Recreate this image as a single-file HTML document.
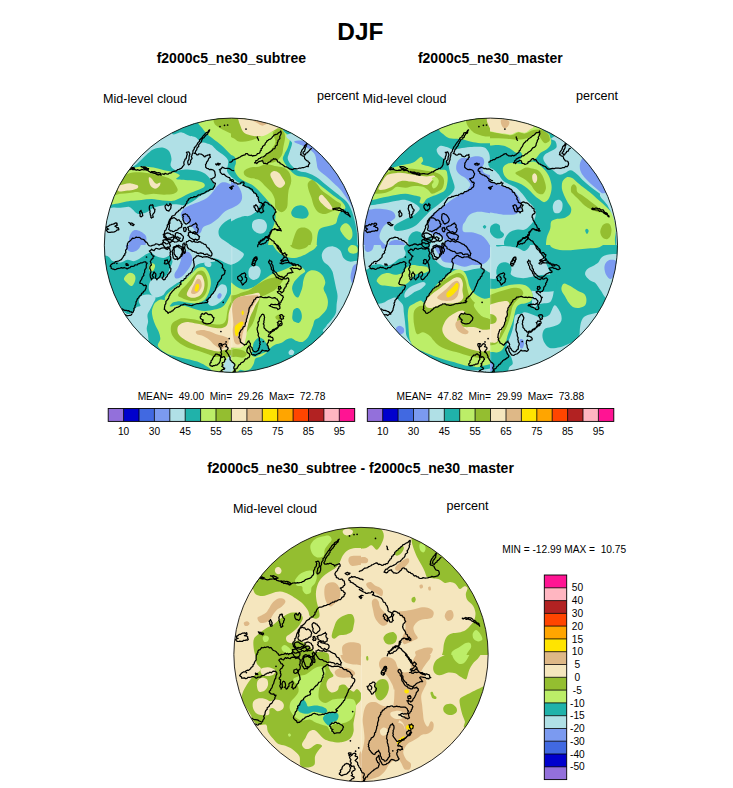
<!DOCTYPE html>
<html lang="en"><head><meta charset="utf-8"><title>DJF Mid-level cloud</title>
<style>html,body{margin:0;padding:0;background:#fff}body{width:733px;height:788px;overflow:hidden}svg{display:block}text{font-family:"Liberation Sans",sans-serif;fill:#000}.b{font-weight:bold}</style></head><body>
<svg width="733" height="788" viewBox="0 0 733 788">
<rect width="733" height="788" fill="#fff"/>
<defs><clipPath id="c1"><circle cx="231.5" cy="245.25" r="127.15"/></clipPath><clipPath id="c2"><circle cx="490.35" cy="245.25" r="127.15"/></clipPath><clipPath id="c3"><circle cx="361.0" cy="654.5" r="127.15"/></clipPath></defs>
<g clip-path="url(#c1)"><rect x="103.3" y="117.1" width="256.3" height="256.3" fill="#20B2AA"/><clipPath id="t1"><rect x="103" y="117" width="128" height="128"/></clipPath><g clip-path="url(#t1)"><rect x="103" y="117" width="128" height="128" fill="#B0E0E6"/><path d="M172 133.6C174 136.4 178.6 132 181.6 132.4C184.6 132.8 187.6 135.2 190 136C192.3 136.8 193.7 136.2 195.6 137.3C197.4 138.3 199.2 141.2 201 142.1C202.8 143.1 204.6 142.7 206.4 143.2C208.2 143.7 210.2 144.2 211.8 145.3C213.4 146.4 214.7 148.4 216.2 149.7C217.6 150.9 219.1 151.9 220.5 153C222 154.1 223.6 155 224.9 156.3C226.2 157.6 227.7 159 228.2 160.7C228.7 162.3 227.9 164.3 227.7 166.1C227.5 167.9 226.5 169.6 227.2 171.5C227.8 173.3 231.5 177.1 231.5 177.1L236.9 181.4L236.9 115.3L169.4 115.3C169.4 115.3 169.9 130.7 172 133.6Z" fill="#20B2AA"/><path d="M198.2 122.9C199 125 200.6 126.1 202 127.8C203.4 129.6 204.7 131.8 206.4 133.4C208 135.1 210 136.3 211.8 137.8C213.6 139.2 215.5 140.7 217.4 142.1C219.2 143.6 221.2 145.1 222.8 146.5C224.4 148 225.7 149.4 227.2 150.9C228.6 152.3 231.5 155.2 231.5 155.2L235.9 160.1L235.9 115.3L197.3 115.3C197.3 115.3 197.4 120.8 198.2 122.9Z" fill="#BCEE68"/><path d="M213.9 122.2C214.5 124 214.9 124.4 216.5 125.7C218.1 127 220.7 128.6 223.5 130.1C226.3 131.6 233.1 134.5 233.1 134.5L233.1 115.3L213 115.3C213 115.3 213.3 120.5 213.9 122.2Z" fill="#94BE30"/><path d="M129.2 168.5C136.8 166.3 142.6 157.7 146.7 154.5C150.7 151.3 151 150.5 153.6 149.3C156.3 148.1 159.8 147.3 162.4 147.6C164.9 147.9 167.5 149.2 169 151.1C170.5 152.9 171.2 156.4 171.5 158.9C171.7 161.4 169.9 164 170.8 165.9C171.6 167.8 174 169.7 176.3 170.3C178.7 170.8 181.9 169.4 185.1 169.4C188.3 169.4 192.2 169.5 195.6 170.3C198.9 171 202.4 171.9 205.2 173.8C207.9 175.6 210.5 179.4 212.1 181.6C213.7 183.8 215.2 185.2 214.8 186.8C214.3 188.5 211.8 189.8 209.5 191.2C207.2 192.7 203.4 194 200.8 195.6C198.2 197.2 196.4 199.2 193.8 200.8C191.2 202.4 188 204.6 185.1 205.2C182.2 205.8 179.8 204.3 176.3 204.3C172.8 204.3 167.9 204.6 164.1 205.2C160.3 205.8 156.6 206.6 153.6 207.8C150.7 209 149.3 211.2 146.7 212.2C144 213.2 140.3 214.4 137.9 213.9C135.6 213.5 134.1 210.7 132.7 209.6C131.2 208.4 131.2 207.2 129.2 206.9C127.2 206.6 123.4 207.7 120.5 207.8C117.6 208 114.9 207.1 111.7 207.8C108.5 208.5 101.3 212.2 101.3 212.2L101.3 167.6C101.3 167.6 121.6 170.7 129.2 168.5Z" fill="#20B2AA"/><path d="M130.9 167.6C137.9 167.4 139.4 166.4 143.2 166.4C146.9 166.4 150.1 167 153.6 167.6C157.1 168.3 160.6 169.4 164.1 170.3C167.6 171.1 172 171.7 174.6 172.5C177.2 173.4 179.5 174.4 179.8 175.5C180.1 176.6 175.5 178.3 176.3 179C177.2 179.7 181.9 179.6 185.1 179.9C188.3 180.2 192.5 180.2 195.6 180.7C198.6 181.3 202 182 203.4 183C204.9 184 205.3 185.6 204.3 186.8C203.3 188.1 199.9 189.2 197.3 190.3C194.7 191.5 191.5 192.5 188.6 193.8C185.7 195.1 182.5 197 179.8 198.2C177.2 199.4 175.8 200.4 172.8 200.8C169.9 201.2 165.9 200.8 162.4 200.5C158.9 200.2 155.4 199.2 151.9 199.1C148.4 199 144.9 199.7 141.4 199.9C137.9 200.2 134.1 200.4 130.9 200.8C127.7 201.3 125.1 202 122.2 202.6C119.3 203.1 117 203.9 113.5 204.3C110 204.7 101.3 205.2 101.3 205.2L101.3 167.6C101.3 167.6 124 167.8 130.9 167.6Z" fill="#BCEE68"/><path d="M124 174.6C127.4 174.3 129.5 172.9 132.7 172.5C135.9 172.2 139.7 172.2 143.2 172.5C146.7 172.8 150.1 173.6 153.6 174.3C157.1 174.9 161.1 175.4 164.1 176.4C167.2 177.3 170.1 178.4 172 179.9C173.9 181.3 174.5 183.4 175.5 185.1C176.4 186.8 178 188.9 177.7 190.3C177.4 191.8 176 193.1 173.7 193.8C171.5 194.6 167.5 194.7 164.1 194.7C160.8 194.7 156.8 193.8 153.6 193.8C150.4 193.8 147.5 195 144.9 194.7C142.3 194.4 140.5 192.4 137.9 192.1C135.3 191.8 132.1 192.7 129.2 193C126.3 193.3 123.4 193.7 120.5 193.8C117.6 194 113.2 197 111.7 193.8C110.3 190.6 109.7 177.8 111.7 174.6C113.8 171.4 120.5 175 124 174.6Z" fill="#94BE30"/><path d="M117 186.8C117.8 185.7 121.6 184.8 124 184.2C126.3 183.6 128.8 183.2 130.9 183.4C133.1 183.5 135.9 184.4 137.1 185.1C138.2 185.8 138.7 186.9 137.9 187.7C137.2 188.5 134.7 189.5 132.7 190C130.6 190.5 128 190.5 125.7 190.7C123.4 190.9 120.2 191.9 118.7 191.2C117.3 190.6 116.1 188 117 186.8Z" fill="#F5E6BE"/><path d="M148.8 177.8C149 176.8 150.6 177.7 151.5 178.5C152.5 179.3 153.6 181.6 154.5 182.5C155.4 183.4 156.2 183.7 157.1 183.7C158.1 183.7 159.8 182.2 160.3 182.5C160.7 182.8 160.4 184.4 159.8 185.5C159.1 186.5 157.4 188.2 156.3 188.6C155.1 189 153.8 188.5 152.8 187.7C151.7 187 150.5 185.9 149.8 184.2C149.1 182.6 148.5 178.7 148.8 177.8Z" fill="#F5E6BE"/><path d="M221.7 182.5C223.8 181.9 226.8 182.6 228.7 183.4C230.6 184.1 233.1 186.8 233.1 186.8L233.1 207.8C233.1 207.8 227.7 209.6 225.2 211.3C222.8 213 220.6 216.2 218.3 218.3C215.9 220.3 213.7 222.1 211.3 223.5C208.8 225 205.2 225.6 203.4 227C201.7 228.5 201.8 231.1 200.8 232.3C199.8 233.4 198.5 234.6 197.3 234C196.1 233.4 195.3 230.5 193.8 228.8C192.3 227 190.3 225 188.6 223.5C186.8 222.1 184.6 221.5 183.3 220C182 218.6 180.7 216.5 180.7 214.8C180.7 213 182 211 183.3 209.6C184.6 208.1 186.2 207.2 188.6 206.1C190.9 204.9 194.5 203.7 197.3 202.6C200.1 201.4 202.8 200.5 205.2 199.1C207.5 197.6 209.4 195.9 211.3 193.8C213.2 191.8 214.8 188.7 216.5 186.8C218.3 185 219.7 183.1 221.7 182.5Z" fill="#7B9AF0"/><path d="M129.2 237.5C129.9 234.7 131.7 231.5 133.6 230.5C135.5 229.5 138.5 230.5 140.5 231.4C142.6 232.3 144.8 234.1 145.8 235.7C146.7 237.3 146.5 239.1 146.3 241C146.2 242.9 144.9 247.1 144.9 247.1L129.2 247.1C129.2 247.1 128.5 240.3 129.2 237.5Z" fill="#7B9AF0"/><path d="M219.1 228.8C220.1 226.4 222.9 223.7 225.2 221.8C227.6 219.9 233.1 217.4 233.1 217.4L233.1 247.1C233.1 247.1 230.3 244.8 228.7 243.6C227.1 242.4 225.1 241.4 223.5 240.1C221.9 238.8 219.9 237.6 219.1 235.7C218.4 233.9 218.1 231.1 219.1 228.8Z" fill="#20B2AA"/></g><clipPath id="t2"><rect x="231" y="117" width="128" height="128"/></clipPath><g clip-path="url(#t2)"><rect x="231" y="117" width="128" height="128" fill="#BCEE68"/><path d="M229.3 154.5C229.3 154.5 233.4 155.4 234.5 156.8C235.6 158.2 235.9 160.7 235.9 162.8C235.9 164.8 234.1 167.1 234.5 169.4C234.8 171.7 236.2 174.3 238 176.4C239.7 178.4 242.4 180 245 181.6C247.6 183.2 250.9 183.9 253.7 186C256.5 188 259.1 191.2 261.6 193.8C264 196.5 266.5 199.4 268.5 201.7C270.6 204 272.6 205.3 273.8 207.8C274.9 210.3 275.5 213.6 275.5 216.5C275.5 219.4 274.7 222.4 273.8 225.3C272.9 228.2 271.3 230.4 270.3 234C269.3 237.6 267.7 247.1 267.7 247.1L229.3 247.1L229.3 154.5Z" fill="#20B2AA"/><path d="M229.3 175.5C229.3 175.5 230.2 176.1 231.5 177.1C232.8 178.1 235.1 180.2 236.9 181.4C238.7 182.7 240.3 183.3 242.4 184.6C244.4 185.8 247 187.5 249 188.9C251 190.4 252.9 192 254.4 193.3C255.9 194.6 256.8 195.4 257.7 197C258.6 198.5 259.6 200.8 259.8 202.6C260 204.4 259.7 206.2 258.9 207.8C258.2 209.4 257 211 255.4 212.3C253.8 213.7 251.3 215.2 249.3 215.8C247.4 216.5 245.8 215.8 243.7 216.2C241.7 216.6 239.2 217.4 236.8 218.5C234.3 219.5 229.3 222.6 229.3 222.6L229.3 175.5Z" fill="#B0E0E6"/><path d="M229.3 181.3C229.3 181.3 234.8 182.7 236.8 184.4C238.7 186.1 240.3 189.1 241.1 191.4C242 193.7 242.3 196.3 242 198.4C241.7 200.4 240.7 202.2 239.4 203.6C238.1 205.1 235.8 206.2 234.1 207.1C232.5 208 229.3 209.2 229.3 209.2L229.3 181.3Z" fill="#7B9AF0"/><path d="M252.8 221.8C253.6 220.3 255.4 219.5 257.2 219.2C258.9 218.8 261.7 218.8 263.3 219.7C264.9 220.6 266.4 222.6 266.8 224.4C267.2 226.2 266.8 229 265.9 230.5C265.1 232 263.2 233.3 261.6 233.6C260 234 257.9 233.6 256.3 232.6C254.8 231.6 252.9 229.7 252.3 227.9C251.7 226.1 252 223.2 252.8 221.8Z" fill="#B0E0E6"/><path d="M229.3 115.3L229.3 136.2C229.3 136.2 232.9 138 234.5 138.8C236.1 139.7 236.5 141.1 238.9 141.4C241.2 141.8 245.4 141.7 248.5 141.1C251.5 140.5 254.6 139.1 257.2 138C259.8 136.8 261.9 135.5 264.2 134.5C266.5 133.4 268.8 132.4 271.2 131.8C273.5 131.3 276.1 131.4 278.1 131C280.2 130.5 281.6 129.8 283.4 129.2C285.1 128.6 287.8 129.8 288.6 127.5C289.5 125.1 288.6 115.3 288.6 115.3L229.3 115.3Z" fill="#94BE30"/><path d="M272.9 132.7C273.9 130.8 279.6 129.5 281.6 130.1C283.7 130.7 284.8 133.4 285.1 136.2C285.4 139 284 143.5 283.4 146.7C282.8 149.9 283 152.9 281.6 155.4C280.3 157.9 277.9 160.3 275.5 161.5C273.2 162.8 270 163 267.7 162.8C265.3 162.5 261.9 161.2 261.6 159.8C261.3 158.4 264.2 156.4 265.9 154.5C267.7 152.7 270.4 150.6 272 148.4C273.6 146.2 275.4 144.1 275.5 141.4C275.7 138.8 271.9 134.6 272.9 132.7Z" fill="#94BE30"/><path d="M244.1 171.1C245 169.8 247.7 168.4 250.2 167.6C252.7 166.9 256.3 167.4 258.9 166.8C261.6 166.2 263.3 164.3 265.9 164.1C268.5 164 271.7 165.3 274.7 165.9C277.6 166.5 280.9 166.5 283.4 167.6C285.9 168.8 288.2 170.6 289.5 172.9C290.8 175.2 291.4 178.7 291.2 181.6C291.1 184.5 289.2 187.4 288.6 190.3C288 193.3 288 196.2 287.8 199.1C287.5 202 287.9 205.6 286.9 207.8C285.9 210 283.5 212.2 281.6 212.2C279.7 212.2 276.7 210 275.5 207.8C274.4 205.6 275.4 201.7 274.7 199.1C273.9 196.5 272.6 194.1 271.2 192.1C269.7 190.1 268 188.9 265.9 186.8C263.9 184.8 261.6 181.3 258.9 179.9C256.3 178.4 252.5 178.8 250.2 178.1C247.9 177.4 246 176.7 245 175.5C244 174.3 243.2 172.4 244.1 171.1Z" fill="#94BE30"/><path d="M270.3 174.6C270.4 173 272.3 171.4 273.8 171.1C275.2 170.8 277.6 171.7 279 172.9C280.5 174 281.5 176.4 282.5 178.1C283.5 179.9 285.4 181.8 285.1 183.4C284.8 185 282.2 187.3 280.8 187.7C279.3 188.2 277.7 187.1 276.4 186C275.1 184.8 273.9 182.6 272.9 180.7C271.9 178.8 270.1 176.2 270.3 174.6Z" fill="#F5E6BE"/><path d="M307.8 183.4C308.4 181.6 310.7 179.9 312.2 179.9C313.7 179.9 315 181.6 316.6 183.4C318.2 185.1 319.8 188.3 321.8 190.3C323.8 192.4 326.5 193.8 328.8 195.6C331.1 197.3 333.7 199.4 335.8 200.8C337.8 202.3 340.6 202.9 341 204.3C341.5 205.8 339.8 208.4 338.4 209.6C336.9 210.7 334.5 210.6 332.3 211.3C330.1 212 327.6 213.8 325.3 213.9C323 214.1 320.2 213.5 318.3 212.2C316.4 210.9 315.1 208.5 313.9 206.1C312.8 203.6 312.2 199.9 311.3 197.3C310.5 194.7 309.3 192.7 308.7 190.3C308.1 188 307.3 185.1 307.8 183.4Z" fill="#94BE30"/><path d="M319.2 196.5C319.6 195.6 320.6 194.3 321.8 194.7C323 195.1 324.6 197.2 326.2 199.1C327.8 201 330.4 204.3 331.4 206.1C332.4 207.8 332.9 209.1 332.3 209.6C331.7 210 329.5 209.6 327.9 208.7C326.3 207.8 324.1 205.8 322.7 204.3C321.2 202.9 319.8 201.3 319.2 199.9C318.6 198.6 318.7 197.3 319.2 196.5Z" fill="#F5E6BE"/><path d="M291.2 247.1C291.2 247.1 292.7 240.5 293.9 237.5C295 234.4 296.2 230.4 298.2 228.8C300.3 227.2 303.9 227.3 306.1 227.9C308.3 228.5 310.3 230.4 311.3 232.3C312.3 234.1 312.5 236.8 312.2 239.2C311.9 241.7 309.6 247.1 309.6 247.1L291.2 247.1Z" fill="#94BE30"/><path d="M237.1 115.3C237.1 115.3 238.6 121.1 239.7 124C240.9 126.9 241.8 130.7 244.1 132.7C246.4 134.7 250.5 135.3 253.7 135.9C256.9 136.4 260.5 136.4 263.3 135.9C266.1 135.3 268.1 133.5 270.3 132.4C272.5 131.2 274.5 129.8 276.4 128.9C278.3 127.9 280.8 128.9 281.6 126.6C282.5 124.3 281.6 115.3 281.6 115.3L237.1 115.3Z" fill="#F5E6BE"/><path d="M252.8 119.6C251.7 120.3 255.6 122.1 257.2 123.1C258.8 124.1 260.8 125.7 262.4 125.7C264 125.7 266.5 124.3 266.8 123.1C267.1 121.9 266.5 119.3 264.2 118.7C261.9 118.2 254 118.9 252.8 119.6Z" fill="#DEB887"/><path d="M287.8 127.5C275.9 129.2 290 134.6 290 138C290 141.3 288.7 144.8 287.8 147.6C286.8 150.3 285 152.5 284.3 154.5C283.5 156.6 282.3 157.5 283 159.8C283.8 162.1 286.4 165.9 288.6 168.5C290.9 171.1 293.6 174 296.5 175.5C299.4 177 303 176.3 306.1 177.2C309.1 178.2 311.8 179.4 314.8 181.3C317.9 183.2 321.4 186.2 324.4 188.6C327.5 191 330.2 193.4 333.2 195.6C336.1 197.8 339.8 199.7 341.9 201.7C343.9 203.7 345.7 206.1 345.4 207.8C345.1 209.6 341.5 210.4 340.1 212.2C338.8 213.9 338.2 216.4 337.5 218.3C336.8 220.2 337.2 222.2 335.8 223.5C334.3 224.8 331.4 225.3 328.8 226.1C326.2 227 322 227.2 320.1 228.8C318.2 230.4 318 232.7 317.4 235.7C316.9 238.8 316.6 247.1 316.6 247.1L361.1 247.1L361.1 127.5C361.1 127.5 299.6 125.7 287.8 127.5Z" fill="#20B2AA"/><path d="M291.2 133.6C279 135.3 292.4 140.1 292.1 143.2C291.8 146.2 290.2 149.3 289.5 151.9C288.8 154.5 287.3 156.6 287.8 158.9C288.2 161.2 290.2 163.9 292.1 165.9C294 167.9 296.5 170 299.1 171.1C301.7 172.3 304.9 171.9 307.8 172.9C310.7 173.9 313.7 175.4 316.6 177.2C319.5 179.1 322.4 181.9 325.3 184.2C328.2 186.6 331.1 188.9 334 191.2C336.9 193.5 340.4 196.2 342.8 198.2C345.1 200.2 346.5 201.2 348 203.4C349.5 205.7 350.9 208.6 352 211.5C353.1 214.3 353.8 217.3 354.6 220.6C355.4 223.8 356.3 227.7 356.7 231C357.2 234.3 357.1 237.6 357.3 240.3C357.4 243 357.6 247.1 357.6 247.1L365.5 247.1L365.5 132.7C365.5 132.7 303.5 131.8 291.2 133.6Z" fill="#B0E0E6"/><path d="M298.2 140.6C287.8 141.6 300.7 144.4 302.6 145.8C304.5 147.3 307.5 147.9 309.6 149.3C311.6 150.8 313.7 152.4 314.8 154.5C316 156.7 316 159.9 316.6 162.4C317.1 164.9 316.9 167.2 318.3 169.4C319.8 171.6 322.7 173.2 325.3 175.5C327.9 177.8 331.4 180.9 334 183.4C336.6 185.8 338.8 187.7 341 190.3C343.2 193 345.4 196.6 347.1 199.1C348.8 201.5 350 202.9 351.1 205.2C352.3 207.5 353.3 210.1 354.1 212.7C355 215.3 355.6 217.5 356.2 220.6C356.8 223.6 357.6 227.7 358 231C358.3 234.3 358.3 237.6 358.5 240.3C358.6 243 358.8 247.1 358.8 247.1L365.5 247.1L365.5 139.7C365.5 139.7 308.7 139.6 298.2 140.6Z" fill="#7B9AF0"/><path d="M291.2 212.2C291.5 210.6 293.1 208.1 294.7 206.9C296.3 205.8 299 205 300.8 205.2C302.7 205.3 304.8 206.3 306.1 207.8C307.4 209.3 308.9 212.2 308.7 213.9C308.6 215.7 307 217.6 305.2 218.3C303.5 219 300.3 218.6 298.2 218.3C296.2 218 294.2 217.6 293 216.5C291.8 215.5 291 213.8 291.2 212.2Z" fill="#20B2AA"/><path d="M340.1 228.8C340.3 227.3 341.6 225.3 342.8 224.4C343.9 223.5 345.7 222.8 347.1 223.5C348.6 224.2 350.6 226.7 351.5 228.8C352.4 230.8 352.7 233.9 352.4 235.7C352.1 237.6 350.9 239.8 349.7 240.1C348.6 240.4 346.7 238.7 345.4 237.5C344.1 236.3 342.8 234.6 341.9 233.1C341 231.7 340 230.2 340.1 228.8Z" fill="#BCEE68"/></g><clipPath id="t3"><rect x="103" y="245" width="128" height="128"/></clipPath><g clip-path="url(#t3)"><rect x="103" y="245" width="128" height="128" fill="#20B2AA"/><path d="M101.3 243.3L101.3 255.1C101.3 255.1 106.3 255.4 108.2 256.4C110.1 257.3 110.6 260 112.6 261.1C114.6 262.1 118 262.7 120.5 262.5C122.9 262.3 125.1 260.1 127.4 259.8C129.8 259.6 132.2 261.4 134.4 261.1C136.6 260.8 138.5 259.3 140.5 258.1C142.6 256.9 144.8 255 146.7 254.1C148.5 253.2 150.4 252.6 151.9 252.9C153.4 253.1 153.5 255 155.4 255.8C157.3 256.7 160.8 258.1 163.2 258.1C165.7 258.1 168.3 255.5 170.2 255.8C172.1 256.1 173.6 259.9 174.6 259.8C175.6 259.8 175.2 256.8 176.3 255.5C177.5 254.2 180.1 254 181.6 252C183 249.9 185.1 243.3 185.1 243.3L101.3 243.3Z" fill="#B0E0E6"/><path d="M170.2 255.5C170.8 256.9 173.9 252.9 176.3 252C178.8 251.1 182.2 250.2 185.1 250.2C188 250.2 191.2 251.1 193.8 252C196.4 252.9 198.5 254.5 200.8 255.5C203.1 256.4 205.6 257.1 207.8 257.6C210 258 212.1 257.9 214.1 258.3C216 258.6 217.3 258.9 219.3 259.7C221.3 260.5 224 262.2 226.3 263.2C228.6 264.2 233.1 265.6 233.1 265.6L233.1 243.3L172.8 243.3C172.8 243.3 169.6 254 170.2 255.5Z" fill="#B0E0E6"/><path d="M170.2 255.5C170.9 253.9 173.9 252.9 176.3 252C178.8 251.1 182.2 250.2 185.1 250.2C188 250.2 191.2 251.1 193.8 252C196.4 252.9 198.5 254.6 200.8 255.5C203.1 256.4 205.4 256.6 207.8 257.2C210.1 257.8 213.6 258.2 214.8 259C215.9 259.7 215.9 261 214.8 261.6C213.6 262.2 210.1 262.2 207.8 262.5C205.4 262.8 202.8 262.8 200.8 263.3C198.8 263.9 197 264.4 195.6 266C194.1 267.6 193.8 270.8 192.1 272.9C190.3 275.1 187.4 277.5 185.1 279.1C182.7 280.7 180.1 281.4 178.1 282.5C176.1 283.7 174.7 284.7 172.8 286C171 287.3 168.5 288.8 166.7 290.4C165 292 164.3 294.5 162.4 295.6C160.5 296.8 157.3 297.7 155.4 297.4C153.5 297.1 152.1 295.4 151 293.9C149.9 292.4 149 290.5 148.8 288.7C148.5 286.8 149 284.1 149.8 282.5C150.6 280.9 151.8 279.8 153.6 279.1C155.4 278.3 158.6 278.7 160.6 278.2C162.7 277.7 164.4 277.5 165.9 276.1C167.3 274.6 168.3 271.9 169.4 269.4C170.5 267 172.4 263.9 172.5 261.6C172.6 259.3 169.6 257.1 170.2 255.5Z" fill="#B0E0E6"/><path d="M150.1 294.8C151.9 295.2 154.8 296.1 155.4 297.4C156 298.7 154.5 300.7 153.6 302.6C152.8 304.5 151.5 306.7 150.5 308.7C149.5 310.8 147.9 312.7 147.5 314.8C147.1 317 148.2 319.5 148.1 321.8C147.9 324.2 146.7 326.5 146.7 328.8C146.7 331.1 148.1 333.2 148.1 335.8C148.1 338.4 149.8 343.1 146.7 344.5C143.5 346 134.7 348 129.2 344.5C123.7 341 114.9 329.3 113.5 323.6C112 317.9 118.1 312.1 120.5 310.5C122.8 308.9 125.4 313.7 127.4 314C129.5 314.3 131.2 313.3 132.7 312.2C134.1 311.2 134.9 308.6 136.2 307.5C137.5 306.4 140.1 306.7 140.5 305.8C141 304.8 138.8 303.3 138.8 301.8C138.8 300.2 139.5 297.7 140.5 296.5C141.6 295.4 143.3 295.1 144.9 294.8C146.5 294.5 148.4 294.3 150.1 294.8Z" fill="#B0E0E6"/><path d="M125.7 243.3C125.7 243.3 125.7 247 126.6 248.5C127.4 249.9 129.2 251.7 130.9 252C132.7 252.3 135.5 251.3 137.1 250.2C138.7 249.2 140 247 140.5 245.9C141.1 244.7 140.5 243.3 140.5 243.3L125.7 243.3Z" fill="#7B9AF0"/><path d="M182.5 252.9C183.8 251.4 187 251.3 188.6 252C190.2 252.7 191.6 255.2 192.1 257.2C192.5 259.3 192.1 261.9 191.2 264.2C190.3 266.5 188.6 269 186.8 271.2C185.1 273.4 182.6 276.1 180.7 277.3C178.8 278.5 176.5 278.8 175.5 278.2C174.5 277.6 174.2 275.6 174.6 273.8C175 272.1 177.1 269.9 178.1 267.7C179.1 265.5 180 263.2 180.7 260.7C181.4 258.2 181.1 254.3 182.5 252.9Z" fill="#7B9AF0"/><path d="M207.8 302.6C207.6 300.9 209.8 298 211.3 295.6C212.7 293.3 214.8 290.5 216.5 288.7C218.3 286.8 220.1 284.7 221.7 284.3C223.3 283.9 225.2 284.7 226.1 286C227 287.3 227.4 290 227 292.1C226.5 294.3 224.9 297.2 223.5 299.1C222 301 220.1 302.3 218.3 303.5C216.4 304.7 213.9 306.3 212.1 306.1C210.4 306 207.9 304.4 207.8 302.6Z" fill="#B0E0E6"/><path d="M217.4 295.6C217.7 294.8 218.9 293.2 219.6 293C220.4 292.9 221.6 293.9 221.7 294.8C221.9 295.6 221 297.7 220.3 298.3C219.7 298.8 218.4 298.7 217.9 298.3C217.4 297.8 217.1 296.5 217.4 295.6Z" fill="#7B9AF0"/><path d="M204.3 263.3C204.6 262.5 206.6 261.6 207.8 261.6C208.9 261.6 210.8 262.5 211.3 263.3C211.7 264.2 211.3 266.3 210.4 266.8C209.5 267.3 207 266.9 206 266.3C205 265.7 204 264.1 204.3 263.3Z" fill="#B0E0E6"/><path d="M124 278.2C124.4 276.6 127.4 273.5 129.2 272.9C130.9 272.4 133.4 273.5 134.4 274.7C135.5 275.9 135.7 278 135.3 279.9C134.9 281.8 133.3 285.6 131.8 286C130.4 286.5 127.9 283.9 126.6 282.5C125.3 281.2 123.5 279.8 124 278.2Z" fill="#BCEE68"/><path d="M148.8 266.8C149 265.5 150.8 263.6 151.9 263.3C152.9 263 154.7 263.9 155 265.1C155.3 266.2 154.5 269.3 153.6 270.3C152.8 271.3 151 271.8 150.1 271.2C149.3 270.6 148.5 268.1 148.8 266.8Z" fill="#BCEE68"/><path d="M198.2 267.7C199.9 267.1 202.5 266.5 204.3 267.4C206 268.2 207.5 270.6 208.6 272.9C209.8 275.3 210.8 278.8 210.9 281.7C211.1 284.6 210.3 287.8 209.5 290.4C208.8 293 207.5 295.6 206.4 297.4C205.2 299.2 204.3 300.2 202.5 301.2C200.7 302.2 198.2 303.3 195.6 303.5C192.9 303.7 189.4 303 186.8 302.6C184.2 302.2 182.2 301.2 179.8 301.2C177.5 301.2 174.6 301.8 172.8 302.6C171.1 303.4 170.5 306.1 169.4 306.1C168.2 306.1 166.6 304.1 165.9 302.6C165.1 301.2 164.4 299.1 165 297.4C165.6 295.6 167.8 293.7 169.4 292.1C171 290.5 172.6 289.4 174.6 287.8C176.6 286.2 179.3 284.4 181.6 282.5C183.9 280.7 186.5 278.3 188.6 276.4C190.6 274.5 192.2 272.6 193.8 271.2C195.4 269.7 196.4 268.3 198.2 267.7Z" fill="#BCEE68"/><path d="M155.4 302.6C156.6 301.5 158.7 299.7 160.6 299.5C162.5 299.3 165.1 300.1 166.7 301.2C168.3 302.4 168.6 305.8 170.2 306.5C171.8 307.1 173.9 305.3 176.3 305.2C178.8 305.2 182.2 305.5 185.1 306.1C188 306.7 190.6 307.9 193.8 308.7C197 309.6 200.8 310.9 204.3 311C207.7 311.2 211.6 310.2 214.4 309.6C217.2 309.1 219.1 308.6 220.9 307.7C222.6 306.8 223.7 305.8 224.9 304.4C226.1 302.9 227.2 300.9 228.2 299.1C229.2 297.4 230 295.5 230.8 293.9C231.6 292.3 233.1 289.5 233.1 289.5L233.1 375.1L214.8 375.1C214.8 375.1 212.9 371.5 211.3 369.9C209.7 368.3 207.5 366.9 205.2 365.5C202.8 364.1 200.4 362.8 197.3 361.6C194.2 360.5 190.3 359.7 186.8 358.9C183.3 358 179.7 357.3 176.3 356.4C173 355.5 169.8 355.3 166.7 353.6C163.7 351.9 159.1 348.7 158 346.3C156.9 343.9 160.1 341.6 160.3 339.3C160.4 337 159.7 334.6 158.9 332.3C158.1 330 156.4 327.7 155.4 325.3C154.4 323 153.5 320.7 152.9 318.3C152.4 316 151.8 313.4 151.9 311.4C152 309.3 152.7 307.6 153.3 306.1C153.9 304.7 154.2 303.7 155.4 302.6Z" fill="#BCEE68"/><path d="M198.2 271.2C199.6 270.6 202 270.2 203.4 271.2C204.9 272.2 206.2 275 206.9 277.3C207.6 279.6 207.9 282.5 207.8 285.2C207.6 287.8 207 290.8 206 293C205 295.2 203.4 297 201.7 298.3C199.9 299.6 197.7 300.5 195.6 300.9C193.4 301.3 190.7 301 188.6 300.5C186.4 300.1 184.2 299.1 182.5 298.3C180.7 297.4 178.4 297 178.1 295.6C177.8 294.3 179.5 292 180.7 290.4C181.9 288.8 183.5 287.8 185.1 286C186.7 284.3 188.7 281.8 190.3 279.9C191.9 278 193.4 276.1 194.7 274.7C196 273.2 196.7 271.8 198.2 271.2Z" fill="#94BE30"/><path d="M197.3 274.7C198.5 274.1 200.5 274.4 201.7 275.6C202.8 276.7 203.9 279.5 204.3 281.7C204.7 283.9 204.5 286.5 203.9 288.7C203.4 290.8 202.2 293.3 200.8 294.8C199.4 296.2 197.3 297 195.6 297.4C193.8 297.8 191.8 297.8 190.3 297.4C188.9 297 187.1 296.1 186.8 294.8C186.5 293.5 187.7 291.3 188.6 289.5C189.4 287.8 191 286 192.1 284.3C193.1 282.5 193.8 280.7 194.7 279.1C195.6 277.5 196.1 275.3 197.3 274.7Z" fill="#F5E6BE"/><path d="M197.3 279.1C198.3 278.5 199.7 278.8 200.4 279.9C201.2 281.1 201.9 284.1 201.7 286C201.4 287.9 200.2 290 199 291.3C197.9 292.6 196 293.6 194.7 293.9C193.4 294.2 191.6 293.9 191.2 293C190.7 292.1 191.5 290.3 192.1 288.7C192.6 287.1 193.8 285 194.7 283.4C195.6 281.8 196.3 279.6 197.3 279.1Z" fill="#DEB887"/><path d="M196.4 284.3C197 283.9 198.3 283.7 198.7 284.3C199.1 284.9 199.3 286.6 199 287.8C198.8 288.9 198 290.8 197.3 291.3C196.6 291.8 195 291.5 194.7 290.8C194.3 290 194.9 288 195.2 286.9C195.5 285.8 195.8 284.7 196.4 284.3Z" fill="#FFE400"/><path d="M237.5 294.8L231.7 300.5C231.7 300.5 229.5 304.3 228.7 306.3C228 308.2 227.5 310.4 227.2 312.2C226.8 314.1 226.8 315.8 226.5 317.5C226.1 319.1 225.8 320.9 224.9 322C224 323.1 222.6 323.9 220.9 324.3C219.1 324.7 216.8 324.5 214.4 324.3C212 324 209.2 323.3 206.6 322.7C203.9 322.1 201.3 321 198.7 320.4C196.1 319.8 193.5 319.4 190.8 319C188.2 318.7 184.8 318.4 183 318.3C181.1 318.3 181.5 318 179.8 318.7C178.1 319.4 174.4 321 172.8 322.7C171.3 324.4 170.8 326.6 170.8 328.8C170.7 331 171.3 333.6 172.5 335.8C173.7 338 175.7 340 178.1 341.9C180.5 343.8 183.6 345.7 186.8 347.2C190 348.6 194.1 349.6 197.3 350.6C200.5 351.7 203.1 352.6 206 353.6C208.9 354.6 212.1 356.2 214.8 356.8C217.4 357.3 218.7 356.8 221.7 356.8C224.8 356.8 233.1 356.8 233.1 356.8L237.5 294.8Z" fill="#94BE30"/><path d="M235.7 300C235.7 300 232 304.7 230.8 307C229.7 309.3 229.2 311.4 228.7 313.6C228.3 315.8 228.5 318.1 228.2 320.1C227.9 322 227.8 324 226.8 325.3C225.8 326.6 224.1 327.5 222.3 327.9C220.4 328.4 217.8 328.2 215.6 327.9C213.5 327.7 211.4 327.2 209.2 326.7C207 326.2 204.7 325.3 202.5 324.8C200.4 324.3 198.3 324 196.1 323.6C193.9 323.1 191.6 322.3 189.4 322.2C187.3 322 185.2 322 183.3 322.7C181.4 323.4 179 324.6 178.1 326.2C177.2 327.8 177.2 330.4 177.7 332.3C178.3 334.2 179.5 335.8 181.6 337.6C183.7 339.3 187.4 341.3 190.3 342.8C193.2 344.2 195.8 345.1 199 346.3C202.2 347.4 206.3 348.9 209.5 349.8C212.7 350.6 215.6 351.5 218.3 351.5C220.9 351.5 222.8 350.1 225.2 349.8C227.7 349.5 233.1 349.8 233.1 349.8L235.7 300Z" fill="#F5E6BE"/><path d="M196.1 331.3C196.9 330.5 200.4 329.9 202.5 329.9C204.7 329.9 207 330.6 209.2 331.3C211.4 331.9 213.5 333.1 215.6 333.9C217.8 334.6 220.3 335.2 222.3 335.8C224.2 336.4 226.4 337 227.5 337.7C228.6 338.5 228.6 339.4 228.7 340.3C228.8 341.3 228.6 342.7 228.2 343.7C227.8 344.7 227.1 345.4 226.1 346.3C225.1 347.2 223.6 348.7 222.3 348.9C221 349.1 219.6 348.3 218.3 347.7C216.9 347 215.9 346.4 214.4 345.1C212.9 343.8 211.2 341.4 209.2 339.8C207.2 338.3 204.5 336.7 202.5 335.8C200.6 334.9 198.4 335.3 197.3 334.6C196.2 333.8 195.2 332.1 196.1 331.3Z" fill="#DEB887"/><path d="M233.1 354.1C233.1 354.1 230 355.6 228.7 356.8C227.4 357.9 226.2 359.4 225.2 361.1C224.3 362.9 223.4 364.9 223.1 367.2C222.9 369.6 223.5 375.1 223.5 375.1L233.1 375.1L233.1 354.1Z" fill="#B0E0E6"/></g><clipPath id="t4"><rect x="231" y="245" width="128" height="128"/></clipPath><g clip-path="url(#t4)"><rect x="231" y="245" width="128" height="128" fill="#20B2AA"/><path d="M272 243.3C272 243.3 274.5 248.2 276.4 250.2C278.3 252.3 280.8 254.2 283.4 255.5C286 256.8 289.2 258 292.1 258.1C295 258.2 298.2 257.2 300.8 256.4C303.5 255.5 305.5 254.2 307.8 252.9C310.2 251.5 313.1 250.1 314.8 248.5C316.6 246.9 318.3 243.3 318.3 243.3L272 243.3Z" fill="#BCEE68"/><path d="M289.5 243.3C289.5 243.3 290.5 246.6 292.1 247.6C293.7 248.6 296.8 249.4 299.1 249.4C301.4 249.4 304.3 248.6 306.1 247.6C307.8 246.6 309.6 243.3 309.6 243.3L289.5 243.3Z" fill="#94BE30"/><path d="M229.3 243.3C229.3 243.3 229.8 244.4 231.7 245.7C233.6 247 238.4 249.5 240.4 250.9C242.5 252.4 243.9 253 243.9 254.4C243.9 255.9 241.9 258.2 240.4 259.7C239 261.1 237.1 262.2 235.2 263.2C233.3 264.1 229.3 265.3 229.3 265.3L229.3 243.3Z" fill="#B0E0E6"/><path d="M248.5 271.2C248.8 269.4 249.6 267.7 251.1 266.8C252.5 266 255.6 265.4 257.2 266C258.8 266.5 260.4 268.4 260.7 270.3C261 272.2 260.1 275.7 258.9 277.3C257.8 278.9 255.3 279.9 253.7 279.9C252.1 279.9 250.2 278.8 249.3 277.3C248.5 275.9 248.2 272.9 248.5 271.2Z" fill="#B0E0E6"/><path d="M321.8 254.6C322.1 252.4 323.4 249.9 325.3 248.5C327.2 247.1 330.7 246.1 333.2 246.4C335.6 246.7 338.4 248.3 340.1 250.2C341.9 252.2 342 256.2 343.6 258.1C345.2 260 346.8 261.3 349.7 261.6C352.7 261.9 361.1 259.8 361.1 259.8L361.1 332.3C361.1 332.3 331.1 333.3 325.3 332.3C319.5 331.3 325.2 328.2 326.2 326.2C327.2 324.2 329.8 322.3 331.4 320.1C333 317.9 334.9 315.7 335.8 313.1C336.6 310.5 336.4 307.3 336.6 304.4C336.9 301.5 337.7 298.6 337.5 295.6C337.4 292.7 336.4 289.8 335.8 286.9C335.2 284 334.6 280.8 334 278.2C333.4 275.6 333.2 273.2 332.3 271.2C331.4 269.2 330.2 267.6 328.8 266C327.3 264.4 324.7 263.5 323.6 261.6C322.4 259.7 321.5 256.8 321.8 254.6Z" fill="#B0E0E6"/><path d="M351.5 271.2C352.1 269 352.5 266.5 354.1 265.1C355.7 263.6 361.1 262.5 361.1 262.5L361.1 285.2C361.1 285.2 355 285.5 353.2 284.3C351.5 283.1 350.9 280.4 350.6 278.2C350.3 276 350.9 273.4 351.5 271.2Z" fill="#7B9AF0"/><path d="M348 248.5C348.4 247.3 350 245.3 351.5 245C352.9 244.7 355.7 245.6 356.7 246.7C357.7 247.9 358.2 250.8 357.6 252C357 253.1 354.7 253.7 353.2 253.7C351.8 253.7 349.7 252.9 348.9 252C348 251.1 347.6 249.7 348 248.5Z" fill="#BCEE68"/><path d="M229.3 280.8C229.3 280.8 232.5 283.7 234 284.8C235.4 285.9 236.2 286.7 238 287.4C239.7 288.2 242.3 289.3 244.4 289.4C246.6 289.4 249.1 288.6 251.1 288C253.1 287.3 254.6 286.5 256.3 285.3C258.1 284.2 259.8 282.5 261.6 281.1C263.3 279.8 264.9 278.7 266.8 277.5C268.7 276.3 270.4 274.9 272.9 273.8C275.4 272.7 279 271.9 281.6 270.8C284.3 269.8 286.3 268.7 288.6 267.7C291 266.7 293.6 265.2 295.6 265.1C297.6 264.9 299.2 265.8 300.8 266.8C302.5 267.8 305.2 269.9 305.2 271.2C305.2 272.5 302.2 273.5 300.8 274.7C299.5 275.9 298.5 276.9 297.4 278.2C296.2 279.5 294.7 280.8 293.9 282.5C293 284.3 292 286.5 292.1 288.7C292.3 290.8 293.7 294.2 294.7 295.6C295.8 297.1 297.2 298 298.2 297.4C299.2 296.8 300.1 294 300.8 292.1C301.6 290.3 302.2 288.1 302.6 286C303 284 302.9 282 303.5 279.9C304.1 277.9 304.8 275.4 306.1 273.8C307.4 272.2 309.4 270.8 311.3 270.3C313.2 269.9 315.5 270.3 317.4 271.2C319.3 272.1 321.4 273.7 322.7 275.6C324 277.5 325.2 280.4 325.3 282.5C325.4 284.7 323.4 286.6 323.6 288.7C323.7 290.7 325.4 292.7 326.2 294.8C326.9 296.8 327.8 298.7 327.9 300.9C328.1 303.1 327.8 305.8 327 307.9C326.3 309.9 324.9 311.5 323.6 313.1C322.2 314.7 320.6 316.3 319.2 317.5C317.7 318.6 315.8 318.8 314.8 320.1C313.8 321.4 313.8 323.3 313.1 325.3C312.3 327.4 311.3 330.3 310.5 332.3C309.6 334.3 309.1 336 307.8 337.6C306.5 339.2 304.5 341.3 302.6 341.9C300.7 342.5 298.2 341.6 296.5 341C294.7 340.5 293.7 338.7 292.1 338.4C290.5 338.1 288.6 338.6 286.9 339.3C285.1 340 283.5 341.9 281.6 342.8C279.7 343.7 277.4 343.7 275.5 344.5C273.6 345.4 271.9 346.6 270.3 348C268.7 349.5 267.5 351.8 265.9 353.3C264.3 354.7 262.4 355.9 260.7 356.8C258.9 357.6 256.6 357.3 255.4 358.5C254.3 359.7 254.6 362 253.7 363.7C252.8 365.5 251.7 367.8 250.2 369C248.8 370.1 246.7 370.6 245 370.7C243.2 370.9 241.2 369.1 239.7 369.9C238.3 370.6 236.2 375.1 236.2 375.1L229.3 375.1L229.3 280.8Z" fill="#BCEE68"/><path d="M292.5 314.8C292.7 313.2 292.9 310.7 293.9 309.6C294.8 308.5 297 307.8 298.2 308.2C299.5 308.7 300.6 310.5 301.2 312.2C301.8 313.9 302.1 316.6 301.7 318.3C301.4 320.1 300.3 322.1 299.1 322.7C297.9 323.3 295.8 322.4 294.7 321.8C293.6 321.3 292.8 320.4 292.5 319.2C292.1 318.1 292.2 316.5 292.5 314.8Z" fill="#20B2AA"/><path d="M253.7 342.8C254.7 340.8 257.3 338.1 258.9 337.6C260.5 337 262.1 338.4 263.3 339.3C264.5 340.2 265.1 341.6 265.9 342.8C266.8 344 267.9 345.1 268.5 346.3C269.2 347.4 270.2 348.8 269.8 349.8C269.3 350.7 267.4 351.1 265.9 351.9C264.4 352.6 262.4 353.3 260.7 354.1C258.9 355 256.9 356.6 255.4 356.8C254 356.9 252.4 356.2 252 355C251.5 353.8 252.5 351.8 252.8 349.8C253.1 347.7 252.7 344.8 253.7 342.8Z" fill="#20B2AA"/><path d="M229.3 295.6C229.3 295.6 234 295.3 236.1 294.8C238.2 294.2 239.8 293.2 241.8 292.5C243.9 291.8 246.5 291.3 248.5 290.4C250.4 289.5 251.7 288.2 253.7 286.9C255.7 285.6 258.4 283.9 260.7 282.5C263 281.2 265.3 279.9 267.7 279.1C270 278.2 272.5 277.9 274.7 277.3C276.8 276.7 279.2 275.6 280.8 275.6C282.4 275.6 284.1 276.1 284.3 277.3C284.4 278.5 282.8 280.8 281.6 282.5C280.5 284.3 278.7 286.3 277.3 287.8C275.8 289.2 274.8 290.1 272.9 291.3C271 292.4 268 293.7 265.9 294.8C263.9 295.8 261.9 296.1 260.7 297.4C259.5 298.7 259.5 300.6 258.9 302.6C258.4 304.7 257.8 307.3 257.2 309.6C256.6 311.9 256.2 314.3 255.4 316.6C254.7 318.9 253.8 321.5 252.8 323.6C251.8 325.6 250.5 327.1 249.3 328.8C248.2 330.6 246.9 332.2 245.8 334.1C244.8 336 244.2 338.3 243.2 340.2C242.2 342.1 241.2 344.1 239.7 345.4C238.3 346.7 236.2 347.4 234.5 348C232.7 348.6 229.3 348.9 229.3 348.9L229.3 295.6Z" fill="#94BE30"/><path d="M229.3 349.8C229.3 349.8 233.9 348.8 236.2 348.9C238.6 349 241.5 349.8 243.2 350.6C245 351.5 246.7 353 246.7 354.1C246.7 355.3 245 357.2 243.2 357.6C241.5 358.1 238.6 356.8 236.2 356.8C233.9 356.8 229.3 357.6 229.3 357.6L229.3 349.8Z" fill="#94BE30"/><path d="M275.5 316.6C276 315.8 277.9 314.5 279 314.5C280.1 314.5 281.8 315.7 282 316.6C282.1 317.5 280.8 319.3 279.9 319.7C279 320.2 277.1 319.7 276.4 319.2C275.7 318.7 275.1 317.4 275.5 316.6Z" fill="#94BE30"/><path d="M227.5 320.1L228.9 313.6L230.8 307C230.8 307 232.6 302.7 234 301.1C235.4 299.4 237.2 298.2 239.2 297.2C241.2 296.3 243.7 295.8 245.8 295.3C248 294.7 250.2 294.3 252.3 293.9C254.4 293.5 256.9 292.6 258.2 292.8C259.6 293.1 260 294.1 260.2 295.3C260.3 296.5 259.7 298.2 258.9 299.8C258.2 301.5 256.6 303.2 255.6 305.1C254.6 306.9 253.9 309.1 253 311C252.1 312.9 251.1 314.3 250.4 316.2C249.6 318.2 249 320.5 248.5 322.7C247.9 324.9 247.4 327.4 247.1 329.3C246.7 331.3 246.9 332.6 246.5 334.6C246.2 336.5 245.6 339.2 245.1 341C244.7 342.9 244.7 344.5 243.9 345.6C243.2 346.7 242 347.3 240.6 347.7C239.2 348 237.5 347.7 235.4 347.7C233.2 347.7 227.5 347.7 227.5 347.7L227.5 320.1Z" fill="#F5E6BE"/><path d="M232.7 303.2C233.3 301.4 234.1 300.2 235.4 299.1C236.7 298 238.7 297.1 240.6 296.5C242.6 296 244.9 296 247.1 295.8C249.2 295.6 251.8 295.3 253.7 295.3C255.6 295.3 257.8 294.9 258.2 295.8C258.7 296.7 257.2 298.9 256.3 300.5C255.4 302.2 254.1 304 253 305.8C251.9 307.5 250.7 309.3 249.7 311C248.7 312.8 247.8 314.3 247.1 316.2C246.3 318.2 245.7 320.5 245.1 322.7C244.6 324.9 244.4 327.4 243.9 329.3C243.5 331.3 242.9 332.8 242.5 334.6C242.2 336.3 242.1 338.3 241.8 339.8C241.5 341.3 241.4 342.9 240.6 343.7C239.8 344.4 238.3 344.6 237.3 344.4C236.3 344.2 235.3 343.6 234.7 342.4C234 341.2 233.8 339.2 233.4 337.2C233.1 335.2 232.7 332.7 232.7 330.6C232.7 328.4 233.4 326.5 233.4 324.1C233.4 321.7 233 318.7 232.7 316.2C232.5 313.8 232 311.8 232 309.6C232 307.4 232.2 304.9 232.7 303.2Z" fill="#DEB887"/><path d="M234.8 327.1C235.3 325.2 236.8 324.5 238 323.6C239.1 322.6 240.9 321.5 241.8 321.5C242.8 321.4 243.6 322.3 243.6 323.2C243.5 324.2 242.3 325.7 241.5 327.1C240.7 328.4 239.5 330 238.9 331.4C238.2 332.9 238.2 335.2 237.6 335.8C237.1 336.4 235.8 336.4 235.4 334.9C234.9 333.5 234.4 329 234.8 327.1Z" fill="#FFE400"/><path d="M241.5 312.2C241.5 311.4 242.5 310.3 242.9 310.5C243.3 310.6 244 312.3 243.9 313.1C243.9 313.9 242.9 315.3 242.5 315.2C242.1 315.1 241.4 313 241.5 312.2Z" fill="#FFE400"/><path d="M288.6 351.9C288.9 351 290.3 349.5 291.2 349.4C292.2 349.4 293.9 350.6 294.2 351.5C294.5 352.4 293.8 354.1 293 354.7C292.2 355.2 290.2 355.1 289.5 354.7C288.8 354.2 288.3 352.7 288.6 351.9Z" fill="#B0E0E6"/><path d="M229.3 361.1C229.3 361.1 232.7 361.9 233.6 362.9C234.5 363.9 234.8 365.8 234.5 367.2C234.2 368.7 232.7 370.9 231.9 371.6C231 372.3 229.3 371.6 229.3 371.6L229.3 361.1Z" fill="#B0E0E6"/></g><path d="M231.8 247.2V372.4" stroke="#fff" stroke-opacity="0.45" stroke-width="0.6" fill="none"/><g transform="translate(231.5 245.2)" fill="none" stroke="#000" stroke-width="1.25" stroke-linejoin="round" stroke-linecap="round"><path d="M-105.3 -72.5L-104.6 -73.6L-103.9 -74.8L-102.7 -75.5L-101.6 -75.7L-100.9 -76.9L-99.7 -76.9L-98.9 -76.2L-98 -75.6L-96.5 -75.5L-95.2 -75.1L-93.6 -75.5L-92.2 -74.8L-91 -75L-90 -75.8L-88.7 -75.5L-87.5 -75.4L-86.3 -75.8L-85.2 -75.1L-83.8 -75L-82.8 -74L-81.7 -73.4L-80.7 -72.5L-79.2 -72.9L-78.2 -72L-76.8 -72L-75.6 -71.3L-74.6 -70.9L-73.6 -70.3L-72.5 -70.7L-71.2 -70.8L-69.9 -71.2L-68.6 -71.3L-67.5 -70.7L-66.3 -71.9L-65.1 -71.3L-63.6 -71L-62.3 -72L-60.8 -72L-59.9 -72.9L-58.8 -73.5L-57.6 -73.8L-56.4 -74.1L-55 -74.3L-54 -75.6L-52.6 -75.8L-51.5 -76.3L-50.4 -76.8L-49.4 -77.6L-48.9 -78.7L-48 -79.6L-47.3 -80.7L-47.7 -82.1L-47.5 -83.5L-46.8 -84.7L-46.5 -85.9L-45.4 -86.6L-45.1 -87.7L-44.9 -88.8L-44.7 -89.8L-44.2 -90.8L-44.5 -91.9L-45.1 -92.9L-43.9 -93.2L-42.8 -93.4L-41.9 -92.2L-41.6 -90.8L-42.2 -89.6L-42.4 -88.3L-42.4 -87L-42.6 -85.5L-43.5 -84.3L-43.8 -83L-43.5 -81.7L-43.1 -80.4L-42 -80.7L-41.4 -81.7L-40.7 -83L-41 -84.4L-40.3 -85.6L-39.4 -86.9L-40.2 -88.6L-39.5 -90L-39.3 -91.1L-38.6 -92.2L-38.6 -93.4L-38.5 -94.6L-37.7 -95.4L-37.2 -96.4L-37.1 -97.8L-35.8 -98.4L-35.4 -99.6L-34.5 -100.4L-34 -101.6L-33.4 -102.7L-32.1 -103.6L-31.9 -105.2L-30.9 -106.2L-29.8 -107.2L-29 -108.4L-28.1 -109.7L-27.1 -110.5L-26.3 -111.6L-25.3 -112.5L-24.2 -112.8L-23.3 -113.4L-22.9 -114.6L-21.8 -115.3L-22.2 -114.2L-22.7 -113.2L-23.6 -112.4L-23.8 -111L-25 -110.4L-26 -109.6L-26.7 -108.7L-27.4 -107.6L-28.7 -106.9L-29.4 -105.8L-29.9 -104.4L-30.3 -103.2L-31.1 -102.3L-32 -101.3L-32.8 -100.3L-32.8 -98.7L-34.1 -97.8L-34.6 -96.6L-34.8 -95.3L-35.8 -94.3L-36.1 -92.8L-37.2 -91.7L-35.6 -91.5L-34.6 -90.3L-33.5 -90.3L-32.7 -91.3L-31.6 -91.2L-30.1 -91L-28.8 -90.1L-27.9 -89.7L-27.5 -88.6L-26.4 -88.4L-25.9 -89.4L-24.8 -89.6L-23.9 -90.1L-22.7 -90.4L-21.5 -90.8L-21.7 -89.3L-21 -88L-22 -87.5L-22.8 -86.7L-23.2 -85.6L-23.6 -84.5L-24.3 -83.7L-25 -82.8L-25.1 -81.6L-26 -80.7L-25.8 -79.5L-25.8 -77.9L-24.6 -76.9L-23.2 -76.6L-22.2 -75.5L-20.8 -75.9L-19.4 -75.5L-18.4 -75.2L-17.6 -74.6L-16.9 -73.7L-16.6 -72.6L-16.5 -71.4L-16.1 -70.2L-16.4 -69.1L-16.8 -67.9L-18 -67.3L-19.4 -66.7L-20.8 -66.4L-19.9 -65.6L-19.5 -64.6L-18.7 -63.8L-18.2 -62.6L-17.1 -62.3L-16.1 -61.8L-16.4 -60.7L-16.8 -59.7L-16.9 -58.5L-18 -57.8L-18.4 -56.4L-19.7 -55.9L-21.1 -55.8L-22.2 -55.1L-23.2 -54.2L-24.6 -54L-25.7 -53.3L-26.7 -52.4L-27.8 -51.9L-29 -51.5L-30.2 -51.2L-31.2 -50.2L-32.6 -50.4L-33.7 -49.8L-34.7 -48.8L-35.8 -48.4L-37.2 -48.6L-38.3 -47.9L-39.4 -47.5L-40.7 -47.5L-41.8 -46.6L-43.1 -46.1L-43.4 -44.6L-44.7 -43.7L-44.5 -42.5L-45.1 -41.6L-45.9 -40.9L-46.1 -39.8L-46.9 -39.2L-47.7 -38.4L-48.1 -37.4L-49.6 -37.7L-50.1 -36.7L-51 -36.2L-51.5 -35.2L-52.6 -34.9L-53.3 -33.8L-54.3 -33.1L-55.4 -32.3L-56 -31.3L-56.6 -30.2L-57.8 -29.7L-58.9 -29.4L-59.8 -28.8L-60.2 -27.6L-61.1 -26.5L-62 -25.3L-62.5 -24L-63 -22.7L-63.2 -21.2L-64.3 -20.1L-64.1 -18.8L-64.6 -17.7L-65.1 -16.6L-65.4 -15.3L-66.7 -14.5L-66.9 -13.1L-67.2 -11.6L-68.3 -10.5L-67.2 -9.7L-67.9 -8.2L-66.9 -7.4L-65.6 -6.8L-64.3 -6.3L-63.1 -7.1L-61.6 -7L-60.3 -7.6L-59 -8.2L-57.5 -8.2L-56.4 -7L-55.1 -7.7L-53.8 -8.4L-52.8 -7.2L-51.2 -7L-52.1 -6.4L-52.5 -5.4L-52.9 -4.4L-53.8 -3.7L-54.9 -3.4L-56.1 -3.2L-57.1 -3L-58 -4L-59 -3.9L-60.4 -3.3L-61.6 -2.6L-62.8 -2.6L-63.7 -1.6L-64.8 -1.4L-65.9 -1.5L-66.6 -2.6L-67.8 -2.6L-69.1 -2.2L-69.5 -0.9L-70.6 -1L-71.6 -0.7L-72.5 -0L-73.3 -0.9L-74.4 -1.2L-75.6 -1.4L-76.8 -0.4L-78.2 -0L-79.2 0.2L-80.2 0.7L-81.2 0.8L-82.5 0.4L-83.4 -0.6L-84 -1.7L-84.7 -2.8L-86 -3.3L-86.8 -4.6L-87.8 -5.7L-89.2 -6L-90.4 -6.3L-91.4 -7.4L-92.5 -7.9L-93.9 -7.7L-95.3 -8.1L-96.5 -7.2L-97.8 -6.8L-99.2 -7L-99.9 -5.8L-100.9 -4.8L-101.9 -3.8L-103.2 -3.2L-103.6 -2.2L-104.2 -1.2L-103.9 -0M-90.5 -78.6L-89.1 -78L-87.5 -78.3L-86.1 -78.1L-85.1 -77.4L-84.2 -76.7L-82.9 -76.5L-83.4 -75.6L-84.3 -75.6L-85.4 -76.2L-86.5 -77L-87.8 -76.9L-88.5 -77.7L-89.4 -78.3ZM-80 -73.7L-78.5 -73.5L-77 -73.7L-75.6 -73L-74.2 -72.3L-72.7 -72.5L-71.2 -72L-71.2 -70.8L-70.4 -69.9L-71.4 -70.7L-72.7 -70.2L-73.9 -70.6L-75 -70.8L-75.9 -71.8L-77.1 -71.9L-78.2 -72L-79.4 -72.5ZM-101.8 -76.5L-100.7 -77.6L-99.2 -77.7L-97.9 -77.7L-96.9 -76.9L-98.1 -76.6L-98.7 -75.5L-99.6 -76.2L-100.9 -75.7ZM-125.4 -18.4L-124 -18.6L-122.8 -19L-121.9 -20.1L-120.7 -20.2L-119.8 -20.9L-118.6 -21L-117.5 -21.3L-116.6 -22L-115.5 -22.3L-114.4 -21.9L-114.8 -20.9L-114 -20.1L-115.4 -19.7L-116.6 -18.9L-115.5 -18.4L-114.5 -17.4L-113.2 -17.5L-112.8 -16.5L-112.6 -15.4L-113.9 -15.4L-114.9 -14.8L-115.8 -14L-117.2 -13.3L-118.6 -13.1L-120.1 -13.1L-121.3 -12.9L-122.5 -12.8L-123.6 -13.1L-124.4 -14.1L-125.4 -14.9L-124.2 -15.8L-122.8 -16.1L-123.7 -16.5L-124.5 -17.1L-125.3 -17.5ZM-102.7 -22.7L-101.5 -21.9L-100.1 -22.2L-99.1 -21.8L-98.3 -21.2L-97.4 -20.6L-98.3 -19.6L-99.6 -20.2L-100.9 -20.6L-101.4 -22ZM-91.9 -33.2L-91.2 -34.1L-90.5 -34.9L-90.3 -33.4L-89.2 -32.3L-89.1 -31.3L-88.9 -30.3L-88.7 -29.4L-89.6 -28.9L-90.5 -28.3L-91.5 -29.2L-91.3 -30.6L-91.7 -31.9ZM-82.2 -36.7L-82.2 -38L-81.9 -39.3L-80.9 -40.2L-79.9 -40L-79.1 -40.5L-78.4 -39.7L-78.5 -38.6L-78.2 -37.6L-77.6 -36.5L-76.5 -35.8L-76.8 -34.7L-76.8 -33.4L-77.4 -32.3L-78.1 -31.5L-78.8 -30.6L-78.6 -29.3L-78.2 -28L-79.3 -27.9L-80 -27.1L-80.8 -28L-80.5 -29.3L-81.2 -30.3L-81.2 -31.5L-81.7 -32.7L-81.4 -34.1L-82 -35.4ZM-66.5 -39.3L-65.6 -40.1L-64.8 -41.1L-64.2 -39.9L-63 -39.3L-61.9 -40.4L-61.6 -41.9L-60.9 -41.1L-60.2 -40.2L-60.6 -39L-60.6 -37.9L-60.8 -36.7L-61.4 -35.8L-62.1 -35.1L-62.5 -34.1L-63.7 -34.5L-64.8 -34.9L-65.4 -35.8L-66 -36.7L-66.3 -38ZM-15.9 -81.2L-14.5 -81.1L-13.6 -82.1L-12.4 -81.5L-11 -81.4L-12.2 -81.1L-12.7 -80L-13.7 -80.7L-14.8 -80.2ZM2.1 -74.6L0.6 -74.7L-0.7 -75.6L-1.9 -76.5L-3.4 -76.8L-4.9 -76.9L-6.1 -76.7L-7.2 -77L-8.2 -77.7L-9.3 -78.1L-9.9 -76.8L-11 -76.1L-12.2 -75.5L-11.2 -74.7L-11.4 -73.3L-10.7 -72.3L-9.8 -71.5L-8.9 -70.8L-7.4 -71.1L-6.6 -70.2L-5.6 -69.2L-4.4 -68.4L-3.1 -67.8L-1.9 -67.5L-1.3 -66.1L-0.3 -65.4L1.2 -65.6L2.1 -64.6M2.1 -59L0.6 -59.1L-0.5 -58L-1.9 -57.7L-0.9 -56.8L0 -55.9M-1.7 -83L-0.3 -83.1L0.7 -83.9L1.3 -85.3L2.6 -85.6L3.9 -86.1L5.2 -86.5L6.4 -87L7.5 -87.8L8.7 -88.2L9.7 -89.1L11 -89.6L12.2 -90L13.5 -90.3L14.3 -91.7L15.7 -91.7L16.5 -90.8L17.5 -90L18.6 -89.7L19.9 -90L21 -89.1L22.1 -89.6L23.3 -89.5L24.4 -90L25.3 -90.5L25.9 -91.6L27.1 -91.7L28.2 -92.2L28.5 -93.2L28.8 -94.3L29.9 -94.9L29.5 -96.4L30.6 -96.9L30.9 -98L31.2 -99L32.3 -99.6L33.5 -100.5L33.8 -102.1L34.9 -103.1L35.5 -104.3L36.6 -104.9L37.5 -105.7L39 -106.1L40.1 -107.1L41 -108.3L42 -109.4L43.1 -110.4L44.5 -110.9L45.8 -111L46.6 -112L47.5 -112.7L48.5 -113.2L49.2 -114.2L49.7 -112.8L49.6 -111.4L48.9 -110L48.3 -109L48.3 -107.8L48.4 -106.6L47.5 -105.7L46.5 -104.8L46.5 -103.6L45.8 -102.5L45.8 -101.3L45.5 -99.9L44 -99.2L43.7 -97.8L43.2 -96.5L41.6 -96.4L41 -95.2L39.9 -94.3L38.8 -93.3L37.5 -92.6L36.3 -91.8L34.9 -91.3L34.1 -90L33 -89.1L31.9 -88.4L30.6 -88.2L29.4 -87.7L28.4 -86.7L27.1 -86.5L26.5 -85.5L25.6 -84.9L24.4 -84.7L24.2 -83.3L23.1 -82.4L24.3 -82.5L25.3 -81.7L26 -82.6L26.9 -83.3L27.9 -83.8L29.4 -84L30.6 -84.7L31.4 -83.9L31.7 -82.7L32.3 -81.7L33.5 -82L34.7 -81.6L35.8 -81.2L36.6 -82.6L37.9 -83.2L39.3 -83.8L39.7 -85.2L41.3 -85.4L41.9 -86.5L42.9 -86.1L44.1 -86.3L45.1 -85.6L45.8 -84.7L46 -83.5L47.1 -83L48.3 -82.8L48.7 -81.5L49.8 -81.2L50.7 -80.7L51.5 -80.1L52.4 -79.5L53.4 -78.5L54.8 -78.4L55.9 -77.7L57 -77.1L58.1 -76.3L59.4 -76L60.9 -75.5L62.3 -76.5L63.7 -76.5L65.3 -76.3L66.7 -76.7L68.1 -77.2L69.6 -77.2L71 -77.7L72.5 -77.7L73.9 -78.2L75.3 -78.9L76.8 -78.6L76.9 -79.8L77.3 -80.9L78.2 -81.7L77.9 -82.7L76.8 -83.2L76.5 -84.2L75.1 -84.5L74.2 -85.6L73.1 -86.7L73 -88.2L72.1 -89.2L70.7 -89.4L70.1 -90.4L69 -90.5L69.5 -91.4L69.3 -92.5L69.8 -93.4L70.3 -94.8L71 -95.9L71.9 -96.9L72.7 -98.1L73.1 -99.5L74.2 -100.4L74.8 -101.1L75.4 -101.7L75.5 -100.6L74.4 -99.8L74.7 -98.7L73.7 -97.8L73.8 -96.4L73.3 -95.2L73.1 -93.9L71.6 -93.1L71.6 -91.7L72.6 -91L73.3 -90L74.1 -91L74.6 -92.2L76 -92.6L76.6 -93.5L77.5 -94.3L78.2 -95.2L79.1 -96.1L80 -96.9M-1.7 -65L-0.5 -64.7L0.4 -63.8L1.8 -63.7L2.6 -62.5L3.9 -62.4L5.1 -62.1L6.1 -61.1L7.6 -61.4L9.1 -61.5L9.5 -62.8L10.8 -63.2L12.1 -63.1L12.6 -62L12.2 -60.8L11.4 -59.7L12.8 -59.5L14 -58.7L15.1 -58.2L16.3 -58L17.5 -57.7L18.4 -56.8L19.5 -56.3L20.6 -55.9L21.1 -54.5L22 -53.3L22.5 -52.3L23.7 -52.1L24.4 -51.4L25.2 -50.6L25.1 -49.2L26.2 -48.6L26.9 -47.6L26.5 -46.4L27.1 -45.4L27.3 -44.1L27.9 -42.8L29.5 -42.7L30.6 -41.6L31.8 -41.8L32.8 -42.3L33.5 -43.3L34.9 -42.7L36.3 -42.3L36.9 -41.4L37.7 -40.6L38.8 -40.2L40 -39.9L40.6 -38.8L41.6 -38.1L42.3 -37.3L42.6 -36.3L43.7 -35.8L43.8 -34.4L44.7 -33.2L43.5 -32.4L43 -31.1L42.4 -30.1L41.6 -29.2L41.6 -28L41.9 -26.7L42.4 -25.5L43.1 -24.5L44 -23.6L44.7 -22.6L44.7 -21.3L45.7 -20.8L46 -19.8L46.5 -18.9L47.6 -18.4L47.8 -16.9L48.9 -16.4L49.3 -15.4L49.8 -14.3L48.8 -14.7L47.8 -14.9L46.8 -14.9L45.9 -15.6L44.7 -15.9L43.7 -16.4L42.6 -15.5L41.2 -15.7L40 -15L39.3 -13.6L38.6 -12.8L38.5 -11.8L38.1 -10.9L37.4 -10.1L36.7 -9.3L36.3 -8.4L35.6 -7.4L34.3 -7.7L33.5 -7L32.9 -6.2L32.2 -5.4L31.1 -5.3L30.5 -4.3L29.4 -4.1L28.8 -3.2L28.2 -1.9L27.1 -1.1L26.3 0L26.2 1.4M22.4 -39.3L23.7 -39.4L24.4 -40.5L25.3 -39.5L26.2 -38.4L26.6 -37.3L26.8 -36.1L27.1 -34.9L27.8 -33.9L28.6 -33L29.7 -32.3L30.6 -32.8L31.5 -33.3L32.3 -34.1L31.5 -35.1L31.3 -36.3L31.4 -37.6L31.8 -39L32.8 -40.2L32.1 -40.9L31.1 -41.1L30.9 -39.8L30.1 -38.8L29.7 -37.6L29.1 -36.6L27.9 -36.7L27.9 -35.3L27 -34.2L26.2 -33.2L25.3 -34.2L24.1 -34.9L23.9 -36.1L23.4 -37.2L22.5 -38.1ZM101.3 -36.3L102.5 -36.6L103.6 -36.9L104.8 -37L106.2 -37L107.7 -37.3L109.1 -36.7L110 -35.6L111.5 -35.7L112.1 -34.2L113.5 -34.1L114.3 -32.7L116.2 -32.8L117 -31.5L117.6 -30.4L117.8 -29.2L118.7 -28.3L118.3 -29.5L117 -29.8L116.1 -30.6L114.8 -31.2L113.6 -32L112.6 -33.2L111.8 -34.2L110.3 -33.7L109.4 -34.6L108.3 -34.9L106.9 -34.7L105.7 -35.4L104.4 -35.6L103.5 -36.5L102.2 -35.6ZM25.8 -108.3L25.8 -107.3L26.5 -106.5L26.8 -105.7L27.1 -104.8M-0.9 -58L-0.2 -57.2L0.9 -57.3L0.3 -56.3M-103.9 -0.4L-104.5 1L-104.3 2.6L-104.9 4L-105.9 4.9L-105.8 6.2L-105.7 7.5L-106.7 8.4L-106.6 9.7L-107.7 10.4L-108.2 11.4L-108.8 12.4L-109.5 13.4L-110.2 14.5L-111.4 15L-112.5 15.6L-113.7 16L-114.9 16.2L-116.3 16.4L-116.9 18L-118.4 18L-119.6 18.8L-120.7 19.8L-121.4 21.1L-120.3 21.6L-120.4 23.1L-119.3 23.6L-118 24L-116.8 24.4L-115.4 24.1L-114.2 23.4L-112.8 23.1L-111.4 22.9L-110.1 22.5L-108.6 23L-107.4 22.2L-106.5 22.8L-105.3 23L-104.4 23.7L-103.5 23.2L-102.6 22.6L-101.5 22.5L-100.8 21.5L-99.8 21.1L-98.7 21.1L-97.5 21L-96.8 19.9L-95.7 19.7L-94.3 19.8L-93.5 18.6L-92.2 18.5L-91.1 17.8L-89.9 17.8L-88.7 17.4L-87.8 16.8L-86.8 16.7L-85.7 16.6L-85.5 17.7L-84.3 18L-85.1 19.3L-85.3 20.8L-85.2 22.3L-85.8 23.4L-86.5 24.3L-86.9 25.4L-86.8 26.7L-87.3 27.8L-87.9 28.8L-87.6 30.2L-88.5 31.1L-89.4 32.1L-89.6 33.4L-90.3 34.6L-91.1 35.6L-91.4 36.8L-91.7 38L-90.5 38.3L-89.3 38.6L-88.5 39.6L-87.5 40.5L-86.1 39.9L-85 40.7L-85.4 41.8L-85.5 43.1L-86.1 44.2L-86.7 45.5L-88 46.3L-88.5 47.6L-89.9 48.1L-90.2 49.7L-91.3 50.4L-92.3 51.2L-92.8 52.5L-93.8 53.2L-94.4 54.4L-94.8 55.6L-95.5 56.7L-95.5 58.2L-95.8 59.5L-96.6 60.7L-96.5 62.2L-97.7 63.3L-97.4 64.8L-98 65.8L-98.3 66.9L-99.2 67.7L-100.3 66.6L-101.8 66.5L-102.7 65.4L-104.2 65.6L-105.3 65.1L-106.7 65.1L-108 64.6L-109.1 63.7M-99.7 69L-100.5 69.9L-101.6 70.1L-102.7 70.3L-104 70.6L-105.1 70.1L-106.2 69.5M-105.6 18.7L-104.5 18.5L-103.6 19L-103.2 20.2L-104.2 20.1L-105.3 20.1ZM-82.2 5.7L-80.8 5.3L-80 4L-78.8 5L-77.4 5.4L-76.6 4.2L-75.6 3.1L-74.4 3.3L-73.3 3.7L-72.1 4L-71 3.4L-69.9 2.9L-68.6 2.6L-67.3 2.5L-66.2 3.3L-65.1 4L-63.9 4.3L-63.2 2.9L-62 3.1L-61.6 4.3L-61.3 5.5L-60.8 6.6L-61.5 7.7L-61 9L-61.6 10.1L-61.1 11.2L-60.7 12.4L-60.8 13.6L-61.2 14.8L-61.9 16L-62.5 17.1L-62.8 18.4L-62.4 19.5L-61.6 20.6L-61.8 22.1L-60.5 23.4L-60.8 24.9L-60.8 26.4L-62.2 27.2L-62.5 28.4L-63.8 29.3L-64.2 30.8L-65.1 31.9L-66.1 32.7L-66.4 34.1L-67.8 34.6L-68.7 33.8L-69.5 32.8L-68.4 31.9L-68 30.7L-67.8 29.3L-67.8 27.9L-68.6 26.7L-69.8 26.8L-70.2 28.1L-71.2 28.4L-71 29.7L-71.4 30.9L-72.1 31.9L-73 32.8L-74 33.5L-74.7 34.6L-75.2 33.3L-76.5 32.8L-75.9 31.7L-75.7 30.5L-75.6 29.3L-75.9 28.2L-76.8 27.6L-77.4 26.7L-78 27.5L-78 28.8L-79.1 29.3L-79.2 30.6L-78.2 31.6L-78.2 32.8L-79.5 33.3L-80 34.6L-80.2 33.3L-81 32.3L-81.2 31.1L-81.4 29.5L-81.1 28.1L-80.5 26.7L-80.7 25.5L-81.1 24.3L-81.7 23.2L-81.6 21.8L-81.1 20.6L-80 19.7L-80.4 18.5L-80.7 17.3L-81.2 16.2L-80.6 15.3L-80.1 14.2L-79.1 13.6L-78.4 12.8L-78.5 11.5L-77.4 11L-78.4 10.6L-79.1 9.9L-80 9.2L-80.2 7.7L-81.3 6.8ZM-59 4.9L-57.8 4.3L-57.3 3.1L-56.4 2.2L-55.3 1.6L-54.2 1.3L-52.9 1.4L-52.4 2.5L-51.3 2.8L-50.3 3.1L-49.8 4.5L-49.1 5.9L-49.4 7.5L-49.9 8.6L-50.5 9.6L-50.6 10.8L-51.2 11.9L-51.8 12.9L-53.1 13.4L-53.8 14.5L-54.8 13.6L-56.2 14.2L-57.3 13.6L-58.3 12.7L-58.3 11.5L-58.7 10.4L-59 9.2L-58.8 7.8L-59.4 6.3ZM-66.9 15.3L-65.4 15.3L-64.3 14.5L-63.9 15.9L-63 17.1L-64.1 18L-65.1 18.8L-66.3 18.8L-67.2 18L-66.5 16.7ZM-30.6 70L-30.1 69L-29.2 68.3L-28.2 69L-27.1 69L-26.7 68L-25.8 67.6L-24.7 68L-23.9 69L-22.7 69.4L-21.5 69.1L-20.3 69.5L-19.4 70.3L-18.9 71.8L-17.5 72.4L-17.9 73.8L-18.3 75.2L-18.9 76.5L-20.1 77.3L-21.2 78.2L-22.5 78.4L-23.9 78.7L-25.3 78.7L-26.4 78.2L-27.6 78L-28 76.9L-29.2 76.6L-29 75.5L-28.1 74.9L-29.2 74.5L-30.2 73.8L-31.1 73L-31.3 71.7L-30.3 71.1ZM45.1 -0.4L46.2 0.3L47.1 1.2L47.5 2.6L48.7 3.2L49.2 4.4L49.9 5.4L49.8 6.6L50.2 7.6L51 8.5L52.3 8.3L53.4 7.5L54 9L55.5 9.6L54.5 10.6L54.5 12L55.5 12.9L56.2 14.1L55.2 15.2L53.8 15.5L52.6 15.3L51.6 15.9L50.6 16.6L49.9 17.8L48.5 18L49.7 18.5L51 18.7L52.1 18.2L53.3 17.8L54.5 17.6L55.8 17.5L57.2 17.4L58.5 18L59.9 17.6L61 18.3L62.2 18.8L63.4 18.8L64.4 19.8L65.7 19.4L66.8 19.4L67.3 20.8L68.5 20.8L69.5 21.8L69.8 23.2L68.9 24L67.8 24.4L66.9 23.6L65.8 23.2L64.6 23.2L63.4 23.1L62.2 23.3L61.1 22.5L59.9 22.9L58.7 23.2L59.7 24.1L60.4 25.3L60.6 26.5L61.6 27L60.2 27.6L58.7 27.4L57.8 28L56.6 27.9L55.9 28.8L55.3 30.3L53.8 30.9L53 32L52 33L52.8 33.7L53.8 33.7L55 33.5L55.9 32.6L57 33.1L57.3 34.4L57.3 36L56.2 37.2L56.3 38.4L54.8 39L54.8 40.3L54.6 41.5L53.5 42.1L53.3 43.3L52.3 44L52.4 45.4L51.7 46.3L50.9 47.2L49.8 47.6L49.4 46.5L48.4 46.1L47.5 45.6L46.7 46.2L45.8 46.3L46.2 47.3L47.1 48L48.2 48.5L49.1 49.2L49.8 50.1L51.3 50.7L51.9 52.2L51.1 53.3L51 54.6L49.9 55.3L49.7 56.4L49.2 57.4L48.2 58.1L48.6 59.6L47.5 60.2L48.3 61.5L48.5 63L47.5 63.7L46.5 64.4L45.8 63.3L44.9 62.7L43.7 62.7L42.6 62.5L41.5 62.3L40.5 61.6L39.5 61.3L38.6 60.8L37.7 60.4L38.9 60.4L39.4 59.1L40.5 59L41.5 59.5L42.6 59.4L43.7 59.2L44.7 59.5L45.8 59.4L46.8 59L47.3 57.7L47.5 56.4L46.7 55.7L46.1 54.9L45.8 53.9L44.7 53.6L43.9 52.7L42.8 52.5L41.3 52.9L39.8 52.6L38.4 52L36.9 51.7L35.5 52.5L34.1 52.2L32.5 52.5L31 52.3L29.7 51.5L28.5 51.6L27.4 52.1L26.2 52L24.9 52.3L24.1 53.2L23.6 54.3L22.2 54.9L22.1 56.5L21 57.3L20.7 58.7L20 59.9L18.9 60.7L18.4 61.9L17.7 63L17.5 64.2L17.3 65.4L17.3 66.6L16.8 67.7L16.5 69.2L15.9 70.6L15.7 72.1L15.2 73.5L14.8 74.9L14.8 76.5L14 77.5L13.8 78.7L13.6 80L13.3 81.2L11.8 81.7L11.4 82.9L10.8 84L9.8 84.7L9.1 85.7L8.8 86.8L8 87.6L7.9 88.7L8.1 89.9L7.8 91.1L7.3 92.2L8.1 93.2L8.7 94.3L8.7 95.7L9 96.9L10 97.5L10.8 98.3L12.1 99L13.1 100L13.8 99.2L15 99.1L15.4 97.9L16.1 97.2L16.5 96.2L17.5 95.7L17.8 97.2L18.9 98.3L18.9 99.5L18.7 100.7L19.6 101.8L20.6 102.6L20.8 103.9L21.3 104.9L22.2 106.1L23.6 106.7L25.1 106.4L26.2 105.3L27.2 104.7L26.9 103.2L27.9 102.7L28 101.4L28 100.2L28.8 99.2L28.1 98.1L28.8 96.7L27.9 95.7L27.8 94.2L27.9 92.7L27.1 91.3L26.6 89.9L27 88.3L26.2 86.9L26 85.5L25.6 84.1L25.8 82.6L26.4 81.2L26.9 79.8L26.5 78.2L26.4 77L27.4 76.1L27.7 75L27.9 73.8L28.2 72.5L29 71.4L29.7 70.3L30.3 69.3L31.4 69L32.5 69.9L32.8 71.2L33.1 72.4L32.7 73.6L32.8 74.7L32.3 76L32.5 77.5L31.8 78.7L32.6 79.8L32.5 81L32.5 82.2L33 83.3L34.2 84L34.6 85.2L35.5 85.6L36.4 86L37 86.9L38.2 87L39.1 86.4L40.2 86.1L40.9 84.9L42 84.2L43.3 84L44 83.3L45 82.9L45.8 82.2L46.6 81.6L46.9 80.3L48 80L48.3 78.8L49.2 78.2L48.3 79.1L47.9 80.3L47.1 81.2L46.5 82.3L45.6 83.2L44.5 84L43.3 84.1L42.9 85.3L41.9 85.7L40.6 86.4L39.5 87.3L38.6 88.3L37.5 89L37.2 90.2L36.7 91.3L37.8 91.6L38.8 91L39.6 92.1L41 92.2L41.5 93.5L41.6 94.8L40.6 95.6L39.3 95.7L38.3 95L37 94.8L37 96.1L36.8 97.3L35.8 98.3L35.6 99.6L36.5 100.6L36.7 101.8L37 103.3L38.1 104.4L37 105.4L35.8 106.1L34.6 105.4L33.2 105.6L31.9 105.3L30.6 104.9L30 106.3L28.8 107L28.3 108.1L27 108.1L26.2 108.8L24.8 109.3L23.6 110.2L22.4 109.4L21 109.6L19.9 109.1L19.9 107.8L19.2 107L18.8 105.9L18.6 104.7L18.3 103.5L17.5 102.4L17.5 100.9L17 102L16.1 102.7L15.7 104L15.4 105.3L15.5 106.8L16.6 107.9L17.9 108.7L18.3 110.2L17.9 111.2L17.5 112.3L16.2 112.6L15.4 113.7L13.9 113.7L13.1 114.9L12.6 115.9L11.9 116.7L10.8 117.1L9.4 117.8L8.7 119.2L7.2 119.9L6.6 121.3L5.9 122.1L5.5 123.3L4.4 123.6L3.1 124.4L2.6 125.9L1.8 126.9L0.9 127.6L-0.4 128.1L-0.9 129.4M37 16.6L37.7 15.8L38.1 14.8L38.7 15.7L39.8 15.9L40.5 16.9L40 18.3L40.7 19.4L41.4 20.5L41.6 21.9L41.9 23.2L42.1 24.6L42.7 25.7L43.7 26.7L44.7 27.4L45.3 28.3L45.8 29.5L46.6 30L47.4 30.7L48.2 31.2L49.6 31.4L51 31.9L51.9 32.3L52 33.3L51 34.2L49.8 34.4L48.6 33.6L47.1 33.3L46.6 32.2L45 32.4L44.5 31.2L43.9 30.3L43.4 29.2L42.4 28.4L41.3 27.5L41.7 25.9L40.7 24.9L39.8 23.8L39.9 22.3L39.3 21.1L38.9 20.1L38.6 19.2L38.1 18.3L37.3 17.6ZM6.1 31.9L7.2 31L8.4 30.2L9.3 29.7L10 28.9L10.8 28.4L12 28.2L13.1 27.6L13.8 28.4L14.3 29.3L14 30.6L13.6 31.9L14.9 32.4L15.4 33.7L15 35L14.8 36.3L13.7 37.2L12.6 38L11.9 39.2L10.8 39.8L10.5 38.3L9.6 37.2L9.3 36.1L8.4 35.4L7.7 35L7 34.6L6.2 33.4ZM9.6 31.1L10.2 31.9L10.8 32.8L11 34.1L10.1 35.1M20.6 19.7L20.8 18.6L21.8 18L22.7 18.3L23.6 18.8L23.4 20L22.4 20.6L21.4 20.2ZM22.7 13.6L23.6 13L24.4 12.4L25.6 12.9L25.8 14.1L24.8 14.9L24.1 15.9L22.9 15ZM45.8 77.3L46.8 76.7L47.5 75.6L48.6 76.1L49.8 75.9L50.2 77.1L50.6 78.2L50.4 79.6L49.2 80.5L48 80.6L46.8 80.8L46.3 79.7L46.7 78.3ZM48 70.3L49.2 69.5L50.6 69.5L51.2 70.7L52.4 71.2L51.6 72.3L52 73.5L50.8 73.8L49.8 74.7L49.7 73.5L48.5 72.7L49 71.2ZM47.1 41.5L48 41.3L48.9 41L48.9 42.2L49.9 42.8L48.9 43.1L48.5 44.2L47.5 44.2L46.8 43.5L47.3 42.6ZM27.2 -3L28.5 -3.3L28.9 -4.9L30.3 -5.1L31.2 -6.1L32.6 -6.6L33.4 -7.7L34.5 -8.6L35.9 -8.6L36.1 -7.1L37.3 -6L36.6 -4.9L35.2 -4.5L34.7 -3.4L33.9 -2.3L32.7 -2L31.7 -1.3L30.6 -1.6L29.7 -0.6L28.6 -0.8L27.6 -1.7ZM20.2 19.3L20.6 18.2L20.9 16.9L21.6 15.8L21.6 14.4L22.4 13.3L23.3 12.3L24.3 11.7L25.4 12L24.7 13.4L25.1 15L24.2 16.2L23.7 17.6L22.8 18.4L23.2 19.8L22.4 20.7M48.8 -16.5L47.7 -16.2L47.2 -14.9L46 -14.7L45 -15.3L44 -16.1L42.9 -16.5L42.2 -15.7L41 -15.7L40.4 -14.7L39.9 -13.6L39.4 -12.4L39 -11.2L38 -10.6L38.3 -9.2L37.3 -8.6L37.3 -7.4L38.3 -6.8L39 -6L40 -5.5L40.6 -4.5L41.6 -4.3L42.6 -3.6L42.7 -2.1L43.9 -1.6L44.4 -0.5L45.2 0.4L45.7 1.5L45.9 2.7L46.9 3.4L47.4 4.5L48.4 5.1L48.6 6.4L49.5 7.1L50.7 7.6L50.6 9.1L51.6 9.7L52.5 10.4L52.6 11.6L53.3 12.3L51.9 12.7L51.3 14.1L50.1 14.7L49.2 15.5L50.1 15.9L51.2 15.7L52.1 16.2L53.1 15.2L54.3 14.8L55.6 15L56.8 15.5L57.3 16.8L58.2 17.6L59.2 18.1L60 18.8L60.9 19.3L61.8 20.3L63.4 19.8L64.3 20.7M-12.6 99.3L-12.1 98.5L-11.1 98.3L-9.8 98.6L-10.4 99.3L-10.7 100.2L-9.7 100.1L-9.4 101.1L-9.2 99.8L-8.1 99.3L-7 98.8L-5.9 98.6L-5 99.7L-5 100.9L-5.9 101.5L-5 101.5L-4.1 101.9L-3.5 102.7L-3.5 103.7L-4.1 104.3L-4.6 105L-5.3 105.5L-5.9 106.1L-5 106.3L-4.6 107.2L-4 108.1L-3.3 108.9L-2.8 110L-2.4 111.1L-1.5 112L-1.5 113.3L-1.4 114.6L-0.4 115.5L0.4 116.2L0.7 117.2L1.8 117.4L2.4 118.3L3.3 119.1L3.3 120.3L2.7 121.1L2.4 122L2.2 123L2.9 123.8L3 124.6L3.7 125.1L3.7 126.4L3.5 127.7L2.4 128.1L1.3 128.5L0 127.8L-1.1 128.1L-2.4 127.8L-3.7 127.9L-5 127.3L-6.3 127.3L-7.8 127.3L-9.2 126.7L-10.7 127.3L-11.6 126.4L-10.5 126L-9.8 125.1L-9.1 124.3L-8.1 124.2L-7 123.9L-6.8 122.9L-7.8 123L-8.2 122L-9 121.5L-9.8 121.1L-9.2 120.4L-8.5 119.8L-9.2 119.3L-9.4 118.3L-9.2 117.4L-8.2 117.2L-7.3 116.8L-6.8 115.9L-6.9 114.7L-5.9 114.2L-6.3 113.3L-6.8 112.4L-7.1 111.5L-8.1 111.5L-9.4 112.2L-10.2 111.7L-10.2 110.7L-10.4 109.7L-9.8 108.9L-10.1 108L-10.7 107.2L-10.3 106.3L-10 105.4L-10.4 104.5L-11.1 103.7L-10.5 102.9L-10.7 101.9L-11.6 101.8L-12 101.1L-12.5 100.3ZM-21.6 118.5L-21.1 117.7L-20.3 117.2L-20.6 116L-19.8 115L-19 114.4L-19 113.3L-18.2 112.6L-18.1 111.5L-17 110.9L-16.4 109.8L-15.5 108.8L-14.2 108.9L-13.4 109.6L-12.4 109.4L-12 110.2L-11.1 110.7L-10.9 111.7L-10.7 112.8L-11.2 113.9L-11.1 115L-11.5 116.1L-12 117.2L-12.6 118.3L-13.7 119L-14.6 119.9L-15.9 119.8L-16.9 120.5L-18.1 120.4L-19.1 121.2L-20.3 120.7L-21.1 120.4L-21.6 119.8ZM-48.4 -30.9L-47.2 -30.9L-46.2 -31.5L-45.2 -30.7L-44 -30.3L-43.6 -29.1L-42.5 -28.4L-42.1 -27.1L-41.2 -25.9L-41.3 -24.6L-41.9 -23.5L-42.8 -22.8L-43.7 -22L-44.6 -21.4L-45.6 -21L-46.2 -21.9L-47.2 -22.2L-47.6 -23.5L-48.1 -24.7L-48.6 -25.7L-48.3 -26.8L-48.7 -27.8L-48 -28.8L-48.9 -29.9ZM-61.1 -26.6L-59.7 -26.5L-58.6 -27.4L-57.2 -27.6L-56.1 -26.6L-55 -25.9L-54.3 -24.7L-53.5 -25.3L-52.4 -25.3L-51.7 -24.2L-50.5 -23.5L-50.4 -22L-49.3 -21L-49.9 -19.8L-49.9 -18.5L-50.7 -17.7L-51.8 -17.3L-53.1 -16.7L-53.7 -15.4L-54.8 -14.9L-56.1 -14.8L-57.2 -13.8L-58.6 -13.5L-59.7 -14.4L-61.1 -14.2L-61.9 -15.2L-63 -16L-62.3 -17.2L-62.1 -18.5L-62.1 -19.8L-62.6 -21L-61.6 -22L-61.7 -23.5L-61.6 -24.5L-60.9 -25.4ZM-44 -17.9L-42.8 -18.3L-41.9 -19.1L-40.5 -19L-39.4 -19.7L-38.5 -20.4L-37.5 -21L-36.4 -21.4L-35.7 -22.2L-35.1 -21.2L-34.4 -20.4L-34.5 -19.1L-35 -17.9L-33.8 -17.2L-33.2 -16L-33.6 -14.8L-33.8 -13.5L-34.4 -12.5L-35.7 -12.3L-36.3 -13.4L-37.5 -13.5L-38.3 -12.8L-39.4 -12.9L-40.6 -13L-41.2 -14.2L-42.5 -14.3L-43.1 -15.4L-43 -16.8ZM-43.1 -12.3L-41.9 -12.8L-40.6 -12.9L-39.4 -12.7L-38.8 -11.7L-37.4 -12L-36.3 -11L-34.9 -11.3L-33.8 -10.4L-33 -9.3L-31.9 -8.6L-32.4 -7.4L-32.5 -6.1L-33.6 -5.7L-34.4 -4.8L-35.2 -5.7L-36.3 -6.1L-37 -5.2L-38.1 -5.5L-39 -6.2L-40 -6.7L-41 -7.2L-41.9 -7.9L-42.4 -9.1L-43.5 -9.8L-42.9 -11ZM-45 -3.6L-43.5 -3.8L-42.5 -4.8L-41 -4.7L-40 -3.6L-38.6 -3.4L-37.5 -4.2L-36.5 -3.1L-35 -3L-33.6 -2.7L-32.5 -3.6L-31.1 -3.4L-30.1 -2.4L-28.7 -2.1L-27.6 -1.1L-26.5 -0.9L-25.6 -0.4L-25.1 0.7L-24.6 1.9L-23.7 2.7L-22.6 3.2L-22.1 4.2L-21.7 5.1L-20.8 5.7L-20.3 7L-19.5 8.2L-19.6 9.5L-20.1 10.7L-21.2 10.9L-22 10.1L-23.2 9.9L-23.9 8.8L-25.2 8.8L-26.3 9.4L-27.5 9.1L-28.2 8.2L-29.5 8.1L-30.7 7.6L-31.9 8L-33.2 8.2L-34.4 8.1L-35 7L-36.3 6.9L-37.5 6.3L-38.9 6L-40 5.1L-41.1 4.2L-42.5 3.8L-43.2 3.1L-43.9 2.3L-44.3 1.4L-44.4 -0.1L-45.6 -1.1L-45.3 -2.4ZM-57.4 1.4L-55.9 1.2L-54.9 0.1L-53.9 0.5L-52.7 -0.1L-51.8 0.7L-50.5 1.3L-49.3 2L-48.8 3L-48.8 4.2L-48.1 5.1L-48.1 6.4L-48.7 7.5L-48.7 8.8L-49.3 9.6L-49.6 10.7L-50.5 11.3L-51.8 11.9L-52.4 13.2L-53.5 13.4L-54.3 12.5L-54.6 11.5L-55.9 11.1L-56.1 10.1L-57.2 9.3L-57.3 8.1L-57.4 7L-57.3 5.9L-57.2 4.8L-58 3.8L-58.3 2.5ZM-66.7 -11L-65.5 -11.7L-64.2 -12.3L-63 -12L-61.7 -11.7L-60.7 -10.7L-59.2 -10.4L-58 -9.8L-57.4 -8.6L-57.7 -7.3L-58 -6.1L-58.8 -5.3L-59.9 -4.8L-61 -5.6L-62.3 -5.5L-63.7 -5.8L-64.8 -6.7L-65.1 -8L-66.3 -8.6L-66.8 -9.8ZM-56.1 -11.7L-55 -12.5L-53.7 -12.5L-52.5 -11.9L-51.2 -11.7L-50.2 -10.7L-49.3 -9.8L-48.2 -8.8L-48.1 -7.3L-48.7 -6.1L-48.9 -4.8L-49.8 -3.8L-51.2 -3.8L-52.1 -4.7L-53.4 -4.8L-54.1 -5.9L-55.1 -6.7L-55.4 -8.1L-56.4 -9.2L-56.1 -10.4ZM-68.6 -4.8L-67.4 -5.3L-66.1 -5.5L-64.8 -5L-63.6 -4.2L-62.6 -3.4L-61.7 -2.4L-61.9 -1L-61.1 0.1L-61.4 1.4L-62.6 2L-63.8 1.8L-64.8 2.6L-66.2 2.5L-67.1 1.4L-68.1 0.3L-68.6 -1.1L-68.9 -2.4L-68 -3.6ZM-48.1 -17.3L-47.1 -17.6L-46.2 -17.9L-45.5 -17L-45 -16L-45.7 -15.2L-45.6 -14.2L-46.4 -13.6L-47.4 -13.8L-47.7 -14.9L-47.8 -16.1ZM-47.4 -2.4L-47.1 -1L-46.2 0.1L-46.7 1.1L-46.8 2.2L-46.8 3.2L-46.4 4.2L-46.2 5.3L-46.2 6.3L-46.3 7.5L-47.2 8.2L-47.4 6.8L-48.4 5.7L-48.1 4.5L-47.9 3.3L-48.1 2L-48.7 1L-48.6 -0.1L-48.7 -1.1L-47.8 -1.5ZM-37.8 13.3L-36.6 12.6L-35.6 11.7L-35 10.7L-33.8 10.6L-32.9 10.1L-32.3 11L-31.3 11.1L-30 11.4L-29.1 12.2L-27.8 11.6L-26.3 11.7L-25 11.4L-23.6 11.7L-22.3 12.5L-20.9 12.8L-20.2 13.6L-18.9 13.3L-18.2 14.1L-16.6 14.2L-15.4 15.2L-14.4 15.4L-13.5 15.9L-12.7 16.6L-11.6 17.4L-10.5 18.2L-9.3 19.1L-8.9 20.4L-8.9 21.6L-9.4 22.6L-8.4 22.8L-7.8 23.7L-7.4 25L-6.2 25.3L-6.7 26.4L-6.7 27.5L-7.1 28.9L-8.3 29.7L-9.6 30.4L-10 31.9L-10.1 33.2L-11.1 34.1L-11.8 35.2L-12.7 36.3L-13.8 37.4L-13.8 39L-14.7 40.2L-14.9 41.7L-15.7 43L-16 44.4L-16.7 45.6L-17.6 46.6L-18.1 47.9L-19.2 48.8L-20.2 49.8L-20.9 51L-21.3 52.2L-22.5 52.6L-23.1 53.7L-24.2 54.3L-24.6 54.9L-25.2 55.3L-24.1 55.4L-23.6 56.4L-24.1 57.1L-24.7 57.5L-26.1 57.3L-27.4 57.8L-28.8 57.7L-30.2 58.1L-31.5 58.2L-32.9 58.4L-34.3 58.5L-35.6 58.8L-37 59.3L-38.3 59.7L-39.6 60.4L-41.1 60.3L-42.4 59.9L-43.8 59.7L-45.2 59.4L-46.5 58.8L-47.7 59L-48.7 59.7L-50.3 59.8L-51.4 60.8L-52.5 61.4L-53.6 61.9L-54.6 62.1L-55.6 62.6L-56.7 63L-57.3 64.1L-58.2 64.7L-58.8 65.7L-60.1 65.9L-60.7 66.8L-61.9 66.8L-62.7 67.4L-63.4 68.2L-63.9 67.3L-64.5 66.4L-65.5 65.9L-66.2 64.8L-67.3 64.1L-66.9 63L-67 61.9L-66.7 60.8L-66.6 59.6L-65.8 58.7L-65.6 57.5L-65.6 56.2L-64.6 55.3L-64 54.3L-63.1 53.3L-62.7 52.2L-62.4 51L-61.7 50.2L-61.5 49L-60.7 48.3L-60.1 47.3L-59.3 46.4L-58.5 45.5L-57.7 44.9L-57.2 44L-56.4 43.3L-55.1 42.7L-54.2 41.7L-52.8 41.7L-52 40.6L-51.5 39.5L-50.4 39L-50.7 38L-51.4 37.3L-50.6 36.7L-50.4 35.7L-49.3 35.3L-48.2 35.2L-47.6 34.3L-47.1 33.5L-45.8 33.1L-45.4 31.9L-45.1 30.7L-43.9 30.5L-43.3 29.7L-42.8 28.7L-41.5 28.5L-41.1 27.5L-39.8 26.8L-39.4 25.3L-38.9 24.4L-38.8 23.3L-37.8 22.6L-37.4 21.3L-37.3 19.9L-37.5 18.5L-37.8 17.2L-37.8 16L-38.3 15L-38.1 14.2Z"/><g fill="#000" stroke="none"><circle cx="-11.5" cy="-118.6" r="0.85"/><circle cx="-7" cy="-119.9" r="0.85"/><circle cx="-3.9" cy="-120.2" r="0.85"/><circle cx="14.5" cy="-116.1" r="0.85"/><circle cx="-114.6" cy="18.1" r="0.85"/><circle cx="-85" cy="11.8" r="0.85"/><circle cx="-8.3" cy="57.1" r="0.85"/><circle cx="22" cy="15.7" r="0.85"/><circle cx="31.8" cy="96.3" r="0.85"/><circle cx="-10.6" cy="86.3" r="0.85"/><circle cx="-2.3" cy="93.4" r="0.85"/><circle cx="-5.4" cy="96.7" r="0.85"/></g></g></g><circle cx="231.5" cy="245.25" r="127.15" fill="none" stroke="#111" stroke-width="0.9"/><g clip-path="url(#c2)"><rect x="362.2" y="117.1" width="256.3" height="256.3" fill="#20B2AA"/><clipPath id="t5"><rect x="362" y="117" width="128" height="128"/></clipPath><g clip-path="url(#t5)"><rect x="362" y="117" width="128" height="128" fill="#20B2AA"/><path d="M438.8 129.2C439.9 132.4 442 132.9 443.7 134.5C445.5 136 447.1 137.6 449.3 138.3C451.6 139 454.7 138.6 457.2 138.8C459.6 139.1 461.8 139.2 464.2 139.7C466.5 140.2 468.4 141.2 471.1 141.8C473.9 142.4 477.3 143 480.7 143.2C484.2 143.4 492.1 143.2 492.1 143.2L492.1 115.3L437.1 115.3C437.1 115.3 437.7 126 438.8 129.2Z" fill="#BCEE68"/><path d="M466.8 124C467.6 126.3 468.8 127.6 470.3 129.2C471.7 130.8 473.2 132.4 475.5 133.6C477.8 134.8 481.5 135.7 484.2 136.2C487 136.7 492.1 136.6 492.1 136.6L492.1 115.3L465 115.3C465 115.3 465.9 121.7 466.8 124Z" fill="#94BE30"/><path d="M486.9 118.7C486.3 120.5 487.7 123.7 488.6 125.7C489.5 127.8 492.1 131 492.1 131L492.1 115.3C492.1 115.3 487.4 117 486.9 118.7Z" fill="#F5E6BE"/><path d="M436.7 149.3C437.1 147.9 438.9 146.2 440.6 145.8C442.2 145.4 444.7 146.5 446.7 147C448.7 147.6 450.6 149.1 452.8 149.3C455 149.5 456.9 148.8 459.8 148.4C462.7 148.1 466.5 147.3 470.3 147C474.1 146.8 479.9 146.6 482.7 147C485.5 147.5 485.9 148.5 487 149.7C488.1 150.8 488.8 152.4 489.3 154C489.8 155.7 490 157.9 489.8 159.6C489.7 161.3 488.2 162.5 488.3 164C488.3 165.4 490.3 168.3 490.3 168.3L495.8 173.8L495.8 247.1L360.3 247.1L360.3 205.2C360.3 205.2 367.5 205.4 370.7 205.2C373.9 205 376.6 204.4 379.5 204C382.4 203.5 385.3 203.1 388.2 202.6C391.1 202 394 201.3 396.9 200.8C399.8 200.4 403 199.7 405.7 199.9C408.3 200.2 410.6 201.5 412.6 202.6C414.7 203.6 416.7 204.9 417.9 206.1C419 207.2 420.2 208.1 419.6 209.6C419 211 416.4 213.3 414.4 214.8C412.4 216.2 409.7 217.1 407.4 218.3C405.1 219.4 402.6 220.5 400.4 221.8C398.2 223.1 395.2 224.7 394.3 226.1C393.4 227.6 393.9 229.8 395.2 230.5C396.5 231.2 399.8 230.8 402.2 230.5C404.5 230.2 406.8 229.6 409.1 228.8C411.5 227.9 414.1 226.7 416.1 225.3C418.2 223.8 419.6 221.8 421.4 220C423.1 218.3 424.9 216.5 426.6 214.8C428.4 213 429.8 211.3 431.8 209.6C433.9 207.8 436.5 206.2 438.8 204.3C441.2 202.4 443.6 200.1 445.8 198.2C448 196.3 450.5 194.7 451.9 193C453.4 191.2 454.3 189.6 454.6 187.7C454.8 185.8 453.7 183.6 453.2 181.6C452.6 179.6 451.7 177.5 451.1 175.5C450.4 173.5 449.8 171.4 449.3 169.4C448.8 167.4 448.9 165.1 447.9 163.3C446.9 161.5 444.8 160 443.2 158.6C441.6 157.1 439.6 156.1 438.5 154.5C437.4 153 436.4 150.8 436.7 149.3Z" fill="#B0E0E6"/><path d="M409.1 247.1C409.1 247.1 407.8 241.6 408.3 239.2C408.7 236.9 410.2 234.4 411.8 233.1C413.4 231.8 416.1 231.2 417.9 231.4C419.6 231.5 421.4 232.7 422.2 234C423.1 235.3 422.1 238.7 423.1 239.2C424.1 239.8 426.9 237.5 428.4 237.5C429.8 237.5 431.6 238.1 431.8 239.2C432.1 240.4 431.3 243.2 430.1 244.5C428.9 245.8 424.9 247.1 424.9 247.1L409.1 247.1Z" fill="#20B2AA"/><path d="M457.2 162.4C458 160.5 459.6 158.8 461.5 158C463.4 157.3 466.2 158.3 468.5 158C470.8 157.7 473.2 156.4 475.5 156.3C477.8 156.2 481 156.5 482.5 157.5C483.9 158.5 484.2 160.7 484.2 162.4C484.2 164.1 482.5 165.9 482.5 167.6C482.5 169.4 482.6 171.6 484.2 172.9C485.8 174.2 492.1 175.5 492.1 175.5L492.1 247.1L445.8 247.1C445.8 247.1 445.2 241.1 444.1 239.2C442.9 237.3 440.9 236.7 438.8 235.7C436.8 234.8 433.6 234.8 431.8 233.6C430.1 232.5 428.8 230.7 428.4 228.8C427.9 226.8 428.6 224.1 429.2 221.8C429.8 219.4 430.2 216.8 431.8 214.8C433.5 212.8 436.5 211.3 438.8 209.6C441.2 207.8 443.5 206.1 445.8 204.3C448.1 202.6 450.5 200.7 452.8 199.1C455.1 197.5 457.5 196.2 459.8 194.7C462.1 193.3 465 192.1 466.8 190.3C468.5 188.6 470.5 186.3 470.3 184.2C470 182.2 467.1 179.7 465.4 178.1C463.6 176.5 461.3 176.1 459.8 174.6C458.3 173.2 456.7 171.4 456.3 169.4C455.9 167.4 456.3 164.3 457.2 162.4Z" fill="#7B9AF0"/><path d="M465 221.8C466 220.2 466.8 217.3 468.5 215.7C470.3 214.1 472.9 212.8 475.5 212.2C478.1 211.6 481.5 211.9 484.2 212.2C487 212.5 492.1 213.9 492.1 213.9L492.1 247.1L490.3 246.2C490.3 246.2 486.6 239.2 483.7 237C480.9 234.7 476.6 233.5 473.2 232.6C469.9 231.7 465.4 233 463.6 231.7C461.9 230.5 462.5 226.9 462.8 225.3C463 223.6 464.1 223.4 465 221.8Z" fill="#B0E0E6"/><path d="M482.8 226.7C482.8 226 484 224.9 484.6 224.9C485.2 224.9 486.3 226 486.3 226.7C486.3 227.3 485.2 228.8 484.6 228.8C484 228.8 482.8 227.3 482.8 226.7Z" fill="#20B2AA"/><path d="M360.3 209.6C360.3 209.6 366.1 209.7 369 209.6C371.9 209.4 374.8 208.7 377.7 208.7C380.6 208.7 383.8 209 386.4 209.6C389.1 210.1 392 210.9 393.4 212.2C394.9 213.5 395.8 215.8 395.2 217.4C394.6 219 391.7 220.5 389.9 221.8C388.2 223.1 386.2 223.8 384.7 225.3C383.2 226.7 382.1 228.5 381.2 230.5C380.3 232.5 379.2 235.5 379.5 237.5C379.8 239.5 381.5 241.1 383 242.7C384.4 244.3 388.2 247.1 388.2 247.1L360.3 247.1L360.3 209.6Z" fill="#7B9AF0"/><path d="M388.2 247.1C388.2 247.1 388.5 243 389.9 241.9C391.4 240.7 394.6 240 396.9 240.1C399.3 240.3 402.5 241.6 403.9 242.7C405.4 243.9 405.7 247.1 405.7 247.1L388.2 247.1Z" fill="#7B9AF0"/><path d="M389.9 167.6C396.9 167.2 398.4 165.8 402.2 165C405.9 164.2 410 163.8 412.6 162.8C415.3 161.7 416.4 159.9 417.9 158.9C419.3 157.9 420.5 156.5 421.4 156.8C422.2 157.1 423.1 159.4 423.1 160.7C423.1 161.9 420.2 163.1 421.4 164.1C422.5 165.2 427.2 165.9 430.1 166.8C433 167.6 436.2 168.8 438.8 169.4C441.5 170 444.4 169.1 445.8 170.3C447.3 171.4 447.3 174.2 447.6 176.4C447.8 178.6 447.7 181 447.2 183.4C446.8 185.7 446.3 188.6 444.9 190.3C443.5 192.1 441 192.8 438.8 193.8C436.7 194.9 433.9 195.6 431.8 196.5C429.8 197.3 428.1 197.9 426.6 199.1C425.2 200.2 424.3 202.9 423.1 203.4C422 204 420.1 203.6 419.6 202.6C419.2 201.5 421.4 198.5 420.5 197.3C419.6 196.2 416.9 196.2 414.4 195.6C411.9 195 408.6 194 405.7 193.8C402.7 193.7 399.8 194.3 396.9 194.7C394 195.1 391.1 195.9 388.2 196.5C385.3 197 382.1 197.6 379.5 198.2C376.8 198.8 375.7 199.5 372.5 199.9C369.3 200.4 360.3 200.8 360.3 200.8L360.3 167.6C360.3 167.6 383 168.1 389.9 167.6Z" fill="#BCEE68"/><path d="M386.4 172.9C389.1 171.4 393.4 170.1 396.9 169.4C400.4 168.7 403.9 168.5 407.4 168.5C410.9 168.5 414.4 169 417.9 169.4C421.4 169.8 425.2 170.6 428.4 171.1C431.6 171.7 434.8 172 437.1 172.9C439.4 173.8 441.2 174.9 442.3 176.4C443.5 177.8 444.1 179.6 444.1 181.6C444.1 183.6 443.5 186.8 442.3 188.6C441.2 190.3 438.8 191.2 437.1 192.1C435.3 193 433.3 194.1 431.8 193.8C430.4 193.5 429.8 191.5 428.4 190.3C426.9 189.2 425.4 187.6 423.1 186.8C420.8 186.1 417.3 185.8 414.4 186C411.5 186.1 408.6 187.6 405.7 187.7C402.7 187.9 399.3 186.4 396.9 186.8C394.6 187.3 393.7 189.3 391.7 190.3C389.6 191.4 387 192.4 384.7 193C382.4 193.5 379.8 193.8 377.7 193.8C375.7 193.8 372.8 194.1 372.5 193C372.2 191.8 374.5 189.3 376 186.8C377.4 184.4 379.5 180.4 381.2 178.1C383 175.8 383.8 174.3 386.4 172.9Z" fill="#94BE30"/><path d="M388.2 174.6C390.4 173.6 393.7 173 396.9 172.9C400.1 172.7 403.9 173.3 407.4 173.8C410.9 174.2 414.7 175.1 417.9 175.5C421.1 175.9 424 176.4 426.6 176.4C429.2 176.4 432.1 175.2 433.6 175.5C435.1 175.8 435.6 177.2 435.3 178.1C435.1 179 433 179.7 431.8 180.7C430.7 181.8 429.5 183.5 428.4 184.2C427.2 185 426.3 185.2 424.9 185.1C423.4 185 422 183.9 419.6 183.4C417.3 182.8 413.8 182 410.9 181.6C408 181.2 404.6 180.4 402.2 180.7C399.7 181 397.8 182.3 396.1 183.4C394.3 184.4 393.6 185.8 391.7 186.8C389.8 187.9 386.9 189 384.7 189.5C382.5 189.9 379.3 190.2 378.6 189.5C377.9 188.7 379.5 186.8 380.3 185.1C381.2 183.4 382.5 180.7 383.8 179C385.1 177.2 386 175.6 388.2 174.6Z" fill="#F5E6BE"/><path d="M431.8 178.1C432.3 177.4 435.1 176.8 436.2 177.2C437.4 177.7 438.7 179.3 438.8 180.7C439 182.2 438 184.7 437.1 186C436.2 187.3 434.5 188.7 433.6 188.6C432.7 188.5 431.8 186.3 431.8 185.1C431.8 183.9 433.6 182.8 433.6 181.6C433.6 180.4 431.4 178.8 431.8 178.1Z" fill="#BCEE68"/></g><clipPath id="t6"><rect x="490" y="117" width="128" height="128"/></clipPath><g clip-path="url(#t6)"><rect x="490" y="117" width="128" height="128" fill="#20B2AA"/><path d="M488.3 115.3L488.3 145.8C488.3 145.8 494.4 144.9 497 144.9C499.6 144.9 501.6 145.1 504 145.8C506.3 146.5 508.9 148.1 511 149.3C513 150.5 514.6 152.4 516.2 152.8C517.8 153.2 519.5 151.3 520.6 151.9C521.6 152.5 522.5 154.8 522.3 156.3C522.2 157.7 519.2 159.5 519.7 160.7C520.1 161.8 522.9 163.3 524.9 163.3C527 163.3 530 161.5 531.9 160.7C533.8 159.8 534.8 159.3 536.3 158C537.7 156.7 538.7 154.4 540.6 152.8C542.5 151.2 545.9 150 547.6 148.4C549.4 146.8 550.7 145.1 551.1 143.2C551.6 141.3 550.7 138.7 550.2 137.1C549.8 135.5 549.8 134.9 548.5 133.6C547.2 132.3 543.4 132.3 542.4 129.2C541.4 126.2 542.4 115.3 542.4 115.3L488.3 115.3Z" fill="#BCEE68"/><path d="M488.3 131C488.3 131 493.2 132.4 497 133.1C500.8 133.8 507.5 135.3 511 135.2C514.4 135 515.6 132.6 517.9 132.4C520.3 132.1 522.6 133.9 524.9 133.6C527.3 133.3 529.6 131.3 531.9 130.6C534.2 130 536.9 129.5 538.9 129.6C540.9 129.6 542.5 130.2 544.1 131C545.7 131.8 547.6 132.9 548.5 134.5C549.4 136.1 550.3 139.1 549.7 140.6C549.1 142 546.4 143.3 545 143.2C543.6 143 542.8 141.3 541.5 139.7C540.2 138.1 538.6 134.2 537.1 133.6C535.7 132.9 534.8 135 532.8 135.9C530.7 136.7 527.7 138.2 524.9 138.8C522.2 139.5 519.1 139.7 516.2 139.7C513.3 139.7 510.4 139.1 507.5 138.8C504.6 138.6 501.9 138.4 498.7 138.3C495.5 138.2 488.3 138.3 488.3 138.3L488.3 131Z" fill="#94BE30"/><path d="M488.3 115.3L488.3 131C488.3 131 494.4 132.3 497 132.7C499.6 133.2 501.6 133.3 504 133.6C506.3 133.9 508.6 134.8 511 134.5C513.3 134.2 515.6 132.1 517.9 131.8C520.3 131.6 522.9 133.2 524.9 132.7C527 132.3 528.7 130.2 530.2 129.2C531.6 128.2 532.8 128.9 533.7 126.6C534.5 124.3 535.4 115.3 535.4 115.3L488.3 115.3Z" fill="#F5E6BE"/><path d="M500.8 120.5C501.2 119.5 502.6 119.5 504 119.6C505.4 119.8 508.5 120.3 509.2 121.4C509.9 122.4 509.1 124.6 508.3 125.7C507.6 126.9 505.9 128.4 504.8 128.4C503.8 128.4 502.5 127 501.9 125.7C501.2 124.4 500.5 121.5 500.8 120.5Z" fill="#DEB887"/><path d="M551.1 138.8C550.4 140 554.6 140 555.5 141.4C556.4 142.9 557.1 146 556.4 147.6C555.6 149.2 553 149.9 551.1 151.1C549.2 152.2 546.3 153.2 545 154.5C543.7 155.9 543 157.2 543.3 158.9C543.6 160.7 545.2 163.1 546.8 165C548.4 166.9 550.8 168.7 552.9 170.3C554.9 171.9 556.9 174.2 559 174.6C561 175.1 563.1 173.6 565.1 172.9C567 172.2 568.8 170.1 570.7 170.3C572.6 170.4 574.5 172.2 576.4 173.8C578.4 175.4 580.4 177.8 582.6 179.9C584.7 181.9 587.2 184.1 589.5 186C591.9 187.9 594.2 189.5 596.5 191.2C598.8 193 601.2 194.6 603.5 196.5C605.8 198.3 608.5 200.4 610.5 202.6C612.5 204.7 614.1 207.5 615.7 209.6C617.3 211.6 620.1 214.8 620.1 214.8L620.1 134.5C620.1 134.5 587.4 134.5 577.3 134.5C567.3 134.5 564.2 133.7 559.8 134.5C555.5 135.2 551.8 137.7 551.1 138.8Z" fill="#B0E0E6"/><path d="M582.6 158C581.2 160.1 580.3 162 579.9 164.1C579.6 166.3 579.7 169 580.5 171.1C581.2 173.3 582.6 175.2 584.3 177.2C586 179.3 588.2 181.3 590.4 183.4C592.6 185.4 595.1 187.4 597.4 189.5C599.7 191.5 601.9 193.4 604.4 195.6C606.9 197.8 609.6 200.5 612.2 202.6C614.9 204.6 620.1 207.8 620.1 207.8L620.1 151.9C620.1 151.9 594 150.9 587.8 151.9C581.5 152.9 583.9 156 582.6 158Z" fill="#7B9AF0"/><path d="M503.1 167.6C503.7 166 505.6 164.6 507.5 163.8C509.4 163 512.1 162.7 514.4 162.8C516.8 162.8 519.2 164.1 521.4 164.1C523.6 164.1 525.5 163.2 527.5 162.8C529.6 162.3 531.6 161.2 533.7 161.5C535.7 161.9 537.9 163.6 539.8 165C541.7 166.5 543.4 168.2 545 170.3C546.6 172.3 548.3 174.8 549.4 177.2C550.4 179.7 551.2 182.6 551.5 185.1C551.8 187.6 551.6 189.8 551.1 192.1C550.6 194.4 549.7 197.4 548.5 199.1C547.3 200.8 545.7 202.2 544.1 202.2C542.5 202.2 540.6 200.3 538.9 199.1C537.1 197.8 535.5 196.5 533.7 194.7C531.8 193 529.6 190.3 527.5 188.6C525.5 186.8 523.6 185.4 521.4 184.2C519.2 183.1 516.8 182.5 514.4 181.6C512.1 180.7 509.3 180.3 507.5 179C505.7 177.7 504.3 175.6 503.6 173.8C502.9 171.9 502.5 169.3 503.1 167.6Z" fill="#BCEE68"/><path d="M515.3 172.9C515.5 171.9 518.8 171.1 520.6 170.3C522.3 169.4 523.9 167.9 525.8 167.6C527.7 167.4 529.9 168.1 531.9 168.5C533.9 169 536.3 169.1 538 170.3C539.8 171.4 541.2 173.5 542.4 175.5C543.6 177.5 544.4 180.3 545 182.5C545.6 184.7 546.2 186.7 545.9 188.6C545.6 190.5 544.4 193 543.3 193.8C542.1 194.7 540.4 194.4 538.9 193.8C537.4 193.3 535.8 191.8 534.5 190.3C533.2 188.9 532.5 186.8 531 185.1C529.6 183.4 527.7 181.3 525.8 179.9C523.9 178.4 521.4 177.5 519.7 176.4C517.9 175.2 515.2 173.9 515.3 172.9Z" fill="#94BE30"/><path d="M532.3 175.5C532.6 174.2 533.8 173.2 534.5 173.2C535.3 173.2 536.4 174.4 536.8 175.5C537.2 176.6 537.4 178.6 537.1 179.9C536.9 181.1 535.8 182.9 535.1 183C534.3 183.2 533.2 182 532.8 180.7C532.3 179.5 532 176.8 532.3 175.5Z" fill="#F5E6BE"/><path d="M562.5 181.6C563.3 179.7 565.2 177.8 566.8 177.2C568.4 176.7 570.3 177.2 572.1 178.1C573.8 179 575.6 181 577.3 182.5C579.1 183.9 580.5 185.2 582.6 186.8C584.6 188.5 587.2 190.2 589.5 192.1C591.9 194 594.2 196.2 596.5 198.2C598.8 200.2 601.2 202.1 603.5 204.3C605.8 206.5 608.6 209 610.5 211.3C612.4 213.6 613.9 215.4 614.9 218.3C615.8 221.2 616.1 225.3 616.1 228.8C616.1 232.3 614.9 236.2 614.9 239.2C614.8 242.3 615.7 247.1 615.7 247.1L545.9 247.1C545.9 247.1 546 240.5 546.8 237.5C547.5 234.4 549.5 231.4 550.2 228.8C551 226.1 550.2 223.4 551.1 221.8C552 220.2 553.4 219.7 555.5 219.2C557.5 218.6 561 219 563.3 218.3C565.7 217.6 568.1 216.4 569.5 214.8C570.8 213.2 571.5 210.7 571.2 208.7C570.9 206.6 568.9 204.7 567.7 202.6C566.5 200.4 565.2 197.9 564.2 195.6C563.3 193.3 562.2 190.9 561.9 188.6C561.7 186.3 561.7 183.5 562.5 181.6Z" fill="#BCEE68"/><path d="M600.5 193.8C597.7 195.7 605.2 201.3 607.2 204.8C609.2 208.4 611.1 211.8 612.4 215.3C613.8 218.8 614.6 221.6 615.2 225.8C615.8 230 615.9 236.7 616.1 240.3C616.3 243.8 616.4 247.1 616.4 247.1L624.5 247.1L624.5 193.8C624.5 193.8 603.4 192 600.5 193.8Z" fill="#B0E0E6"/><path d="M571.2 186.8C571.6 185.5 572.9 184.2 573.8 184.2C574.7 184.2 575.9 185.5 576.4 186.8C577 188.2 576.3 190.6 577.3 192.1C578.3 193.5 580.5 194.1 582.6 195.6C584.6 197 587.2 199.1 589.5 200.8C591.9 202.6 594.5 204.3 596.5 206.1C598.6 207.8 601.5 210.3 601.8 211.3C602.1 212.3 600 212.5 598.3 212.2C596.5 211.9 593.6 210.7 591.3 209.6C589 208.4 586.5 206.9 584.3 205.2C582.1 203.4 579.9 200.8 578.2 199.1C576.4 197.3 575 195.9 573.8 194.7C572.7 193.5 571.6 193.4 571.2 192.1C570.8 190.8 570.8 188.2 571.2 186.8Z" fill="#94BE30"/><path d="M600.9 228.8C601.4 227.3 602.2 225.3 603.5 224.4C604.8 223.5 607.4 222.8 608.7 223.5C610.1 224.2 611.1 226.7 611.4 228.8C611.7 230.8 611.2 234 610.5 235.7C609.8 237.5 608.3 238.9 607 239.2C605.7 239.5 603.7 238.5 602.6 237.5C601.5 236.5 600.7 234.6 600.4 233.1C600.1 231.7 600.4 230.2 600.9 228.8Z" fill="#94BE30"/><path d="M585.2 230.5C585.2 229.6 586.3 228.7 586.9 228.8C587.5 228.8 588.7 230 588.7 230.9C588.7 231.7 587.5 234.1 586.9 234C586.3 233.9 585.2 231.4 585.2 230.5Z" fill="#20B2AA"/><path d="M553.2 204.3C553.7 203 554.4 201.5 555.5 200.8C556.6 200.1 558.7 199.5 559.8 199.9C561 200.4 562.1 201.8 562.5 203.4C562.8 205 562.5 208 561.9 209.6C561.4 211.2 560.2 212.5 559 213C557.8 213.6 555.6 213.4 554.6 212.7C553.6 212 553.1 210.1 552.9 208.7C552.6 207.3 552.8 205.6 553.2 204.3Z" fill="#B0E0E6"/><path d="M488.3 167.6C488.3 167.6 491.7 168.2 493.5 169.4C495.2 170.6 497.2 172.8 498.7 174.6C500.2 176.4 500.8 178.6 502.6 180.2C504.3 181.8 506.9 183 509.2 184.2C511.5 185.5 514 186.1 516.2 187.7C518.4 189.3 520.4 191.7 522.3 193.8C524.2 196 525.8 198.8 527.5 200.8C529.3 202.9 531.4 204.2 532.8 206.1C534.2 208 535.5 210 535.8 212.2C536 214.4 535.5 217 534.5 219.2C533.6 221.3 531.8 223.5 530.2 225.3C528.6 227 527 228.9 524.9 229.6C522.9 230.4 520.3 229.3 517.9 229.6C515.6 229.9 512.8 230.4 511 231.4C509.1 232.4 507.8 234 506.6 235.7C505.4 237.5 504.3 240 504 241.9C503.7 243.7 504.8 247.1 504.8 247.1L488.3 247.1L488.3 167.6Z" fill="#B0E0E6"/><path d="M488.3 181.6C488.3 181.6 494.1 183.4 497 184.2C499.9 185.1 503.1 185.8 505.7 186.8C508.3 187.9 510.7 188.9 512.7 190.3C514.7 191.8 516.5 193.5 517.9 195.6C519.3 197.6 520.6 200.2 521.1 202.6C521.5 204.9 521.4 207.7 520.6 209.6C519.7 211.4 518.4 213 516.2 213.9C514 214.8 510.4 214.8 507.5 214.8C504.6 214.8 501.9 214.4 498.7 213.9C495.5 213.5 488.3 212.2 488.3 212.2L488.3 181.6Z" fill="#7B9AF0"/><path d="M490.9 226.1C491.7 224.8 493.8 223.7 495.2 223.5C496.7 223.4 498.7 224.1 499.6 225.3C500.5 226.4 499.7 229.1 500.5 230.5C501.2 232 503.7 232.8 504 234C504.3 235.2 503.4 236.8 502.2 237.5C501.1 238.2 498.6 238.7 497 238.4C495.4 238.1 493.8 236.9 492.6 235.7C491.5 234.6 490.3 233 490 231.4C489.7 229.8 490 227.5 490.9 226.1Z" fill="#20B2AA"/></g><clipPath id="t7"><rect x="362" y="245" width="128" height="128"/></clipPath><g clip-path="url(#t7)"><rect x="362" y="245" width="128" height="128" fill="#20B2AA"/><path d="M360.3 243.3L360.3 268.6C360.3 268.6 365.2 270 367.2 269.4C369.3 268.9 370.4 266 372.5 265.1C374.5 264.2 377.1 264.1 379.5 264.2C381.8 264.4 384.1 266.1 386.4 266C388.8 265.8 391.4 264.5 393.4 263.3C395.5 262.2 396.9 260 398.7 259C400.4 258 402.7 258.2 403.9 257.2C405.1 256.2 405.7 254.5 405.7 252.9C405.7 251.3 403.6 249.2 403.9 247.6C404.2 246 407.4 243.3 407.4 243.3L360.3 243.3Z" fill="#B0E0E6"/><path d="M364.6 245.9C365 244.7 367.2 243.3 367.2 243.3L374.2 243.3C374.2 243.3 373.5 247.9 372.5 249.4C371.5 250.8 369.3 251.8 368.1 252C366.9 252.1 365.7 251.3 365.1 250.2C364.6 249.2 364.3 247 364.6 245.9Z" fill="#7B9AF0"/><path d="M380.3 243.3L388.2 243.3C388.2 243.3 387.5 246.7 386.4 247.6C385.4 248.5 383.1 249.2 382.1 248.5C381.1 247.8 380.3 243.3 380.3 243.3Z" fill="#7B9AF0"/><path d="M429.2 243.3C429.2 243.3 430 251.4 431.2 254.4C432.3 257.5 434.4 259.4 436.4 261.4C438.4 263.5 440.8 265.5 443.4 266.7C446 267.8 448.6 267.7 452.1 268.4C455.6 269.1 460.8 270.9 464.3 271C467.8 271.2 470.2 269.7 473.1 269.3C476 268.8 478.6 267.6 481.8 268.4C485 269.2 492.1 274.3 492.1 274.3L492.1 243.3L429.2 243.3Z" fill="#B0E0E6"/><path d="M431.8 243.3C431.8 243.3 435.1 248.8 436.4 250.9C437.7 253.1 438.7 254.4 439.9 256.2C441 257.9 441.3 260.3 443.4 261.4C445.4 262.6 448.6 262.3 452.1 263.2C455.6 264 461.1 266.4 464.3 266.7C467.5 266.9 468.7 265.2 471.3 264.9C473.9 264.6 477.4 265.5 480 264.9C482.7 264.3 485.1 263.2 487 261.4C488.9 259.7 491.4 254.4 491.4 254.4L492.1 243.3L431.8 243.3Z" fill="#7B9AF0"/><path d="M380.3 303.5C385 302.9 385.7 301 388.2 300C390.7 299 393.3 297.2 395.2 297.4C397.1 297.5 398.2 299.6 399.5 300.9C400.9 302.2 402.3 303.2 403 305.2C403.8 307.3 403.6 310.6 403.9 313.1C404.2 315.6 404.5 317.5 404.8 320.1C405.1 322.7 405.4 326.2 405.7 328.8C405.9 331.4 405.7 333.5 406.5 335.8C407.4 338.1 409 340.2 410.9 342.8C412.8 345.4 415.3 349.2 417.9 351.5C420.5 353.8 423.7 355.2 426.6 356.8C429.5 358.4 432.1 359.8 435.3 361.1C438.5 362.4 442.3 363.6 445.8 364.6C449.3 365.6 452.8 366.4 456.3 367.2C459.8 368.1 462.7 369.4 466.8 369.9C470.8 370.3 476.5 370.1 480.7 369.9C485 369.6 492.1 368.1 492.1 368.1L492.1 375.1L360.3 375.1L360.3 303.5C360.3 303.5 375.7 304.1 380.3 303.5Z" fill="#B0E0E6"/><path d="M396.1 327.9C396.5 326.8 398.3 325.7 399.5 325.7C400.8 325.7 402.8 326.8 403.6 327.9C404.3 329.1 404.4 331.2 403.9 332.3C403.4 333.4 401.6 334.4 400.4 334.4C399.3 334.4 397.7 333.4 396.9 332.3C396.2 331.2 395.6 329.1 396.1 327.9Z" fill="#7B9AF0"/><path d="M404.8 293C405.5 291.4 407.3 289.2 409.1 287.8C411 286.3 413.8 285.3 416.1 284.3C418.5 283.3 421.5 282 423.1 282C424.7 282 426 283.2 425.7 284.3C425.4 285.4 423.3 287.3 421.4 288.7C419.5 290 416.6 290.8 414.4 292.1C412.2 293.5 409.9 295.6 408.3 296.5C406.7 297.4 405.4 298 404.8 297.4C404.2 296.8 404.1 294.6 404.8 293Z" fill="#B0E0E6"/><path d="M376.8 279.9C377.4 278.6 379.3 275.9 381.2 274.7C383.1 273.5 385.9 272.9 388.2 272.9C390.5 272.9 392.9 274.7 395.2 274.7C397.5 274.7 400.3 274.1 402.2 272.9C404.1 271.8 404.8 269 406.5 267.7C408.3 266.4 410.5 265.4 412.6 265.1C414.8 264.8 417.3 265.7 419.6 266C422 266.2 425 266.1 426.6 266.8C428.2 267.6 429.5 269.3 429.2 270.3C428.9 271.3 426.8 272.4 424.9 272.9C423 273.5 419.9 273.1 417.9 273.8C415.8 274.5 414.2 275.9 412.6 277.3C411 278.8 410 281.1 408.3 282.5C406.5 284 404.3 285.3 402.2 286C400 286.8 397.5 286.9 395.2 286.9C392.9 286.9 390.5 286.3 388.2 286C385.9 285.7 383 285.7 381.2 285.2C379.5 284.6 378.4 283.4 377.7 282.5C377 281.7 376.3 281.2 376.8 279.9Z" fill="#BCEE68"/><path d="M449.3 273.8C451.2 272.4 452.7 271 454.6 270.3C456.4 269.7 458.9 269.4 460.7 269.8C462.4 270.2 463.9 271.4 465 272.9C466.2 274.5 466.9 276.9 467.6 279.1C468.4 281.2 468.4 283.7 469.4 286C470.4 288.4 471.9 291.1 473.8 293C475.7 294.9 478.4 296.4 480.7 297.4C483.1 298.4 485.8 299 487.7 299.1C489.6 299.3 492.1 298.3 492.1 298.3L492.1 363.7C492.1 363.7 486.7 364.9 484.2 365.5C481.8 366.1 479.6 367.2 477.3 367.2C474.9 367.3 472.3 366.1 470.3 365.8C468.2 365.5 467.6 366.1 465 365.5C462.4 364.9 458 363.4 454.6 362.3C451.1 361.3 447.6 360.5 444.1 359.4C440.6 358.3 437.1 357.2 433.6 355.9C430.1 354.6 426.3 353 423.1 351.5C419.9 350.1 416.6 349 414.4 347.2C412.2 345.3 411 342.6 410 340.2C409.1 337.7 409.1 335.1 408.8 332.3C408.5 329.5 408.5 326.5 408.3 323.6C408.1 320.7 407.6 317.6 407.8 314.8C407.9 312.1 408 308.9 409.1 307C410.3 305.1 412.5 304.6 414.4 303.5C416.3 302.4 418.9 300.7 420.5 300.5C422.1 300.4 422.9 303.2 424 302.6C425.1 302.1 425.7 299.4 427 297.4C428.3 295.4 430.2 292.6 431.8 290.4C433.5 288.2 435.2 286.2 437.1 284.3C439 282.4 441.2 280.8 443.2 279.1C445.2 277.3 447.4 275.3 449.3 273.8Z" fill="#BCEE68"/><path d="M452.8 274.7C454.8 273.8 457.2 272.8 458.9 272.9C460.7 273.1 462.1 274.1 463.3 275.6C464.4 277 465.2 279.5 465.9 281.7C466.6 283.9 466.7 286.3 467.3 288.7C467.9 291 468.3 293.5 469.4 295.6C470.5 297.8 471.9 300.2 473.8 301.8C475.7 303.4 478.4 305 480.7 305.2C483.1 305.5 485.8 303.6 487.7 303.5C489.6 303.4 492.1 304.4 492.1 304.4L492.1 356.8C492.1 356.8 487.3 358.5 484.2 358.5C481.2 358.5 476.7 357.5 473.8 356.9C470.8 356.4 469 355.9 466.6 355.2C464.2 354.5 461.9 353.6 459.6 352.9C457.3 352.2 455 351.8 452.6 351.2C450.3 350.5 448 350 445.6 349.1C443.3 348.1 440.7 347 438.7 345.6C436.6 344.1 434.9 341.9 433.4 340.3C432 338.7 431.6 337.3 429.9 336C428.2 334.6 425.3 332.6 423.1 332.3C421 332 418.5 335.1 417 334.1C415.6 333 415 328.8 414.4 326.2C413.8 323.6 413.5 321 413.5 318.3C413.5 315.7 413.4 312.5 414.4 310.5C415.4 308.4 417.9 307 419.6 306.1C421.4 305.2 423.8 306.1 424.9 305.2C425.9 304.4 425 302.6 425.7 300.9C426.5 299.1 427.8 296.8 429.2 294.8C430.7 292.7 432.6 290.7 434.5 288.7C436.4 286.6 438.5 284.3 440.6 282.5C442.6 280.8 444.7 279.5 446.7 278.2C448.7 276.9 450.8 275.6 452.8 274.7Z" fill="#94BE30"/><path d="M492.1 297.4C492.1 297.4 486.7 298.6 484.2 299.1C481.8 299.7 479 299.9 477.3 300.9C475.5 301.9 473.8 303.5 473.8 305.2C473.8 307 475.8 309.5 477.3 311.4C478.7 313.2 480.7 315.4 482.5 316.6C484.2 317.8 486.1 317.8 487.7 318.3C489.3 318.9 492.1 320.1 492.1 320.1L492.1 297.4Z" fill="#BCEE68"/><path d="M456.3 277.3C457.9 277 459.6 277.2 460.7 278.2C461.8 279.2 462.6 281.4 462.9 283.4C463.2 285.5 462.4 288.1 462.4 290.4C462.5 292.7 463.7 295.5 463.3 297.4C462.8 299.3 461.5 300.7 459.8 301.8C458 302.8 455.1 303.2 452.8 303.5C450.5 303.8 448.1 303.2 445.8 303.5C443.5 303.8 441.2 304.5 438.8 305.2C436.5 306 433.9 307.6 431.8 307.9C429.8 308.2 427.7 308 426.6 307C425.5 306 424.8 303.5 425.2 301.8C425.7 300 427.7 298.1 429.2 296.5C430.8 294.9 432.6 293.6 434.5 292.1C436.4 290.7 438.7 289.2 440.6 287.8C442.5 286.3 444.1 284.7 445.8 283.4C447.6 282.1 449.3 280.9 451.1 279.9C452.8 278.9 454.7 277.6 456.3 277.3Z" fill="#F5E6BE"/><path d="M452.8 282.5C454.1 281.7 456 280.5 457.2 280.8C458.3 281.1 459.5 282.7 459.8 284.3C460.1 285.9 459.4 288.4 458.9 290.4C458.5 292.4 458.2 294.9 457.2 296.5C456.2 298.1 454.6 299.3 452.8 300C451.1 300.7 448.7 300.9 446.7 300.9C444.7 300.9 442.2 300.6 440.6 300C439 299.4 436.9 298.6 437.1 297.4C437.2 296.2 440 294.3 441.5 293C442.9 291.7 444.5 290.7 445.8 289.5C447.1 288.4 448.1 287.2 449.3 286C450.5 284.9 451.5 283.4 452.8 282.5Z" fill="#DEB887"/><path d="M446.7 293C447.3 291.9 449 290.7 450.2 289.5C451.3 288.4 452.7 287.1 453.7 286C454.7 285 455.5 283.4 456.3 283.1C457.1 282.8 458.1 283.4 458.4 284.3C458.7 285.2 458.5 287.3 458 288.7C457.5 290 456.4 291 455.4 292.1C454.4 293.3 453.1 294.8 451.9 295.6C450.8 296.5 449.3 297.2 448.4 297.4C447.6 297.5 447 297.2 446.7 296.5C446.4 295.8 446.1 294.2 446.7 293Z" fill="#FFE400"/><path d="M449.3 316.6C451.2 315 454.1 313.2 456.3 312.2C458.5 311.2 461 310.3 462.4 310.5C463.9 310.6 465.5 312.4 465 313.1C464.6 313.8 461.1 313.7 459.8 314.8C458.5 316 457.3 318.3 457.2 320.1C457 321.8 457.6 324.2 458.9 325.3C460.2 326.5 462.6 326.8 465 327.1C467.5 327.4 470.8 326.6 473.8 327.1C476.7 327.5 479.4 329.4 482.5 329.7C485.5 330 492.1 328.8 492.1 328.8L492.1 349.8C492.1 349.8 487 351.4 484.2 351.5C481.5 351.7 478.4 351.2 475.5 350.6C472.6 350.1 469.7 349 466.8 348C463.9 347 461 345.8 458 344.5C455.1 343.2 451.6 341.8 449.3 340.2C447 338.6 445.2 336.8 444.1 334.9C442.9 333 442.2 331 442.3 328.8C442.5 326.6 443.8 323.9 444.9 321.8C446.1 319.8 447.4 318.2 449.3 316.6Z" fill="#F5E6BE"/><path d="M456.3 321.8C457 321 458.9 319.7 459.8 320.1C460.7 320.5 460.7 323 461.5 324.5C462.4 325.9 463.9 327.7 465 328.8C466.2 330 468.2 330.6 468.5 331.4C468.8 332.3 467.9 333.8 466.8 334.1C465.6 334.3 463.1 333.9 461.5 333.2C459.9 332.5 458.2 331 457.2 329.7C456.2 328.4 455.6 326.6 455.4 325.3C455.3 324 455.6 322.7 456.3 321.8Z" fill="#DEB887"/><path d="M462.9 318.3C463.4 317.2 465.4 315.5 466.8 315.2C468.1 314.9 470.2 315.8 471.1 316.6C472.1 317.4 472.8 319.1 472.4 320.1C471.9 321.1 469.9 322.4 468.5 322.7C467.2 323 465.1 322.6 464.2 321.8C463.2 321.1 462.5 319.4 462.9 318.3Z" fill="#94BE30"/></g><clipPath id="t8"><rect x="490" y="245" width="128" height="128"/></clipPath><g clip-path="url(#t8)"><rect x="490" y="245" width="128" height="128" fill="#20B2AA"/><path d="M549.4 243.3C549.4 243.3 550.2 246.5 552 247.6C553.7 248.7 557.1 249.5 559.8 249.9C562.6 250.3 565.7 250.3 568.6 250.2C571.5 250.2 574.1 249.7 577.3 249.4C580.5 249.1 584.3 248.8 587.8 248.5C591.3 248.2 595.4 248.5 598.3 247.6C601.2 246.7 605.3 243.3 605.3 243.3L549.4 243.3Z" fill="#BCEE68"/><path d="M488.3 243.3L534.5 243.3C534.5 243.3 538.2 249.4 539.8 252C541.4 254.6 542.8 256.5 544.1 259C545.4 261.4 546.6 264.4 547.6 266.8C548.6 269.3 549.5 271.3 550.2 273.8C551 276.3 551.4 279.1 552 281.7C552.6 284.3 553.7 286.9 553.7 289.5C553.8 292.1 553.2 295.2 552.5 297.4C551.8 299.6 551.1 301.6 549.4 302.6C547.7 303.6 544.4 303.1 542.4 303.5C540.4 303.9 538.6 304.2 537.1 305.2C535.7 306.3 534.5 310 533.7 309.6C532.8 309.2 532.1 305 531.9 302.6C531.8 300.3 533.1 297.8 532.8 295.6C532.5 293.5 531.5 291.1 530.2 289.5C528.9 287.9 527 286.9 524.9 286C522.9 285.2 520.6 284.3 517.9 284.3C515.3 284.3 512.1 285.3 509.2 286C506.3 286.8 503.1 288.1 500.5 288.7C497.9 289.2 495.5 289.5 493.5 289.5C491.5 289.5 488.3 288.7 488.3 288.7L488.3 243.3Z" fill="#B0E0E6"/><path d="M516.2 314.8C517.9 313.8 521.7 312.1 524.9 312.2C528.1 312.4 532.5 314.8 535.4 315.7C538.3 316.6 540.1 317.6 542.4 317.5C544.7 317.3 547.3 316.9 549.4 314.8C551.4 312.8 552.8 305.7 554.6 305.2C556.4 304.8 559 309.9 560.2 312.2C561.4 314.6 561.8 317.3 561.6 319.2C561.4 321.2 560.7 322.6 559 323.9C557.2 325.2 553.5 326.2 551.1 327.1C548.7 327.9 545.9 327.7 544.5 329.2C543 330.6 542.4 333.5 542.4 335.8C542.4 338.1 543.3 340.8 544.5 342.8C545.7 344.8 547.2 347.3 549.7 348C552.3 348.8 556.9 347.7 559.8 347.2C562.8 346.6 564.8 345.6 567.2 344.5C569.6 343.5 572.2 342.5 574.2 341C576.1 339.6 578.1 337.8 579.1 335.8C580 333.8 579.6 331.1 579.9 328.8C580.3 326.5 580.4 323.9 581.2 321.8C581.9 319.8 582.9 317.9 584.6 316.6C586.4 315.3 588.8 314.7 591.6 314C594.5 313.2 597 312.7 601.8 312.2C606.5 311.8 620.1 311.4 620.1 311.4L620.1 375.1L507.5 375.1C507.5 375.1 508.3 369.1 509.2 367.2C510.1 365.3 512.4 365.5 512.7 363.7C513 362 511.8 358.8 511 356.8C510.1 354.7 508.2 353.4 507.5 351.5C506.7 349.6 506.3 347.4 506.6 345.4C506.9 343.4 508.3 341.5 509.2 339.3C510.1 337.1 511.1 334.6 511.8 332.3C512.6 330 513.1 327.7 513.6 325.3C514 323 514 320.1 514.4 318.3C514.9 316.6 514.4 315.9 516.2 314.8Z" fill="#B0E0E6"/><path d="M496.6 243.3C496.6 243.3 495.3 245.9 496.6 246.4C498 246.9 501.3 245.8 504.7 246C508 246.3 513.7 247 516.9 247.8C520.1 248.6 522 250.8 523.9 250.9C525.8 251 527.1 249.6 528.2 248.3C529.4 247 530.9 243.3 530.9 243.3L496.6 243.3Z" fill="#20B2AA"/><path d="M488.3 278.2C488.3 278.2 492.9 279.1 494.4 278.9C495.8 278.7 496.7 278.1 497 277C497.3 275.8 496.1 273.5 496.3 271.7C496.5 270 497 267.9 498.2 266.5C499.4 265.1 501.7 263.5 503.4 263.2C505.2 262.8 507.4 263.4 508.7 264.4C510 265.4 511 267.4 511.3 269.1C511.7 270.8 510.1 273 510.8 274.3C511.4 275.6 513.3 276.3 515.3 277C517.4 277.6 520.6 278.2 523.2 278.2C525.8 278.2 528.6 277.4 531 277C533.5 276.5 535.5 275.9 538 275.6C540.5 275.2 543.1 274.5 545.9 274.7C548.6 274.8 553.2 273.8 554.6 276.4C556.1 279.1 558.5 288 554.6 290.4C550.7 292.8 535.7 291.4 531 290.8C526.4 290.1 528.6 287.4 526.7 286.4C524.8 285.4 522.3 284.8 519.7 284.6C517.1 284.4 513.9 284.7 511 285.2C508 285.6 504.8 286.6 502.2 287.3C499.6 287.9 497.6 288.7 495.2 289C492.9 289.3 488.3 289 488.3 289L488.3 278.2Z" fill="#20B2AA"/><path d="M517.1 305.2C518.5 303.9 522.5 303.5 524.9 303.5C527.4 303.5 530.1 304.1 531.9 305.2C533.7 306.4 534 309.7 535.8 310.5C537.5 311.3 540.4 309.8 542.4 310C544.4 310.1 546.6 310.5 547.6 311.4C548.6 312.2 549.4 314 548.5 314.8C547.6 315.7 544.6 316.6 542.4 316.6C540.2 316.6 537.4 315.6 535.4 314.8C533.4 314.1 531.9 312.8 530.2 312.2C528.4 311.6 526.7 311.1 524.9 311.4C523.2 311.6 521.1 314 519.7 314C518.2 314 516.6 312.8 516.2 311.4C515.8 309.9 515.6 306.6 517.1 305.2Z" fill="#20B2AA"/><path d="M497 267.7C497.5 266.1 498.9 264.2 500.5 263.3C502.1 262.5 504.8 262 506.6 262.5C508.3 262.9 510.3 264.4 511 266C511.6 267.6 511.3 270.3 510.6 272.1C509.9 273.8 508.3 275.7 506.6 276.4C504.9 277.2 502 277 500.5 276.4C498.9 275.9 497.9 274.4 497.3 272.9C496.8 271.5 496.5 269.3 497 267.7Z" fill="#20B2AA"/><path d="M585.2 274.7C584.7 272.9 585.6 270.9 586.9 269.4C588.2 268 591.1 267.1 593 266C594.9 264.8 596.8 263.9 598.3 262.5C599.7 261 600 258.5 601.8 257.2C603.5 255.9 605.7 255.2 608.7 254.6C611.8 254 620.1 253.7 620.1 253.7L620.1 302.6C620.1 302.6 614.7 301.8 612.2 300.9C609.8 300 607 298.8 605.3 297.4C603.5 295.9 602.9 293.9 601.8 292.1C600.6 290.4 599.4 288.5 598.3 286.9C597.1 285.3 596.2 283.7 594.8 282.5C593.3 281.4 591.1 281.2 589.5 279.9C587.9 278.6 585.6 276.4 585.2 274.7Z" fill="#B0E0E6"/><path d="M604.4 267.7C604.4 265.7 605.1 263.8 606.1 262.5C607.1 261.2 608.9 260.1 610.5 259.8C612.1 259.6 614.7 259.4 615.7 260.7C616.7 262 616.9 265.4 616.6 267.7C616.3 270 615 272.8 614 274.7C613 276.6 611.8 279.1 610.5 279.1C609.2 279.1 607.1 276.6 606.1 274.7C605.1 272.8 604.4 269.7 604.4 267.7Z" fill="#7B9AF0"/><path d="M561.6 286.9C562 285.6 562.8 283.6 564.2 283.4C565.7 283.3 568.1 284.9 570.3 286C572.5 287.2 575 289.1 577.3 290.4C579.6 291.7 582.8 292.4 584.3 293.9C585.8 295.4 586.2 297.2 586.4 299.1C586.5 301 586.4 303.8 585.2 305.2C583.9 306.7 581.1 307.6 579.1 307.9C577 308.2 574.7 307.9 572.9 307C571.2 306.1 569.9 304.4 568.6 302.6C567.3 300.9 566.2 298.4 565.1 296.5C564 294.6 562.5 292.9 561.9 291.3C561.4 289.7 561.2 288.2 561.6 286.9Z" fill="#BCEE68"/><path d="M488.3 288.7C488.3 288.7 492.9 288.9 495.2 288.7C497.6 288.4 499.6 287.6 502.2 286.9C504.8 286.3 508 285.3 511 284.8C513.9 284.4 517.1 284.1 519.7 284.3C522.3 284.5 524.8 285 526.7 286C528.6 287.1 530 288.8 531 290.4C532.1 292 532.8 293.9 532.8 295.6C532.8 297.4 532.3 299.6 531 300.9C529.7 302.2 526.8 302.9 524.9 303.5C523 304.1 521.1 303.6 519.7 304.4C518.2 305.1 517.1 306.1 516.2 307.9C515.3 309.6 515 312.5 514.4 314.8C513.9 317.2 513.4 319.5 512.7 321.8C512 324.2 511 326.5 510.1 328.8C509.2 331.1 508.2 333.5 507.5 335.8C506.7 338.1 506.6 340.5 505.7 342.8C504.8 345.1 503.7 348.2 502.2 349.8C500.8 351.4 499.3 352.1 497 352.4C494.7 352.7 488.3 351.5 488.3 351.5L488.3 288.7Z" fill="#BCEE68"/><path d="M488.3 295.6C488.3 295.6 492.9 293.8 495.2 293C497.6 292.2 499.9 291.5 502.2 290.8C504.6 290 506.9 289.2 509.2 288.7C511.5 288.2 514.2 287.6 516.2 287.8C518.2 287.9 520.3 288.5 521.4 289.5C522.6 290.5 523.5 292.6 523.2 293.9C522.9 295.2 520.9 296.2 519.7 297.4C518.5 298.6 517.4 299.4 516.2 300.9C515 302.3 513.6 304.1 512.7 306.1C511.8 308.2 511.5 310.8 511 313.1C510.4 315.4 509.9 317.8 509.2 320.1C508.5 322.4 507.6 324.7 506.6 327.1C505.6 329.4 504.3 331.9 503.1 334.1C501.9 336.2 500.9 338.4 499.6 340.2C498.3 341.9 497.1 343.7 495.2 344.5C493.3 345.4 488.3 345.4 488.3 345.4L488.3 295.6Z" fill="#94BE30"/><path d="M488.3 305.2C488.3 305.2 491.5 304.1 493.5 303.5C495.5 302.9 498.1 302.1 500.5 301.8C502.8 301.4 505.9 300.6 507.5 301.2C509 301.8 509.6 303.6 509.6 305.2C509.6 306.9 508 309.2 507.5 311.4C506.9 313.5 506.6 316 506.1 318.3C505.5 320.7 504.9 323 504 325.3C503 327.7 501.4 330 500.5 332.3C499.6 334.6 499.6 337.6 498.7 339.3C497.9 341 497 342.4 495.2 342.8C493.5 343.2 488.3 341.9 488.3 341.9L488.3 305.2Z" fill="#F5E6BE"/><path d="M488.3 314C488.3 314 492.1 314.1 493.5 314.8C494.9 315.6 496.3 317 496.6 318.3C496.9 319.7 496.6 321.7 495.2 322.7C493.8 323.7 488.3 324.5 488.3 324.5L488.3 314Z" fill="#94BE30"/><path d="M519.7 340.2C520.1 338.9 521.6 338.9 522.3 339.3C523 339.7 524 341.3 524.1 342.8C524.1 344.2 523.5 347.3 522.8 348C522.2 348.8 520.6 348.5 520 347.2C519.5 345.8 519.3 341.5 519.7 340.2Z" fill="#7B9AF0"/><path d="M488.3 363.7C488.3 363.7 491.7 362.3 492.6 362.9C493.6 363.5 494 365.9 493.8 367.2C493.7 368.6 492.7 370.4 491.7 371.1C490.8 371.8 488.3 371.6 488.3 371.6L488.3 363.7Z" fill="#7B9AF0"/></g><path d="M490.7 247.2V372.4" stroke="#fff" stroke-opacity="0.45" stroke-width="0.6" fill="none"/><g transform="translate(490.4 245.2)" fill="none" stroke="#000" stroke-width="1.25" stroke-linejoin="round" stroke-linecap="round"><path d="M-105.3 -72.5L-104.3 -73.4L-103.2 -74.2L-102.7 -75.5L-101.7 -75.9L-100.7 -76.5L-99.7 -76.9L-99.2 -75.8L-98 -75.6L-96.5 -75.7L-95.2 -75.1L-93.7 -74.7L-92.2 -74.8L-91.1 -75.1L-89.8 -74.9L-88.7 -75.5L-87.5 -75.8L-86.4 -74.6L-85.2 -75.1L-84 -74.7L-82.6 -74.5L-81.7 -73.4L-80.5 -73.2L-79.3 -72.6L-78.2 -72L-76.8 -72.2L-75.6 -71.3L-74.5 -71.2L-73.5 -71L-72.5 -70.7L-71.2 -70.7L-69.9 -71.3L-68.6 -71.3L-67.5 -71.6L-66.3 -71.6L-65.1 -71.3L-63.6 -71.2L-62.1 -71.2L-60.8 -72L-59.7 -72.5L-58.7 -73.3L-57.3 -73.2L-56.4 -74.1L-55.2 -74.8L-54 -75.6L-52.6 -75.8L-51.7 -76.8L-50.3 -76.7L-49.4 -77.6L-48.4 -78.4L-47.9 -79.6L-47.3 -80.7L-47.2 -82L-46.9 -83.4L-46.8 -84.7L-46.5 -85.9L-45.1 -86.4L-45.1 -87.7L-44.9 -88.8L-44.3 -89.7L-44.2 -90.8L-44.2 -92L-45.1 -92.9L-43.8 -92.8L-42.8 -93.4L-42.1 -92.2L-41.6 -90.8L-41.6 -89.5L-42.2 -88.3L-42.4 -87L-42.4 -85.5L-43.8 -84.5L-43.8 -83L-43.3 -81.7L-43.1 -80.4L-42 -80.7L-41.4 -81.7L-41.3 -83.1L-40.8 -84.4L-40.3 -85.6L-40.4 -87.1L-39.9 -88.5L-39.5 -90L-39.6 -91.2L-39.5 -92.4L-38.6 -93.4L-37.9 -94.3L-37.9 -95.5L-37.2 -96.4L-36.9 -97.6L-36.3 -98.6L-35.4 -99.6L-34.8 -100.6L-34.1 -101.7L-33.4 -102.7L-32.4 -103.8L-31.6 -104.9L-30.9 -106.2L-30.1 -107.5L-28.6 -108.2L-28.1 -109.7L-26.9 -110.3L-26.7 -112L-25.3 -112.5L-24.2 -112.9L-23.3 -113.5L-22.9 -114.6L-21.8 -115.3L-22.6 -114.4L-22.7 -113.2L-23.1 -112L-24.5 -111.6L-25 -110.4L-25.9 -109.6L-26.1 -108.1L-27.4 -107.6L-27.7 -106.2L-29.5 -105.9L-29.9 -104.4L-30.7 -103.5L-31 -102.2L-32 -101.3L-32.2 -99.9L-33 -98.7L-34.1 -97.8L-34.3 -96.5L-35.5 -95.6L-35.8 -94.3L-36.3 -92.9L-37.2 -91.7L-35.7 -91.4L-34.6 -90.3L-33.4 -90.1L-32.5 -90.5L-31.6 -91.2L-30.1 -91.1L-28.8 -90.1L-28.3 -89.1L-27.3 -88.9L-26.4 -88.4L-25.3 -88.7L-24.6 -89.4L-23.9 -90.1L-22.6 -90L-21.5 -90.8L-21.6 -89.4L-21 -88L-22 -87.5L-22.2 -86.1L-23.2 -85.6L-24 -84.8L-24.4 -83.7L-25 -82.8L-25.6 -81.8L-25.5 -80.6L-25.8 -79.5L-25.7 -78L-24.6 -76.9L-23.4 -76.1L-22.2 -75.5L-20.8 -75.8L-19.4 -75.5L-18.4 -75.2L-17.5 -74.7L-16.9 -73.7L-16.6 -72.6L-15.8 -71.5L-16.1 -70.2L-16.7 -69.2L-17 -68L-18 -67.3L-19.4 -66.8L-20.8 -66.4L-20.1 -65.5L-19.4 -64.6L-18.7 -63.8L-18.1 -62.7L-16.6 -63L-16.1 -61.8L-16.8 -60.8L-16.6 -59.6L-16.9 -58.5L-17.9 -57.7L-18.9 -56.9L-19.7 -55.9L-21.1 -55.7L-22 -54.6L-23.2 -54.2L-24.3 -53.5L-25.8 -53.5L-26.7 -52.4L-27.7 -51.5L-29.1 -51.8L-30.2 -51.2L-31.4 -50.9L-32.3 -49.7L-33.7 -49.8L-34.9 -49.5L-36.1 -49.2L-37.2 -48.6L-38.5 -48.8L-39.5 -47.7L-40.7 -47.5L-42.2 -47.4L-43.1 -46.1L-43.9 -44.9L-44.7 -43.7L-45.1 -42.7L-46 -42L-45.9 -40.9L-46 -39.7L-47.3 -39.4L-47.7 -38.4L-48.6 -38L-49.2 -37.1L-50.1 -36.7L-51.2 -36.5L-51.6 -35.4L-52.6 -34.9L-53.5 -34.1L-54.4 -33.2L-55.4 -32.3L-56.4 -31.7L-56.7 -30.3L-57.8 -29.7L-58.6 -28.9L-59.4 -28.2L-60.2 -27.6L-61.2 -26.5L-62 -25.3L-62.9 -24.2L-63 -22.7L-63.4 -21.3L-64.3 -20.1L-65 -19L-64.7 -17.7L-65.1 -16.6L-65.7 -15.5L-66 -14.2L-66.9 -13.1L-67.6 -11.8L-68.3 -10.5L-68.4 -9.2L-67.5 -8.3L-66.9 -7.4L-65.7 -6.5L-64.3 -6.3L-63 -6.9L-61.6 -7L-60.4 -7.8L-59 -8.2L-57.6 -7.9L-56.4 -7L-55 -7.6L-53.8 -8.4L-52.6 -7.6L-51.2 -7L-52.1 -6.3L-51.8 -4.9L-52.9 -4.4L-54.1 -4.3L-55.2 -4L-56.1 -3.2L-57 -3.5L-58.2 -3.1L-59 -3.9L-60.2 -3L-61.6 -2.6L-62.5 -1.6L-63.6 -1.5L-64.8 -1.4L-65.6 -2.3L-66.7 -2.4L-67.8 -2.6L-68.8 -1.9L-69.5 -0.9L-70.6 -1L-71.6 -0.8L-72.5 -0L-73.5 -0.6L-74.5 -1.1L-75.6 -1.4L-77 -0.9L-78.2 -0L-79.3 0L-80.2 0.4L-81.2 0.8L-81.9 -0.2L-83.2 -0.7L-83.7 -2.1L-84.7 -2.8L-85.9 -3.6L-86.8 -4.7L-88.4 -4.7L-89.2 -6L-90.6 -6L-91.8 -6.3L-92.6 -7.6L-93.9 -7.7L-95.3 -8.1L-96.6 -7.6L-97.9 -7L-99.2 -7L-100.5 -6.4L-101.5 -5.4L-102.3 -4.2L-103.2 -3.2L-103.1 -2.1L-103.4 -1L-103.9 -0M-90.5 -78.6L-89 -78.5L-87.5 -78.5L-86.1 -78.1L-85 -77.6L-84.1 -76.9L-82.9 -76.5L-83.9 -76.6L-84.3 -75.6L-85.7 -75.5L-86.6 -76.5L-87.8 -76.9L-89 -76.9L-89.9 -77.6ZM-80 -73.7L-78.6 -73.1L-77.1 -73.2L-75.6 -73L-74.3 -72.1L-72.7 -72.4L-71.2 -72L-70.2 -71.2L-70.4 -69.9L-71.6 -70L-72.7 -70.5L-73.9 -70.6L-74.8 -71.5L-75.9 -71.9L-77.2 -71.6L-78.2 -72L-79.2 -72.8ZM-101.8 -76.5L-100.7 -77.6L-99.2 -77.7L-98.1 -77.1L-96.9 -76.9L-97.6 -75.9L-98.7 -75.5L-99.9 -75.4L-101 -75.6ZM-125.4 -18.4L-124.5 -19.5L-122.9 -19.3L-121.9 -20.1L-120.9 -20.9L-119.5 -20.1L-118.8 -21.5L-117.5 -21.3L-116.4 -21L-115.5 -22.2L-114.4 -21.9L-113.6 -21.1L-114 -20.1L-115.5 -19.8L-116.6 -18.9L-115.4 -18.7L-114.4 -17.7L-113.2 -17.5L-112.5 -16.5L-112.6 -15.4L-113.4 -14.4L-114.9 -14.8L-115.8 -14L-117.3 -14L-118.8 -13.9L-120.1 -13.1L-121.3 -13.4L-122.5 -12.6L-123.6 -13.1L-124.4 -14.1L-125.4 -14.9L-124 -15.2L-122.8 -16.1L-123.7 -16.6L-124.5 -17.1L-124.5 -18.1ZM-102.7 -22.7L-101.3 -22.8L-100.1 -22.2L-99.5 -21.2L-98.5 -20.9L-97.4 -20.6L-98.3 -19.6L-99.9 -19.5L-100.9 -20.6L-102.3 -21.3ZM-91.9 -33.2L-91 -34L-90.5 -34.9L-90.2 -33.5L-89.2 -32.3L-88.5 -31.4L-88.6 -30.4L-88.7 -29.4L-89.7 -29.1L-90.5 -28.3L-91.3 -29.3L-91.3 -30.6L-91.1 -32ZM-82.2 -36.7L-81.8 -37.9L-81.8 -39.2L-80.9 -40.2L-80 -40.5L-79.1 -40.5L-78.9 -39.5L-78.4 -38.6L-78.2 -37.6L-77.5 -36.5L-76.5 -35.8L-76.3 -34.5L-77.4 -33.6L-77.4 -32.3L-77.9 -31.3L-78.8 -30.6L-78.7 -29.2L-78.2 -28L-79.2 -27.7L-80 -27.1L-80.4 -28.2L-80.7 -29.2L-80.5 -30.5L-81.2 -31.5L-80.9 -32.9L-81.4 -34.1L-81.9 -35.4ZM-66.5 -39.3L-65.8 -40.4L-64.8 -41.1L-63.5 -40.6L-63 -39.3L-61.8 -40.3L-61.6 -41.9L-61.2 -40.9L-60.2 -40.2L-60.8 -39.1L-60.4 -37.8L-60.8 -36.7L-61.5 -35.9L-62.5 -35.3L-62.5 -34.1L-63.5 -34.9L-64.8 -34.9L-65.3 -35.9L-66 -36.7L-66.5 -38ZM-15.9 -81.2L-14.8 -81.7L-13.6 -82.1L-12.4 -81.3L-11 -81.4L-11.8 -80.6L-12.7 -80L-13.8 -80.3L-14.8 -80.2ZM2.1 -74.6L0.7 -75.2L-0.5 -76L-2 -76.3L-3.6 -76.1L-4.9 -76.9L-6.2 -76.5L-7.2 -77.2L-8.2 -77.7L-9.3 -78.1L-10.3 -77.3L-11.5 -76.6L-12.2 -75.5L-12.2 -74.2L-10.6 -73.6L-10.7 -72.3L-9.8 -71.4L-8.8 -70.9L-7.9 -70.3L-6.6 -70.2L-5.5 -69.3L-4.1 -68.8L-3.1 -67.8L-2.3 -66.8L-1.3 -66.2L-0.1 -65.7L0.8 -64.8L2.1 -64.6M2.1 -59L0.8 -58.4L-0.4 -57.6L-1.9 -57.7L-1 -56.7L0 -55.9M-1.7 -83L-0.5 -83.3L0.2 -84.6L1.7 -84.7L2.6 -85.6L4.1 -85.5L5.2 -86.5L6.2 -87.4L7.6 -87.5L8.7 -88.2L10 -88.6L11 -89.4L12.2 -90L13.2 -90.9L14.4 -91.4L15.7 -91.7L16.4 -90.6L17.5 -90L18.5 -89.3L19.8 -89.4L21 -89.1L22 -89.9L23.4 -89.3L24.4 -90L25.5 -90.2L26 -91.4L27.1 -91.7L27.7 -92.5L28.7 -93.2L28.8 -94.3L29.8 -94.9L30 -96.1L30.6 -96.9L31.1 -97.8L31.8 -98.6L32.3 -99.6L32.9 -101L33.7 -102.1L34.9 -103.1L35.5 -104.2L36.9 -104.6L37.5 -105.7L38.6 -106.7L39.9 -107.4L41 -108.3L42.1 -109.3L43.4 -110L44.5 -110.9L45.3 -111.9L46.2 -112.6L47.5 -112.7L48.8 -113L49.2 -114.2L49.3 -112.8L49.5 -111.4L48.9 -110L48.4 -109L47.8 -108L48.3 -106.6L47.5 -105.7L46.9 -104.6L46.8 -103.4L46.2 -102.4L45.8 -101.3L45.6 -99.8L44.9 -98.7L43.7 -97.8L42.3 -97.4L41.6 -96.4L41 -95.2L39.9 -94.3L38.7 -93.5L37.5 -92.6L36.6 -91.5L35 -91.1L34.1 -90L32.9 -89.3L31.5 -89.3L30.6 -88.2L29.2 -87.9L28 -87.4L27.1 -86.5L25.9 -86.4L25.5 -85L24.4 -84.7L24.3 -83.3L23.1 -82.4L24.3 -82.5L25.3 -81.7L25.9 -82.8L26.7 -83.6L27.9 -83.8L29.1 -84.8L30.6 -84.7L31.1 -83.7L31.3 -82.5L32.3 -81.7L33.5 -81.6L34.5 -80.8L35.8 -81.2L37.3 -81.7L37.8 -83.4L39.3 -83.8L40.3 -84.6L40.9 -85.7L41.9 -86.5L43.1 -86.6L43.8 -85.3L45.1 -85.6L46 -84.9L46.4 -83.8L47.1 -83L47.9 -82.2L48.6 -81.3L49.8 -81.2L50.5 -80.5L51.6 -80.2L52.4 -79.5L53.6 -79L54.9 -78.7L55.9 -77.7L56.8 -76.6L57.9 -76L59.4 -76L60.8 -76.5L62.2 -76.9L63.7 -76.5L65.1 -77.1L66.6 -77.2L68.1 -77.2L69.6 -76.9L71.1 -77L72.5 -77.7L74 -77.6L75.3 -78.9L76.8 -78.6L77.6 -79.5L78 -80.6L78.2 -81.7L77.8 -82.7L77.6 -83.7L76.5 -84.2L75 -84.4L74.2 -85.6L73.2 -86.7L73 -88.2L72 -89.1L70.7 -89.4L70.1 -90.4L69 -90.5L69.5 -91.4L69.3 -92.5L69.8 -93.4L70.7 -94.6L71.5 -95.6L71.9 -96.9L72.3 -98.4L73.3 -99.4L74.2 -100.4L74.6 -101.3L75.4 -101.7L75.7 -100.6L75 -99.7L74.7 -98.7L74.7 -97.4L74.1 -96.2L73.3 -95.2L73.2 -93.8L72 -93L71.6 -91.7L72.9 -91.3L73.3 -90L74.4 -90.6L74.8 -92L76 -92.6L76.3 -93.8L77.9 -94L78.2 -95.2L78.8 -96.3L80 -96.9M-1.7 -65L-0.9 -63.9L0.2 -63.3L1.3 -62.7L2.6 -62.5L4 -62.5L5 -61.7L6.1 -61.1L7.5 -61.8L9.1 -61.5L10.3 -62L10.8 -63.2L11.4 -62.3L12.6 -62L11.8 -61L11.4 -59.7L12.7 -59.3L14 -58.7L15.2 -58.5L16.2 -57.6L17.5 -57.7L18.5 -57.1L19.5 -56.3L20.6 -55.9L21.7 -54.8L22 -53.3L23 -52.9L24 -52.5L24.4 -51.4L24.8 -50.3L25.6 -49.5L26.2 -48.6L26.9 -47.6L26.3 -46.3L27.1 -45.4L27.8 -44.2L27.9 -42.8L29.3 -42.3L30.6 -41.6L31.3 -42.6L32.4 -43L33.5 -43.3L34.8 -42.4L36.3 -42.3L37.3 -41.7L38.2 -41.2L38.8 -40.2L39.7 -39.5L40.8 -39L41.6 -38.1L41.9 -37L43.3 -36.9L43.7 -35.8L43.6 -34.3L44.7 -33.2L44.3 -31.8L43 -31.1L42 -30.3L41.8 -29.1L41.6 -28L42.4 -27L42.6 -25.6L43.1 -24.5L43.9 -23.5L44.5 -22.5L44.7 -21.3L45.6 -20.7L46 -19.8L46.5 -18.9L46.8 -17.6L47.6 -16.8L48.9 -16.4L48.8 -15.2L49.8 -14.3L48.7 -14L47.7 -14.4L46.8 -14.9L46 -15.9L44.4 -15.4L43.7 -16.4L42.4 -16.4L41.2 -15.7L40.4 -14.5L39.3 -13.6L38.3 -13L39.1 -11.5L38.1 -10.9L37.2 -10.3L37.1 -9.1L36.3 -8.4L35.6 -7.5L34.7 -6.9L33.5 -7L32.5 -6.8L31.9 -5.9L31.1 -5.3L30.6 -4.3L29.6 -3.8L28.8 -3.2L27.5 -2.5L27.1 -1.1L27 0.3L26.2 1.4M22.4 -39.3L23.4 -39.8L24.4 -40.5L25.7 -39.8L26.2 -38.4L26.9 -37.4L26.4 -36L27.1 -34.9L27.7 -33.9L29.1 -33.5L29.7 -32.3L30.3 -33.4L31.1 -33.9L32.3 -34.1L32.2 -35.3L31.7 -36.4L31.4 -37.6L31.9 -39L32.8 -40.2L31.8 -40.3L31.1 -41.1L30.5 -40L29.9 -38.8L29.7 -37.6L28.6 -37.5L27.9 -36.7L27.3 -35.6L27.1 -34.2L26.2 -33.2L24.8 -33.6L24.1 -34.9L23.9 -36.2L23.1 -37.1L23.1 -38.3ZM101.3 -36.3L102.3 -37.1L103.7 -36.4L104.8 -37L106.2 -37.1L107.6 -36.4L109.1 -36.7L110 -35.6L111.3 -35.4L112.7 -35.3L113.5 -34.1L114.4 -32.8L115.9 -32.4L117 -31.5L117.2 -30.2L118.4 -29.5L118.7 -28.3L117.6 -28.8L117.3 -30.2L116.1 -30.6L114.9 -31.3L113.5 -32L112.6 -33.2L111.5 -33.5L110.5 -34.2L109.1 -33.9L108.3 -34.9L107 -35.2L105.7 -35.3L104.4 -35.6L103.4 -35.9L102.2 -35.6ZM25.8 -108.3L25.9 -107.3L26.5 -106.5L26.4 -105.6L27.1 -104.8M-0.9 -58L-0.2 -57.2L0.9 -57.3L0.3 -56.3M-103.9 -0.4L-104 1.1L-104.9 2.5L-104.9 4L-105.2 5.1L-106.1 6.1L-105.7 7.5L-106.7 8.4L-107.6 9.1L-108.3 10.1L-108.3 11.4L-108.8 12.4L-109.7 13.2L-110.6 14.1L-111.4 15L-112.6 15.4L-113.5 16.4L-114.9 16.2L-116.3 16.3L-117.1 17.7L-118.4 18L-119.1 19.3L-120 20.4L-121.4 21.1L-120.4 21.7L-120.3 23L-119.3 23.6L-117.9 23.1L-116.6 23.4L-115.4 24.1L-114 23.9L-112.9 22.9L-111.4 22.9L-110.2 22L-108.7 22.5L-107.4 22.2L-106.5 22.8L-105.4 23.2L-104.4 23.7L-103.3 23.6L-102.6 22.4L-101.5 22.5L-100.3 22.5L-99.5 21.8L-98.7 21.1L-97.9 20.1L-96.9 19.7L-95.7 19.7L-94.5 19.3L-93.4 18.9L-92.2 18.5L-91.1 17.9L-90 17.3L-88.7 17.4L-87.8 17L-86.9 16.4L-85.7 16.6L-85.1 17.3L-84.3 18L-85.1 19.3L-84.5 21L-85.2 22.3L-85.7 23.4L-86.3 24.4L-86 25.8L-86.8 26.7L-87.6 27.6L-88.2 28.7L-88 30L-88.5 31.1L-89 32.3L-90.1 33.2L-90.3 34.6L-90.8 35.7L-91.1 36.9L-91.7 38L-90.9 39.1L-89.7 39.4L-88.5 39.6L-87.3 39.8L-86.1 40L-85 40.7L-85.2 41.9L-85.7 43L-86.1 44.2L-87.4 45L-88 46.3L-88.5 47.6L-89.8 48.2L-90.7 49.2L-91.3 50.4L-92.5 51.1L-92.5 52.7L-93.8 53.2L-94.4 54.4L-95.5 55.3L-95.5 56.7L-96.4 57.9L-95.9 59.5L-96.6 60.7L-96.8 62.1L-97.3 63.4L-97.4 64.8L-97.9 65.8L-98.6 66.7L-99.2 67.7L-100.7 67.6L-101.8 66.5L-103 66.1L-104.1 65.6L-105.3 65.1L-106.8 65.2L-108 64.6L-109.1 63.7M-99.7 69L-101 68.9L-101.8 69.6L-102.7 70.3L-103.7 69.5L-105 69.6L-106.2 69.5M-105.6 18.7L-104.7 19.2L-103.6 19L-103.2 20.2L-104.2 19.6L-105.3 20.1ZM-82.2 5.7L-80.8 5.3L-80 4L-78.4 4.2L-77.4 5.4L-76.3 4.4L-75.6 3.1L-74.4 3.1L-73.3 3.9L-72.1 4L-71.1 3.3L-69.8 3.1L-68.6 2.6L-67.7 3.6L-66.4 3.7L-65.1 4L-64.2 3.4L-63 3.4L-62 3.1L-61.5 4.3L-61.7 5.6L-60.8 6.6L-60.8 7.8L-61.1 9L-61.6 10.1L-61.5 11.3L-60.6 12.3L-60.8 13.6L-61.5 14.7L-62.5 15.7L-62.5 17.1L-62.2 18.3L-61.6 19.3L-61.6 20.6L-61.3 22L-61.1 23.5L-60.8 24.9L-60.9 26.3L-61.5 27.5L-62.5 28.4L-63 29.9L-64 30.9L-65.1 31.9L-65.9 32.9L-66.7 33.9L-67.8 34.6L-68.9 33.9L-69.5 32.8L-69.4 31.4L-68.3 30.5L-67.8 29.3L-67.8 27.9L-68.6 26.7L-69.6 27.2L-70.4 27.8L-71.2 28.4L-71.7 29.6L-71.5 30.9L-72.1 31.9L-73.2 32.6L-73.8 33.7L-74.7 34.6L-75.6 33.6L-76.5 32.8L-76.1 31.7L-75.9 30.5L-75.6 29.3L-76.4 28.6L-77.1 27.8L-77.4 26.7L-77.6 27.8L-78.5 28.4L-79.1 29.3L-78.7 30.4L-78.6 31.7L-78.2 32.8L-78.7 34.1L-80 34.6L-80.6 33.5L-80.3 32.1L-81.2 31.1L-81.3 29.6L-80.7 28.2L-80.5 26.7L-80.9 25.5L-81.6 24.5L-81.7 23.2L-80.6 22.3L-80.8 20.8L-80 19.7L-80.1 18.4L-81.2 17.5L-81.2 16.2L-80.9 15L-79.4 14.8L-79.1 13.6L-78.6 12.7L-78.4 11.5L-77.4 11L-78.3 10.5L-79.1 9.9L-80 9.2L-80.5 7.9L-81.9 7.2ZM-59 4.9L-58.4 3.7L-56.9 3.5L-56.4 2.2L-55.2 2.3L-54.2 1.2L-52.9 1.4L-51.9 1.8L-51.1 2.4L-50.3 3.1L-50.2 4.6L-49.9 6.1L-49.4 7.5L-50.3 8.4L-50.7 9.5L-50.7 10.8L-51.2 11.9L-52.3 12.5L-53.1 13.4L-53.8 14.5L-54.9 13.9L-56.1 13.9L-57.3 13.6L-57.4 12.4L-57.9 11.3L-58.1 10.1L-59 9.2L-59.5 7.8L-58.5 6.3ZM-66.9 15.3L-65.8 14.3L-64.3 14.5L-64 15.9L-63 17.1L-64.2 17.9L-65.1 18.8L-66.2 18.4L-67.2 18L-66.5 16.7ZM-30.6 70L-29.8 69.2L-29.2 68.3L-28.1 68.5L-27.1 69L-26.2 68.5L-25.8 67.6L-25.2 68.6L-23.9 69L-22.7 69.2L-21.5 69.1L-20.4 69.6L-19.4 70.3L-18.4 71.4L-17.5 72.4L-17.8 73.9L-18.3 75.2L-19.4 76.1L-20.1 77.3L-21.2 78.1L-22.5 78.4L-23.9 78.7L-25.3 78.7L-26.4 78.3L-27.6 78L-28.5 77.4L-29.2 76.6L-28.8 75.6L-28.1 74.9L-29 74L-30.2 73.8L-30.3 72.6L-31.3 71.7L-30.9 70.9ZM45.1 -0.4L45.9 0.6L47 1.3L47.5 2.6L48.5 3.4L49.5 4.2L49.9 5.4L50.2 6.5L50.5 7.5L51 8.5L52 7.5L53.4 7.5L54.1 8.9L55.5 9.6L55.2 10.9L54.5 12L55 13.4L56.2 14.1L54.8 14.4L53.8 15.5L52.5 15.3L51.8 16.6L50.6 16.6L49.6 17.3L48.5 18L49.6 18.8L51 18.7L52 17.7L53.1 17.4L54.5 17.6L55.8 17.8L57.2 17.8L58.5 18L59.6 18.8L60.9 18.9L62.2 18.8L63.3 19.1L64.4 19.8L65.7 19.4L66.6 19.8L67.5 20.3L68.5 20.8L68.9 22.1L69.8 23.2L68.9 23.9L67.8 24.4L66.6 24.2L65.7 23.5L64.6 23.2L63.4 23.2L62.4 22.2L61.1 22.5L59.8 22.6L58.7 23.2L59.5 24.3L60.4 25.3L61.5 25.9L61.6 27L60.2 27.4L58.7 27.4L57.8 28L56.8 28.3L55.9 28.8L54.8 29.8L53.8 30.9L52.5 31.6L52 33L52.7 33.9L53.8 33.7L54.8 33.1L55.9 32.6L56.6 33.5L57.3 34.4L56.6 35.7L56.2 37.2L55.2 38L55.5 39.3L54.8 40.3L54.3 41.3L53.4 42.1L53.3 43.3L53.1 44.5L52.4 45.4L51.7 46.3L50.4 46.4L49.8 47.6L49.3 46.6L48.3 46.2L47.5 45.6L46.8 46.4L45.8 46.3L46 47.4L47.1 48L47.9 48.9L48.6 49.7L49.8 50.1L50.4 51.6L51.9 52.2L51 53.2L51 54.6L50.5 55.6L50.2 56.7L49.2 57.4L48.9 58.5L48.1 59.3L47.5 60.2L48 61.6L48.5 63L47.7 64.1L46.5 64.4L45.3 64.2L44.7 63.1L43.7 62.7L42.7 62.2L41.5 62.1L40.5 61.6L39.8 60.6L38.7 60.6L37.7 60.4L38.4 59.4L39.5 59.4L40.5 59L41.5 59.4L42.6 58.9L43.7 59.2L44.7 59.4L45.7 58.4L46.8 59L46.9 57.6L47.5 56.4L47.3 55.3L46.4 54.7L45.8 53.9L44.9 53.3L43.6 53.4L42.8 52.5L41.3 52.4L39.9 52.1L38.4 52L37 52.4L35.5 51.9L34.1 52.2L32.6 51.9L31.2 51.1L29.7 51.5L28.5 51.6L27.4 52L26.2 52L25.6 53.1L24.7 53.9L23.6 54.3L22.4 55.1L22.2 56.6L21 57.3L20.7 58.7L19.9 59.8L18.9 60.7L18.4 61.9L17.5 62.9L17.5 64.2L17.1 65.4L16.6 66.5L16.8 67.7L17 69.3L16.7 70.8L15.7 72.1L15.1 73.5L15.4 75.1L14.8 76.5L14.2 77.5L14.2 78.9L13.6 80L13.2 81.2L12.3 82.1L11.4 82.9L11 84.2L9.4 84.5L9.1 85.7L8.6 86.7L8.4 87.8L7.9 88.7L7.7 89.9L7.7 91L7.3 92.2L8.3 93.1L7.8 94.7L8.7 95.7L9.3 96.6L9.7 97.8L10.8 98.3L12 99.1L13.1 100L14 99.5L14.4 98.4L15.4 97.9L15.6 96.8L17.2 96.8L17.5 95.7L17.8 97.2L18.9 98.3L19.3 99.4L18.8 100.7L19.6 101.8L19.8 103L20.9 103.8L21.3 104.9L22.4 105.9L23.6 106.7L25.2 106.5L26.2 105.3L26.8 104.4L27.8 103.9L27.9 102.7L27.9 101.4L28.4 100.3L28.8 99.2L28.8 97.9L27.9 96.9L27.9 95.7L27.4 94.3L27.8 92.7L27.1 91.3L26.8 89.9L26.9 88.3L26.2 86.9L25.7 85.5L25.5 84.1L25.8 82.6L25.9 81.1L25.9 79.6L26.5 78.2L27.5 77.3L27 75.9L27.7 75L27.9 73.8L28.1 72.5L29.1 71.5L29.7 70.3L30.5 69.5L31.4 69L32.2 70L32.8 71.2L33.4 72.4L33.3 73.6L32.8 74.7L32.1 75.9L32.3 77.4L31.8 78.7L32.3 79.8L32.6 81L32.5 82.2L33.4 83.1L34.2 84L34.6 85.2L35.7 85.3L36.1 86.5L37 86.9L38 86.4L39 85.9L40.2 86.1L41.4 85.6L42 84.2L43.3 84L43.9 83.1L45.2 83.2L45.8 82.2L46.2 81.1L47.2 80.7L48 80L49 79.3L49.2 78.2L48.2 79L48.2 80.4L47.1 81.2L46.4 82.2L45.2 82.8L44.5 84L43.7 84.7L42.5 84.6L41.9 85.7L40.9 86.8L39.5 87.3L38.1 87.7L37.5 89L37.1 90.2L36.7 91.3L37.7 90.8L38.8 91L39.9 91.5L41 92.2L41.8 93.4L41.6 94.8L40.3 95L39.3 95.7L38 95.5L37 94.8L36.1 95.8L36.1 97.1L35.8 98.3L36.3 99.4L36.7 100.5L36.7 101.8L37.2 103.2L38.1 104.4L37.2 105.6L35.8 106.1L34.6 105.4L33.2 105.6L31.7 105.7L30.6 104.9L29.7 106L28.8 107L27.9 107.6L27.2 108.4L26.2 108.8L24.7 109.2L23.6 110.2L22.2 110L21 109.6L20.5 108.7L19.9 107.8L19.2 107L18.7 105.9L18.5 104.7L18.3 103.5L17.4 102.4L17.5 100.9L17.1 102L16.1 102.7L15.3 103.8L15.4 105.3L16.2 106.5L16.6 107.9L17.3 109.2L18.3 110.2L18.4 111.4L17.5 112.3L16.4 112.9L15.4 113.7L14.3 114.4L13.1 114.9L12.3 115.6L11.8 116.6L10.8 117.1L10.2 118.6L8.7 119.2L7.9 120.5L6.6 121.3L6.1 122.3L5.5 123.2L4.4 123.6L3.3 124.6L2.6 125.9L1.9 127L0.9 127.6L0.1 128.6L-0.9 129.4M37 16.6L38 16L38.1 14.8L38.8 15.6L39.8 15.9L39.6 17.2L39.9 18.3L40.7 19.4L41.6 20.5L41.8 21.8L41.9 23.2L43 24.1L42.9 25.6L43.7 26.7L44.2 27.8L45.2 28.4L45.8 29.5L46.6 30L47.3 30.8L48.2 31.2L49.5 31.8L51 31.9L51.8 32.4L52 33.3L50.7 33.4L49.8 34.4L48.4 34L47.1 33.3L46.4 32.5L45.1 32.3L44.5 31.2L43.4 30.6L43.6 29L42.4 28.4L42.1 27.1L41.5 26L40.7 24.9L39.7 23.9L39.2 22.6L39.3 21.1L38.5 20.4L38.1 19.4L38.1 18.3L37.3 17.6ZM6.1 31.9L7.2 30.9L8.4 30.2L8.8 29.1L9.9 28.8L10.8 28.4L12 28.2L13.1 27.6L14 28.2L14.3 29.3L13.5 30.5L13.6 31.9L14.4 32.9L15.4 33.7L14.8 34.9L14.8 36.3L13.9 37.4L12.6 38L11.8 39L10.8 39.8L10.4 38.4L9.6 37.2L8.8 36.4L8.4 35.4L7.3 35.5L7 34.6L7 33.1ZM9.6 31.1L9.9 32.1L10.8 32.8L10.7 34L10.1 35.1M20.6 19.7L20.7 18.5L21.8 18L22.5 18.8L23.6 18.8L22.8 19.6L22.4 20.6L21.2 20.7ZM22.7 13.6L23.4 12.7L24.4 12.4L25.5 12.9L25.8 14.1L24.7 14.7L24.1 15.9L23.1 14.9ZM45.8 77.3L47 76.8L47.5 75.6L48.6 76.1L49.8 75.9L50.7 76.9L50.6 78.2L49.7 79.2L49.2 80.5L48 80.8L46.8 80.8L46.8 79.6L46.5 78.4ZM48 70.3L49.2 69.6L50.6 69.5L51.9 70L52.4 71.2L51.6 72.3L52 73.5L50.9 74.2L49.8 74.7L49.9 73.4L49.1 72.4L48.7 71.3ZM47.1 41.5L48.1 41.7L48.9 41L49.3 42L49.9 42.8L49.3 43.5L48.5 44.2L47.5 44.3L46.8 43.5L47.2 42.5ZM27.2 -3L28.2 -3.8L29.3 -4.4L30.3 -5.1L31.7 -5.6L32.1 -7.2L33.4 -7.7L34.8 -7.9L35.9 -8.6L37.1 -7.6L37.3 -6L36.2 -5.3L35.3 -4.5L34.7 -3.4L33.9 -2.4L32.6 -2L31.7 -1.3L30.5 -1.7L29.6 -1.1L28.6 -0.8L27.9 -1.9ZM20.2 19.3L20.3 18L20.6 16.8L21.6 15.8L22 14.6L22.6 13.4L23.3 12.3L24.3 11.8L25.4 12L25.5 13.5L25.1 15L24.8 16.5L23.7 17.6L23 18.5L22.6 19.6L22.4 20.7M48.8 -16.5L48.1 -15.6L47.1 -15L46 -14.7L45 -15.3L43.9 -15.8L42.9 -16.5L41.7 -16.4L41.4 -15.2L40.4 -14.7L40.2 -13.5L39 -12.6L39 -11.2L38.8 -10.1L37.8 -9.5L37.3 -8.6L38 -7.9L38.1 -6.6L39 -6L39.9 -5.4L40.6 -4.6L41.6 -4.3L42.7 -3.7L43 -2.4L43.9 -1.6L44.4 -0.5L45.1 0.4L45.7 1.5L45.9 2.7L46.5 3.7L47.4 4.5L48.5 5L49 6.1L49.5 7.1L50.3 7.9L51.2 8.6L51.6 9.7L52.7 10.3L53 11.3L53.3 12.3L52.6 13.5L51.3 14.1L50.1 14.6L49.2 15.5L50.2 15.6L51.3 15.5L52.1 16.2L53.2 15.6L54.4 15.3L55.6 15L56.6 15.7L57.7 16.4L58.2 17.6L59.4 17.7L60.3 18.2L60.9 19.3L61.8 20.4L63.1 20.6L64.3 20.7M-12.6 99.3L-12.2 98.3L-11.1 98.3L-9.8 98.6L-10.5 99.3L-10.7 100.2L-10.4 101.1L-9.4 101.1L-8.6 100.2L-8.1 99.3L-7.1 98.5L-5.9 98.6L-5 99.7L-5.4 100.6L-5.9 101.5L-5 101.6L-4.1 101.9L-3.4 102.7L-3.5 103.7L-4.1 104.3L-4.6 105L-4.8 106L-5.9 106.1L-5.6 107.1L-4.6 107.2L-4.1 108.2L-3.3 108.9L-3 110.1L-2.4 111.1L-2.5 112.4L-1.5 113.3L-1.1 114.5L-0.4 115.5L0.4 116.2L0.7 117.2L1.7 117.5L2.4 118.3L3.3 119.1L3.3 120.3L3.4 121.4L2.4 122L2.3 123L2.9 123.8L2.9 124.7L3.7 125.1L3.9 126.4L3.5 127.7L2.4 128.2L1.2 127.7L0 127.6L-1.1 128.1L-2.3 127.4L-3.8 128.1L-4.9 127.1L-6.3 127.3L-7.8 126.8L-9.2 126.9L-10.7 127.3L-11.6 126.4L-10.8 125.5L-9.8 125.1L-9.1 124.3L-8.1 124.2L-7.1 123.8L-6.8 122.9L-7.6 122.7L-8.2 122L-9.1 121.7L-9.8 121.1L-9.1 120.5L-8.5 119.8L-9.1 119.2L-9.4 118.3L-8.5 118.1L-8.2 117.2L-7.7 116.3L-6.8 115.9L-6.8 114.8L-5.9 114.2L-6.2 113.2L-6.8 112.4L-7.3 111.8L-8.1 111.5L-9.4 112.2L-9.4 111.2L-10.2 110.7L-9.8 109.9L-9.8 108.9L-9.8 107.8L-10.7 107.2L-9.8 106.5L-10 105.4L-10.6 104.6L-11.1 103.7L-10.9 102.8L-10.7 101.9L-11.6 101.9L-12 101.1L-12.5 100.3ZM-21.6 118.5L-20.9 117.9L-20.3 117.2L-20.6 116L-19.8 115L-19.2 114.3L-19 113.3L-18.9 112.2L-18.1 111.5L-17.3 110.6L-16.4 109.8L-15 109.9L-14.2 108.9L-13.2 108.6L-12.4 109.4L-11.3 109.6L-11.1 110.7L-10.8 111.7L-10.7 112.8L-10.5 114L-11.1 115L-11.8 116L-12 117.2L-12.4 118.5L-13.7 119L-15 119L-15.9 119.8L-17.1 119.7L-18.1 120.4L-19.2 120.2L-20.3 120.7L-21 120.3L-21.6 119.8ZM-48.4 -30.9L-47.4 -31.5L-46.2 -31.5L-45.2 -30.7L-44 -30.3L-43.2 -29.3L-42.5 -28.4L-41.8 -27.2L-41.2 -25.9L-41.3 -24.7L-41.9 -23.5L-42.7 -22.7L-43.7 -22L-44.8 -21.7L-45.6 -21L-46.1 -21.9L-47.2 -22.2L-47.1 -23.6L-48.1 -24.7L-48.7 -25.7L-48.7 -26.7L-48.7 -27.8L-48.7 -28.8L-48.4 -29.9ZM-61.1 -26.6L-59.9 -27.2L-58.6 -27.4L-57.2 -27.4L-56.1 -26.6L-54.8 -26L-54.3 -24.7L-53.4 -25.2L-52.4 -25.3L-51.4 -24.4L-50.5 -23.5L-50.5 -21.9L-49.3 -21L-50.1 -19.9L-49.9 -18.5L-51.1 -18.3L-51.8 -17.3L-53.2 -16.8L-53.7 -15.4L-55 -15.7L-56.1 -14.8L-57.4 -14.3L-58.6 -13.5L-59.8 -14.2L-61.1 -14.2L-62.4 -14.7L-63 -16L-62.3 -17.2L-62.1 -18.5L-62.2 -19.8L-62.6 -21L-62.4 -22.3L-61.7 -23.5L-61.4 -24.5L-60.7 -25.4ZM-44 -17.9L-42.9 -18.5L-41.9 -19.1L-40.6 -19.2L-39.4 -19.7L-38.6 -20.6L-37.5 -21L-36.7 -21.8L-35.7 -22.2L-35.4 -21L-34.4 -20.4L-34.1 -19L-35 -17.9L-33.8 -17.2L-33.2 -16L-33.7 -14.8L-33.8 -13.5L-34.7 -12.9L-35.7 -12.3L-36.9 -12.5L-37.5 -13.5L-38.5 -13.4L-39.4 -12.9L-40.4 -13.4L-41.2 -14.2L-42.1 -14.9L-43.1 -15.4L-43.6 -16.6ZM-43.1 -12.3L-41.9 -12.6L-40.6 -12.9L-39.7 -12.2L-38.8 -11.7L-37.5 -11.5L-36.3 -11L-34.9 -11.2L-33.8 -10.4L-32.6 -9.8L-31.9 -8.6L-32.7 -7.4L-32.5 -6.1L-33.5 -5.5L-34.4 -4.8L-35.6 -5L-36.3 -6.1L-37.4 -6.2L-38.1 -5.5L-39.2 -5.8L-40 -6.7L-41.2 -6.9L-41.9 -7.9L-42.6 -8.9L-43.5 -9.8L-43.6 -11.1ZM-45 -3.6L-43.7 -4.2L-42.5 -4.8L-41.3 -4.2L-40 -3.6L-38.8 -4.3L-37.5 -4.2L-36.3 -3.5L-35 -3L-33.9 -3.8L-32.5 -3.6L-31.3 -3L-30.1 -2.4L-28.9 -1.6L-27.6 -1.1L-26.4 -0.9L-25.9 0L-25.1 0.7L-23.9 1.2L-23.4 2.3L-22.6 3.2L-22.4 4.3L-21.4 4.9L-20.8 5.7L-20.4 7.1L-19.5 8.2L-20.1 9.4L-20.1 10.7L-21.2 10.8L-22 10.1L-22.6 8.9L-23.9 8.8L-25.2 8.8L-26.3 9.4L-27.6 9.2L-28.2 8.2L-29.3 7.5L-30.7 7.6L-31.9 8L-33.2 8.2L-34.3 7.9L-35 7L-36.1 6.1L-37.5 6.3L-38.7 5.6L-40 5.1L-41.1 4.2L-42.5 3.8L-43.5 3.3L-43.4 2L-44.3 1.4L-45.5 0.4L-45.6 -1.1L-45.6 -2.4ZM-57.4 1.4L-56.2 0.6L-54.9 0.1L-53.7 -0.3L-52.8 0.7L-51.8 0.7L-50.4 1L-49.3 2L-48.7 2.9L-48.7 4.2L-48.1 5.1L-48.2 6.3L-49 7.5L-48.7 8.8L-49.4 9.5L-50.3 10.2L-50.5 11.3L-51.5 12.2L-52.4 13.2L-53.2 12.3L-54.3 12.5L-54.5 11.4L-55.9 11.1L-56.1 10.1L-56.3 8.9L-57.2 8.1L-57.4 7L-57.2 5.9L-57.6 4.8L-58 3.8L-57.3 2.7ZM-66.7 -11L-65.7 -12.1L-64.2 -12.3L-62.9 -12.1L-61.7 -11.7L-60.6 -10.8L-59.2 -10.4L-58.7 -9.1L-57.4 -8.6L-58 -7.4L-58 -6.1L-58.6 -5L-59.9 -4.8L-61.1 -5.3L-62.3 -5.5L-63.8 -5.6L-64.8 -6.7L-65.5 -7.7L-66.3 -8.6L-66.1 -9.9ZM-56.1 -11.7L-55.1 -12.6L-53.7 -12.5L-52.6 -11.6L-51.2 -11.7L-50.4 -10.6L-49.3 -9.8L-48.4 -8.7L-48.1 -7.3L-48.1 -6L-48.9 -4.8L-50 -4.3L-51.2 -3.8L-52.1 -4.7L-53.4 -4.8L-54.2 -5.8L-55.1 -6.7L-56.2 -7.7L-56.4 -9.2L-56.9 -10.5ZM-68.6 -4.8L-67.4 -5.6L-66.1 -5.5L-65 -4.5L-63.6 -4.2L-62.4 -3.6L-61.7 -2.4L-61.5 -1.1L-61.1 0.1L-61.6 1.2L-62.6 2L-63.8 2.1L-64.8 2.6L-66 2.1L-67.1 1.4L-68.2 0.4L-68.6 -1.1L-68.1 -2.4L-68.5 -3.6ZM-48.1 -17.3L-47.1 -17.3L-46.2 -17.9L-45.9 -16.7L-45 -16L-45.8 -15.3L-45.6 -14.2L-46.4 -13.3L-47.4 -13.8L-47.9 -14.9L-48.3 -16ZM-47.4 -2.4L-46.8 -1.1L-46.2 0.1L-46.9 1.1L-47 2.1L-46.8 3.2L-46 4.1L-46 5.2L-46.2 6.3L-47.1 7.1L-47.2 8.2L-47.6 6.8L-48.4 5.7L-48.5 4.5L-48.2 3.2L-48.1 2L-48.7 1L-48 -0.2L-48.7 -1.1L-48.2 -1.8ZM-37.8 13.3L-36.4 12.9L-35.6 11.7L-34.6 11.3L-34.1 10.1L-32.9 10.1L-31.9 10.4L-31.3 11.1L-30 11.4L-29.1 12.2L-27.6 12.5L-26.3 11.7L-25 11.8L-23.6 11.7L-22 11.7L-20.9 12.8L-19.8 12.8L-19 13.5L-18.2 14.1L-16.8 14.6L-15.4 15.2L-14.6 15.7L-13.5 16L-12.7 16.6L-11.5 17.3L-10.5 18.2L-9.2 18.9L-8.9 20.4L-9.3 21.5L-9.4 22.6L-8.5 23L-7.8 23.7L-6.5 24.1L-6.2 25.3L-6.4 26.4L-6.7 27.5L-8 28.2L-8.3 29.7L-8.7 31.1L-10 31.9L-10.1 33.2L-11.1 34.1L-12.1 35L-12.7 36.3L-13 37.7L-13.8 39L-14.1 40.5L-14.9 41.7L-15.4 43.1L-16 44.4L-16.5 45.7L-17.6 46.6L-18.5 47.7L-19.2 48.8L-20.1 49.9L-20.9 51L-22.1 51.4L-22.5 52.6L-23.8 53L-24.2 54.3L-24.3 55.2L-25.2 55.3L-24.5 56L-23.6 56.4L-24.4 56.7L-24.7 57.5L-26.1 57.2L-27.4 57.8L-28.8 57.6L-30.2 58.1L-31.5 58.1L-32.9 58.4L-34.3 58.5L-35.6 58.8L-36.9 59.4L-38.3 59.7L-39.7 60.3L-41.1 60.3L-42.4 59.6L-43.8 59.7L-45 58.8L-46.5 58.8L-47.8 58.7L-48.7 59.7L-50.2 60L-51.4 60.8L-52.4 61.6L-53.6 61.9L-54.7 61.9L-55.6 62.6L-56.7 63L-57.3 64L-58.2 64.7L-59.2 65.3L-59.8 66.3L-60.7 66.8L-61.7 67.2L-62.5 67.9L-63.4 68.2L-64.6 67.8L-65 66.8L-65.5 65.9L-66.6 65.2L-67.3 64.1L-66.5 63.1L-66.9 61.9L-66.7 60.8L-66.5 59.7L-66.3 58.5L-65.6 57.5L-65.4 56.3L-64.7 55.3L-64 54.3L-63.9 53L-63.5 51.8L-62.4 51L-61.4 50.3L-61.3 49.1L-60.7 48.3L-60 47.3L-59.2 46.5L-58.5 45.5L-58 44.6L-57.4 43.8L-56.4 43.3L-55.6 42.1L-54.2 41.7L-53.2 40.9L-52 40.6L-51.3 39.6L-50.4 39L-50.7 38L-51.4 37.3L-50.8 36.6L-50.4 35.7L-49.1 36L-48.2 35.2L-47.8 34.2L-47.1 33.5L-45.9 33.1L-45.4 31.9L-44.6 31.2L-44.4 30L-43.3 29.7L-42.8 28.7L-41.7 28.3L-41.1 27.5L-39.7 26.8L-39.4 25.3L-39.1 24.3L-38 23.7L-37.8 22.6L-37.6 21.2L-37.3 19.9L-37.1 18.4L-37.8 17.2L-38.6 16.2L-38.3 15L-38.1 14.1Z"/><g fill="#000" stroke="none"><circle cx="-11.5" cy="-118.6" r="0.85"/><circle cx="-7" cy="-119.9" r="0.85"/><circle cx="-3.9" cy="-120.2" r="0.85"/><circle cx="14.5" cy="-116.1" r="0.85"/><circle cx="-114.6" cy="18.1" r="0.85"/><circle cx="-85" cy="11.8" r="0.85"/><circle cx="-8.3" cy="57.1" r="0.85"/><circle cx="22" cy="15.7" r="0.85"/><circle cx="31.8" cy="96.3" r="0.85"/><circle cx="-10.6" cy="86.3" r="0.85"/><circle cx="-2.3" cy="93.4" r="0.85"/><circle cx="-5.4" cy="96.7" r="0.85"/></g></g></g><circle cx="490.35" cy="245.25" r="127.15" fill="none" stroke="#111" stroke-width="0.9"/><g clip-path="url(#c3)"><rect x="232.8" y="526.4" width="256.3" height="256.3" fill="#F5E6BE"/><clipPath id="t9"><rect x="233" y="527" width="128" height="128"/></clipPath><g clip-path="url(#t9)"><rect x="233" y="527" width="128" height="128" fill="#F5E6BE"/><path d="M253.1 589C254 591.5 254.1 593.1 255.7 594.2C257.3 595.4 260.1 596.1 262.7 596C265.3 595.8 268.5 594.1 271.4 593.4C274.3 592.6 277.2 591.5 280.1 591.6C283.1 591.8 286.3 593.1 288.9 594.2C291.5 595.4 293.5 597 295.9 598.6C298.2 600.2 300.8 601.8 302.8 603.8C304.9 605.9 306.9 608.8 308.1 610.8C309.3 612.9 308.7 614.7 309.8 616.1C311 617.4 313.5 618.6 315.1 618.7C316.7 618.7 318.9 618 319.4 616.4C320 614.8 319 611.5 318.6 609.1C318.1 606.7 317.3 604.7 316.8 602.1C316.4 599.5 315.8 596.3 315.9 593.4C316.1 590.4 316.7 587.2 317.7 584.6C318.7 582 320.2 579.7 322.1 577.6C324 575.5 326.7 573.7 329 572.1C331.4 570.4 334.2 569.2 336 567.5C337.8 565.8 338.7 564 339.9 561.9C341 559.9 341.6 557.3 343 555.3C344.4 553.3 346.2 551.3 348.3 550.1C350.3 548.8 352.8 548.2 355.2 548C357.7 547.7 363.1 548.3 363.1 548.3L363.1 525.3L250.5 525.3C250.5 525.3 250 568.8 250.5 579.4C250.9 590 252.2 586.5 253.1 589Z" fill="#94BE30"/><path d="M275.8 568C276.5 567.4 278.3 566.8 279.3 567.2C280.2 567.5 281.4 569.2 281.5 570.3C281.7 571.4 281 573.2 280.1 573.8C279.3 574.4 277.5 574.3 276.7 573.8C275.8 573.3 275.1 572 274.9 571C274.8 570 275.1 568.7 275.8 568Z" fill="#F5E6BE"/><path d="M343 530.5C343.7 529.7 345.8 528.7 347.4 528.7C349 528.7 351.9 529.6 352.6 530.5C353.3 531.4 352.8 533.5 351.7 534.3C350.7 535.1 347.9 535.5 346.5 535.4C345.1 535.3 343.9 534.5 343.4 533.6C342.8 532.8 342.3 531.3 343 530.5Z" fill="#F5E6BE"/><path d="M310.7 544.5C311.4 542.7 313.2 540.5 315.1 539.2C317 537.9 319.7 537.2 322.1 536.6C324.4 536 327.4 535.1 329 535.7C330.6 536.3 331.8 538.6 331.7 540.1C331.5 541.6 329.3 542.9 328.2 544.5C327 546.1 325.4 547.8 324.7 549.7C324 551.6 324.8 554.5 323.8 555.8C322.8 557.1 320.3 557.7 318.6 557.6C316.8 557.4 314.6 556.2 313.3 554.9C312 553.6 311.1 551.4 310.7 549.7C310.3 548 310 546.2 310.7 544.5Z" fill="#BCEE68"/><path d="M296.7 577.6C297.8 576.3 299.2 574.4 301.1 573.3C303 572.1 305.9 570.9 308.1 570.7C310.3 570.4 312.7 570.5 314.2 571.5C315.7 572.5 316.7 574.9 316.8 576.8C317 578.7 315.9 581.1 315.1 582.9C314.2 584.6 312.3 585.6 311.6 587.2C310.9 588.8 311.6 591.3 310.7 592.5C309.8 593.6 307.7 594.5 306.3 594.2C305 593.9 303.6 592 302.8 590.7C302.1 589.4 303 587.2 302 586.4C301 585.5 297.9 586.4 296.7 585.5C295.6 584.6 295 582.4 295 581.1C295 579.8 295.7 579 296.7 577.6Z" fill="#BCEE68"/><path d="M349.1 557.6C349.9 556.5 351.5 556.1 353.5 555.8C355.5 555.5 359.4 555.7 361 555.8C362.6 556 363.1 556.7 363.1 556.7L363.1 564.5C363.1 564.5 358.9 565.2 357 565.4C355.1 565.6 353.1 566.3 351.7 565.8C350.3 565.2 349 563.3 348.6 561.9C348.2 560.6 348.3 558.6 349.1 557.6Z" fill="#DEB887"/><path d="M324.7 587.2C325.3 584.9 326.6 583.7 328.2 582.9C329.8 582.1 332.5 581.9 334.3 582.5C336 583.1 337.6 584.6 338.6 586.4C339.7 588.2 340.4 591 340.4 593.4C340.4 595.7 339.7 598.6 338.6 600.3C337.6 602.1 335.6 602.8 334.3 603.8C333 604.9 332 606.5 330.8 606.5C329.6 606.5 328.3 605.4 327.3 603.8C326.3 602.2 325.1 599.6 324.7 596.8C324.2 594.1 324.1 589.6 324.7 587.2Z" fill="#DEB887"/><path d="M257.4 617.8C257.7 616.6 260.4 616.1 261.8 615.2C263.3 614.3 264.9 613.9 266.2 612.6C267.5 611.3 268.5 609.1 269.7 607.3C270.8 605.6 271.7 603.5 273.2 602.1C274.6 600.6 276.7 599.1 278.4 598.6C280.1 598.1 282.5 598.4 283.6 598.9C284.8 599.5 285.7 600.8 285.4 602.1C285.1 603.3 283.4 605.1 281.9 606.5C280.4 607.8 278.1 608.6 276.7 609.9C275.2 611.3 274.2 612.9 273.2 614.3C272.1 615.8 271.7 617.4 270.5 618.7C269.4 620 267.9 621.5 266.2 622.2C264.4 622.8 261.5 623.4 260.1 622.7C258.6 622 257.2 619.1 257.4 617.8Z" fill="#DEB887"/><path d="M243.8 622.7C244.2 622 246 621.2 247 621.3C247.9 621.4 249.4 622.7 249.6 623.4C249.7 624.1 248.6 625.3 247.8 625.7C247.1 626 245.5 626.2 244.9 625.7C244.2 625.2 243.5 623.4 243.8 622.7Z" fill="#DEB887"/><path d="M342.1 647.5C342.6 645.3 344 644.5 345.6 643.6C347.2 642.8 349.7 642.3 351.7 642.3C353.8 642.2 356.3 642.5 357.9 643.1C359.4 643.7 360.1 643.4 361 645.7C361.9 648.1 363.1 657.1 363.1 657.1L343 657.1C343 657.1 341.7 649.7 342.1 647.5Z" fill="#DEB887"/><path d="M254 638.8C254.9 636.4 257.2 635.3 259.2 633.5C261.2 631.8 263.9 629.7 266.2 628.3C268.5 626.8 271 626.2 273.2 624.8C275.3 623.3 277.2 621.2 279.3 619.6C281.3 618 283.2 616.3 285.4 615.2C287.6 614 290 612.9 292.4 612.6C294.7 612.3 297.6 612.6 299.4 613.4C301.1 614.3 302.7 616.1 302.8 617.8C303 619.6 301.4 622 300.2 623.9C299.1 625.8 297.5 627.6 295.9 629.2C294.3 630.8 292.2 632.2 290.6 633.5C289 634.8 286.8 635.7 286.3 637C285.7 638.3 286.1 640.4 287.1 641.4C288.2 642.4 290.6 643.3 292.4 643.1C294.1 643 295.9 640.7 297.6 640.5C299.4 640.4 300.8 641.1 302.8 642.3C304.9 643.4 307.8 645.7 309.8 647.5C311.9 649.2 313.9 651.1 315.1 652.7C316.2 654.3 316.8 657.1 316.8 657.1L255.7 657.1C255.7 657.1 253.9 650.5 253.6 647.5C253.3 644.4 253 641.1 254 638.8Z" fill="#94BE30"/><path d="M313.5 657.1C313.5 657.1 313.4 654 314.2 653.1C315 652.2 317 652 318.6 651.9C320.2 651.7 322.2 651.7 323.8 652C325.4 652.3 327.3 652.8 328.2 653.6C329 654.4 329 657.1 329 657.1L313.5 657.1Z" fill="#94BE30"/><path d="M262.7 637.9C262.8 636.8 264.3 635.7 265.3 635.6C266.3 635.5 268.4 636.5 268.8 637.4C269.2 638.2 268.7 640.1 267.9 640.9C267.2 641.6 265.3 642.4 264.4 641.9C263.6 641.4 262.5 638.9 262.7 637.9Z" fill="#BCEE68"/><path d="M281.5 647.5C281.8 646.5 283.3 644.9 284.5 644.9C285.7 644.9 287.6 646.2 288.9 647.5C290.2 648.8 292.7 651.7 292.4 652.7C292.1 653.7 288.7 653.9 287.1 653.6C285.5 653.3 283.7 652 282.8 651C281.8 650 281.3 648.5 281.5 647.5Z" fill="#BCEE68"/><path d="M331.7 636.1C331.7 634.1 333.3 629.3 334.3 626.5C335.3 623.8 336 621.4 337.8 619.6C339.5 617.7 342.4 616.1 344.8 615.2C347.1 614.3 350.1 613.6 351.7 614.3C353.3 615 354.1 617.5 354.4 619.6C354.7 621.6 353.9 624.5 353.5 626.5C353.1 628.6 352.9 630.5 351.7 631.8C350.6 633.1 348.5 633.8 346.5 634.4C344.5 635 341.6 634.5 339.5 635.3C337.5 636 335.6 638.6 334.3 638.8C333 638.9 331.7 638.2 331.7 636.1Z" fill="#94BE30"/></g><clipPath id="t10"><rect x="361" y="527" width="128" height="128"/></clipPath><g clip-path="url(#t10)"><rect x="361" y="527" width="128" height="128" fill="#F5E6BE"/><path d="M359.3 525.3L359.3 548.8C359.3 548.8 364.2 548.5 366.2 548C368.3 547.4 369.7 545 371.5 545.3C373.2 545.6 375.1 549.8 376.7 549.7C378.3 549.6 379.9 546.5 381.1 544.5C382.2 542.4 383.4 539.7 383.7 537.5C384 535.3 383.7 533.1 382.8 531.4C382 529.6 379.5 528 378.5 527C377.4 526 376.7 525.3 376.7 525.3L359.3 525.3Z" fill="#94BE30"/><path d="M411.6 540.1C411.9 543.9 412.5 545.2 413.4 548C414.3 550.7 415.6 553.9 416.9 556.7C418.2 559.5 419.9 562.1 421.2 564.5C422.6 567 423.7 569.3 424.7 571.5C425.8 573.7 425.8 576.5 427.4 577.6C429 578.8 432.3 578.2 434.3 578.5C436.4 578.8 437.8 578.7 439.6 579.4C441.3 580.1 443.1 582.4 444.8 582.9C446.6 583.3 448.3 581.9 450.1 582C451.8 582.2 453.7 582.6 455.3 583.8C456.9 584.9 458.2 588.6 459.7 589C461.1 589.4 462.7 586.5 464 586.4C465.3 586.2 467.2 586.8 467.5 588.1C467.8 589.4 465.8 592.2 465.8 594.2C465.8 596.3 466.4 598.5 467.5 600.3C468.7 602.2 471.5 603.5 472.8 605.6C474.1 607.6 475.1 610.2 475.4 612.6C475.7 614.9 475.2 617.5 474.5 619.6C473.8 621.6 472.5 623 471 624.8C469.6 626.5 467.8 628.7 465.8 630C463.7 631.3 461.1 632.1 458.8 632.6C456.5 633.2 453.8 632.8 451.8 633.5C449.8 634.2 447.9 635.3 446.6 637C445.3 638.8 444.5 641.7 443.9 644C443.4 646.3 443.5 648.8 443.1 651C442.6 653.2 441.3 657.1 441.3 657.1L491.1 657.1L491.1 525.3L411.6 525.3C411.6 525.3 411.4 536.3 411.6 540.1Z" fill="#94BE30"/><path d="M419.5 544.5C419.9 543.3 422 543 423 543.6C424 544.2 425.5 546.5 425.6 548C425.8 549.4 424.7 551.9 423.9 552.3C423 552.8 421.1 551.9 420.4 550.6C419.6 549.3 419.1 545.6 419.5 544.5Z" fill="#BCEE68"/><path d="M472.8 633.5C473.2 632.1 474.9 629.9 476.3 630C477.6 630.2 479.6 632.8 480.6 634.4C481.6 636 482.8 638.5 482.4 639.6C481.9 640.8 479.5 641.5 478 641.4C476.5 641.2 474.5 640.1 473.6 638.8C472.8 637.5 472.3 635 472.8 633.5Z" fill="#BCEE68"/><path d="M451.8 651.9C453 650.3 456.5 648.9 458.8 647.5C461.1 646 463.9 643.9 465.8 643.1C467.7 642.4 469.3 642.4 470.1 643.1C471 643.9 471.5 645.9 471 647.5C470.6 649.1 468.4 651.1 467.5 652.7C466.6 654.3 465.8 657.1 465.8 657.1L451.8 657.1C451.8 657.1 450.6 653.5 451.8 651.9Z" fill="#BCEE68"/><path d="M395.1 553.2C395.3 552 397.2 550 398.5 548.8C399.9 547.7 402 546.2 402.9 546.2C403.8 546.2 404.1 547.7 403.8 548.8C403.5 550 402.3 552 401.2 553.2C400 554.4 397.8 555.8 396.8 555.8C395.8 555.8 394.8 554.4 395.1 553.2Z" fill="#94BE30"/><path d="M383.4 637.9C383.5 636.2 385.5 634.5 387.2 633.5C388.9 632.6 391.7 631.7 393.3 632.1C394.9 632.6 396.4 634.6 396.8 636.1C397.2 637.7 396.8 640 395.9 641.4C395.1 642.7 393.2 644 391.6 644.3C390 644.7 387.7 644.7 386.3 643.6C385 642.6 383.2 639.6 383.4 637.9Z" fill="#94BE30"/><path d="M411.6 598.6C412 597.8 413.6 596.7 414.3 596.8C415 597 415.8 598.5 415.8 599.5C415.8 600.4 414.9 602.1 414.3 602.4C413.6 602.8 412.4 602.4 412 601.7C411.6 601.1 411.3 599.4 411.6 598.6Z" fill="#94BE30"/><path d="M359.3 557.6C359.3 557.6 363 556.7 364.5 557C365.9 557.3 367.5 558.3 368 559.3C368.4 560.3 368 562.1 367.1 562.8C366.2 563.5 364.1 563.3 362.7 563.3C361.4 563.3 359.3 562.8 359.3 562.8L359.3 557.6Z" fill="#DEB887"/><path d="M395.1 568C395.3 566.9 396.9 565.1 398.5 563.7C400.1 562.2 403 560.2 404.7 559.3C406.3 558.4 407.8 558 408.5 558.4C409.2 558.9 409.5 560.6 409 561.9C408.5 563.2 406.8 565 405.5 566.3C404.2 567.6 402.6 569.1 401.2 569.8C399.7 570.5 397.8 570.9 396.8 570.7C395.8 570.4 394.8 569.2 395.1 568Z" fill="#DEB887"/><path d="M366.2 583.8C366.7 582.7 369.1 581.7 370.6 582C372.1 582.3 373.5 584.6 375 585.5C376.4 586.4 378 586.4 379.3 587.2C380.6 588.1 382.4 589.3 382.8 590.7C383.3 592.2 382.8 595.4 382 596C381.1 596.6 379.2 595.1 377.6 594.2C376 593.4 374 591.8 372.4 590.7C370.7 589.7 369 589.3 368 588.1C367 587 365.8 584.8 366.2 583.8Z" fill="#DEB887"/><path d="M371.8 602.1C372.1 600.1 373.9 598.7 375 598.6C376.1 598.5 377.6 599.8 378.5 601.2C379.3 602.7 379.2 605.4 380.2 607.3C381.2 609.2 383.3 610.8 384.6 612.6C385.9 614.3 387.6 615.9 388.1 617.8C388.5 619.7 388.1 622.6 387.2 623.9C386.3 625.2 384.3 625.8 382.8 625.7C381.4 625.5 379.8 624.4 378.5 623C377.2 621.7 375.8 619.8 375 617.8C374.1 615.8 373.7 613.4 373.2 610.8C372.7 608.2 371.5 604.1 371.8 602.1Z" fill="#DEB887"/><path d="M398.5 611.7C399.7 611 403.6 611.3 406.4 610.8C409.2 610.4 412.5 609.7 415.1 609.1C417.8 608.5 419.8 607.5 422.1 607.3C424.4 607.2 427.2 607.5 429.1 608.2C431 608.9 432.9 610.2 433.5 611.7C434.1 613.1 433.5 615.8 432.6 616.9C431.7 618.1 430 618.2 428.2 618.7C426.5 619.1 424 619 422.1 619.6C420.2 620.1 418.3 620.9 416.9 622.2C415.4 623.5 413.7 625.5 413.4 627.4C413.1 629.3 414.4 631.8 415.1 633.5C415.9 635.3 418 636.7 417.8 637.9C417.5 639.1 415 639.6 413.4 640.5C411.8 641.4 409.7 642.5 408.1 643.1C406.5 643.7 404.8 644.7 403.8 644C402.8 643.3 401.9 640.8 402 638.8C402.2 636.7 404.1 634.1 404.7 631.8C405.2 629.4 405.8 627 405.5 624.8C405.2 622.6 403.9 620.3 402.9 618.7C401.9 617.1 400.1 616.3 399.4 615.2C398.7 614 397.4 612.4 398.5 611.7Z" fill="#DEB887"/><path d="M444.8 615.2C445.1 613.9 446.3 611.6 447.4 610.8C448.6 610 450.8 609.7 451.8 610.5C452.8 611.2 453.6 613.7 453.6 615.2C453.6 616.7 452.7 618.6 451.8 619.6C450.9 620.5 449.3 621.1 448.3 620.9C447.3 620.8 446.3 619.6 445.7 618.7C445.1 617.7 444.5 616.5 444.8 615.2Z" fill="#DEB887"/><path d="M415.1 651.9C415.7 650.5 418.3 650 420.4 649.2C422.4 648.5 425.3 647.6 427.4 647.5C429.4 647.3 431.9 647.5 432.6 648.4C433.3 649.2 432.6 651.3 431.7 652.7C430.8 654.2 427.4 657.1 427.4 657.1L416.9 657.1C416.9 657.1 414.6 653.2 415.1 651.9Z" fill="#DEB887"/><path d="M419.5 585.5C419.8 584.9 421.5 584.3 422.1 584.6C422.7 584.9 423.3 586.6 423 587.2C422.7 587.9 421 588.8 420.4 588.5C419.8 588.2 419.2 586.1 419.5 585.5Z" fill="#DEB887"/><path d="M428.2 587.2C428.5 586.7 430.1 586.3 430.5 586.7C430.9 587.2 431.1 589.3 430.8 589.9C430.6 590.4 429.2 590.7 428.8 590.2C428.3 589.8 427.9 587.8 428.2 587.2Z" fill="#DEB887"/></g><clipPath id="t11"><rect x="233" y="655" width="128" height="128"/></clipPath><g clip-path="url(#t11)"><rect x="233" y="655" width="128" height="128" fill="#F5E6BE"/><path d="M255.7 653.3C255.7 653.3 255.7 660.2 256.6 662.9C257.4 665.5 261.1 667.1 260.9 669C260.8 670.9 257.4 672.5 255.7 674.2C254 676 252.4 676.8 250.5 679.4C248.5 682.1 245.3 686.7 243.8 689.9C242.4 693.1 241.4 695.7 241.7 698.7C242.1 701.6 244.6 704.8 246.1 707.4C247.6 710 249.2 712 250.5 714.4C251.8 716.7 252.5 719.6 254 721.4C255.4 723.1 257.2 724.3 259.2 724.8C261.2 725.4 264.7 723.7 266.2 724.8C267.6 726 266.8 729.5 267.9 731.8C269.1 734.2 271.4 736.8 273.2 738.8C274.9 740.9 276.4 742.9 278.4 744.1C280.4 745.2 283.1 744.9 285.4 745.8C287.7 746.7 290 747.6 292.4 749.3C294.7 751 298 753.7 299.4 756.3C300.7 758.9 299.1 763.1 300.2 765C301.4 766.9 304 767.6 306.3 767.6C308.7 767.6 312.7 766.9 314.2 765C315.7 763.1 314.3 758.8 315.1 756.3C315.8 753.8 317.4 751.9 318.6 750.2C319.7 748.4 322.3 746.8 322.1 745.8C321.8 744.8 318.9 743.6 316.8 744.1C314.8 744.5 311.9 747.7 309.8 748.4C307.8 749.2 305.9 749.2 304.6 748.4C303.3 747.7 301.8 745.8 302 744.1C302.1 742.3 304.3 740 305.5 737.9C306.6 735.9 307.5 733.1 309 731.8C310.4 730.5 312.6 729.8 314.2 730.1C315.8 730.4 317 732.1 318.6 733.6C320.2 735 321.8 737.5 323.8 738.8C325.8 740.1 327.9 740.9 330.8 741.4C333.7 742 338.1 742.7 341.3 742.3C344.5 741.9 348 740.6 350 738.8C352 737.1 352.9 734.5 353.5 731.8C354.1 729.2 353.2 726 353.5 723.1C353.8 720.2 354.8 717.3 355.2 714.4C355.7 711.5 355.2 708 356.1 705.6C357 703.3 359.6 702.4 360.5 700.4C361.3 698.4 361.3 693.4 361.3 693.4C361.3 693.4 358.3 689.3 357 689.1C355.7 688.8 354.9 691.8 353.5 691.7C352 691.5 349.7 689.3 348.3 688.2C346.8 687 346.2 685.1 344.8 684.7C343.3 684.2 340.7 684.7 339.5 685.6C338.4 686.4 338.9 688.8 337.8 689.9C336.6 691.1 334.1 692.5 332.5 692.5C330.9 692.5 329.2 691.2 328.2 689.9C327.2 688.6 326.4 686.4 326.4 684.7C326.4 682.9 327 680.9 328.2 679.4C329.3 678 333 677.3 333.4 676C333.8 674.6 331.7 673.3 330.8 671.6C329.9 669.8 328.4 667.4 328.2 665.5C327.9 663.6 329.3 662.3 329.4 660.2C329.5 658.2 328.7 653.3 328.7 653.3L255.7 653.3Z" fill="#94BE30"/><path d="M257.4 681.2C258.2 679.6 260.2 678 261.8 677.7C263.4 677.4 266 678.1 267.1 679.4C268.1 680.8 268.4 683.7 267.9 685.6C267.5 687.5 265.9 689.8 264.4 690.8C263 691.8 260.4 692.3 259.2 691.7C258 691.1 257.4 689.1 257.1 687.3C256.8 685.6 256.7 682.8 257.4 681.2Z" fill="#F5E6BE"/><path d="M253.1 702.1C253.8 700.5 255.6 699.2 257.4 698.7C259.3 698.1 262.2 698.2 264.4 698.7C266.6 699.1 268.9 701.1 270.5 701.3C272.1 701.4 272.6 699.7 274 699.5C275.5 699.3 277.7 699.3 279.3 700.1C280.9 700.8 283.1 702.4 283.6 703.9C284.2 705.4 283.8 707.9 282.8 709.1C281.7 710.4 279.1 711.4 277.5 711.2C275.9 711.1 274.5 708.6 273.2 708.3C271.9 707.9 270.4 708.1 269.7 709.1C268.9 710.2 270 713.4 268.8 714.4C267.6 715.4 264.7 715.4 262.7 715.2C260.6 715.1 258.2 714.7 256.6 713.5C255 712.3 253.7 710.2 253.1 708.3C252.5 706.4 252.4 703.7 253.1 702.1Z" fill="#F5E6BE"/><path d="M260.9 669C262 667.8 265.6 667.1 267.9 667.2C270.3 667.4 273.9 668.7 274.9 669.8C275.9 671 275.2 673.2 274 674.2C272.9 675.2 270 676 267.9 676C265.9 676 263 675.4 261.8 674.2C260.6 673 259.9 670.1 260.9 669Z" fill="#F5E6BE"/><path d="M293.2 679.4C293.5 677.8 297.2 676.8 299.4 676C301.5 675.1 303.7 675.5 306.3 674.2C309 672.9 312.5 669.4 315.1 668.1C317.7 666.8 320.3 665.9 322.1 666.4C323.8 666.8 325.3 668.8 325.6 670.7C325.8 672.6 324.7 675.4 323.8 677.7C322.9 680 321.2 682.2 320.3 684.7C319.4 687.2 318.7 690.1 318.6 692.5C318.4 695 318.3 697.8 319.4 699.5C320.6 701.3 323.4 703 325.6 703C327.7 703 330.2 700.3 332.5 699.5C334.9 698.8 337.2 698.8 339.5 698.7C341.8 698.5 344.2 698.5 346.5 698.7C348.8 698.8 351.9 698.4 353.5 699.5C355.1 700.7 356 703.5 356.1 705.6C356.3 707.8 355.1 710.4 354.4 712.6C353.6 714.8 353.1 717.1 351.7 718.7C350.4 720.3 348.3 721.4 346.5 722.2C344.8 723.1 341.7 723 341.3 724C340.8 725 343.9 726.9 343.9 728.3C343.9 729.8 342.9 731.8 341.3 732.7C339.7 733.6 336.2 733.9 334.3 733.6C332.4 733.3 331.1 732.1 329.9 731C328.8 729.8 328.6 727.6 327.3 726.6C326 725.6 324.1 725.6 322.1 724.8C320 724.1 317.1 723.1 315.1 722.2C313 721.4 311.9 719.9 309.8 719.6C307.8 719.3 304.9 720.6 302.8 720.5C300.8 720.3 299.2 719.6 297.6 718.7C296 717.9 294.6 716.8 293.2 715.2C291.9 713.6 290.2 711.3 289.8 709.1C289.3 707 289.8 704.2 290.6 702.1C291.5 700.1 293.7 698.7 295 696.9C296.3 695.2 298 693.6 298.5 691.7C298.9 689.8 298.5 687.6 297.6 685.6C296.7 683.5 293 681 293.2 679.4Z" fill="#BCEE68"/><path d="M297.3 707.4C297.4 705.8 299.2 703.4 300.2 702.1C301.3 700.9 302.7 699.9 303.7 700.1C304.7 700.2 305.6 701.9 306.3 703C307.1 704.1 306.8 706.1 308.1 706.5C309.4 707 312.2 705.7 314.2 705.6C316.2 705.6 318.4 705.7 320.3 706.2C322.2 706.6 324.4 707.3 325.6 708.3C326.7 709.2 327.6 710.9 327.3 711.8C327 712.6 325.3 713.4 323.8 713.5C322.3 713.6 320.3 712.9 318.6 712.6C316.8 712.3 314.9 711.6 313.3 711.8C311.7 711.9 310.6 713.2 309 713.5C307.4 713.8 305.3 713.8 303.7 713.5C302.1 713.2 300.4 712.8 299.4 711.8C298.3 710.7 297.1 709 297.3 707.4Z" fill="#20B2AA"/><path d="M322.9 718.7C322.8 717.1 324.2 715.4 325.6 714.4C326.9 713.4 328.9 712.9 330.8 712.6C332.7 712.4 335.6 712.4 336.9 713C338.2 713.6 338.6 714.9 338.6 716.1C338.6 717.4 337.9 719.5 336.9 720.5C335.9 721.5 333.7 721.4 332.5 722.2C331.4 723.1 330.9 725.4 329.9 725.7C328.9 726 327.6 725.1 326.4 724C325.3 722.8 323.1 720.3 322.9 718.7Z" fill="#20B2AA"/><path d="M330.8 726.6C331.4 725.4 333.6 724.3 335.2 724C336.8 723.7 339 724.1 340.4 724.8C341.8 725.6 343.2 727.1 343.4 728.3C343.5 729.6 342.5 731.4 341.3 732.2C340 733 337.6 733.4 336 733.2C334.4 733 332.5 732.1 331.7 731C330.8 729.9 330.2 727.8 330.8 726.6Z" fill="#94BE30"/><path d="M288 734.5C288.1 733.9 289.3 733.4 289.8 733.6C290.2 733.7 291.1 734.8 291 735.3C290.9 735.9 289.7 736.9 289.2 736.7C288.7 736.6 287.9 735 288 734.5Z" fill="#BCEE68"/><path d="M339.9 653.3C339.9 653.3 341 657.8 342.1 659.4C343.2 661 344.3 662 346.5 662.9C348.7 663.7 352.5 664.2 355.2 664.6C358 665 363.1 665.5 363.1 665.5L363.1 653.3L339.9 653.3Z" fill="#DEB887"/><path d="M334.6 672.5C334.6 671.2 336.1 669.8 337.8 669C339.5 668.2 342.4 667.4 344.8 667.6C347.1 667.7 350 668.9 351.7 669.8C353.5 670.8 355.2 672.2 355.2 673.3C355.2 674.5 353.5 676.1 351.7 676.8C350 677.6 347.1 677.7 344.8 677.7C342.4 677.7 339.5 677.7 337.8 676.8C336.1 676 334.6 673.8 334.6 672.5Z" fill="#DEB887"/><path d="M363.1 749.3C363.1 749.3 360.3 751 359.6 752.8C358.9 754.5 358.9 757.4 359.1 759.8C359.2 762.1 359.8 765.3 360.5 766.8C361.1 768.2 363.1 768.5 363.1 768.5L363.1 749.3Z" fill="#DEB887"/></g><clipPath id="t12"><rect x="361" y="655" width="128" height="128"/></clipPath><g clip-path="url(#t12)"><rect x="361" y="655" width="128" height="128" fill="#F5E6BE"/><path d="M379.3 662C379.9 660.5 381.1 658.3 382.8 657.6C384.6 656.9 387.8 657 389.8 657.6C391.9 658.2 393.7 659.4 395.1 661.1C396.4 662.9 396.9 666.4 398 668.1C399.2 669.8 401.9 670 402 671.6C402.1 673.2 399.6 675.5 398.5 677.7C397.5 679.9 396.7 682.6 395.9 684.7C395.2 686.7 394.8 689.9 394.2 689.9C393.6 689.9 393.6 687 392.4 684.7C391.3 682.4 388.9 678.3 387.2 676C385.4 673.6 383.3 672.3 382 670.7C380.6 669.1 379.8 667.8 379.3 666.4C378.9 664.9 378.8 663.4 379.3 662Z" fill="#DEB887"/><path d="M395.1 681.2C395.7 678.3 396.9 673.9 398.5 672.5C400.1 671 402.5 672.6 404.7 672.5C406.8 672.3 409.6 671.7 411.6 671.6C413.7 671.4 415.1 671.2 416.9 671.6C418.6 672 420.8 673.2 422.1 674.2C423.4 675.2 424 676.2 424.7 677.7C425.5 679.2 426.6 681 426.5 682.9C426.3 684.8 424.7 686.9 423.9 689.1C423 691.2 421.5 693.4 421.2 696C421 698.7 421.8 701.9 422.1 704.8C422.4 707.7 422.6 710.7 423 713.5C423.3 716.3 423.4 719.2 424.2 721.4C425 723.5 426.6 726.6 427.7 726.6C428.8 726.6 429.9 721.8 430.8 721.4C431.8 720.9 433.4 722.5 433.6 724C433.9 725.4 433.5 728.5 432.6 730.1C431.7 731.7 430 732.8 428.2 733.6C426.5 734.4 423.8 734.2 422.1 734.8C420.5 735.4 419.7 736.5 418.3 737.4C416.8 738.4 415.1 739.5 413.4 740.6C411.7 741.6 409.6 742.3 408.1 743.5C406.7 744.8 405.5 746.3 404.7 747.9C403.8 749.5 403 751.2 403.3 753.1C403.6 755.1 405.2 758 406.4 759.8C407.7 761.5 410.2 762.1 410.8 763.6C411.4 765.1 410.9 767.9 409.9 768.9C408.9 769.8 406.1 770.3 404.7 769.4C403.3 768.5 402.5 765.5 401.5 763.6C400.5 761.8 399.5 760.2 398.5 758.4C397.6 756.6 396.2 754.9 395.9 752.8C395.6 750.7 396.4 748.1 396.8 745.8C397.2 743.5 397.7 740.9 398.5 738.8C399.4 736.8 401 735.3 402 733.6C403.1 731.8 404.5 730.1 404.7 728.3C404.8 726.6 403.9 724.6 402.9 723.1C401.9 721.6 400 721.1 398.5 719.6C397.1 718.2 395.1 716.4 394.2 714.4C393.3 712.3 393.3 710 393.3 707.4C393.3 704.8 394 701.6 394.2 698.7C394.4 695.7 394.4 692.8 394.5 689.9C394.7 687 394.4 684.1 395.1 681.2Z" fill="#DEB887"/><path d="M413.4 659.4C414.4 657.6 416.9 653.3 416.9 653.3L430.8 653.3C430.8 653.3 430.8 656.7 430 658.5C429.2 660.2 427.2 662 426 663.7C424.7 665.5 423.4 667.5 422.5 669C421.5 670.4 421.6 672 420.4 672.5C419.2 672.9 416.6 672.2 415.1 671.6C413.7 671 412.4 670.3 411.6 669C410.9 667.7 410.5 665.3 410.8 663.7C411.1 662.1 412.4 661.1 413.4 659.4Z" fill="#DEB887"/><path d="M359.3 758C359.3 758 361.9 752.5 362.7 749.3C363.6 746.1 364.3 742.3 364.5 738.8C364.6 735.3 363.9 731.5 363.6 728.3C363.3 725.1 362.6 722.8 362.7 719.6C362.9 716.4 363.6 711.8 364.5 709.1C365.4 706.4 366.2 704.5 368 703.4C369.7 702.2 372.6 701.8 375 702.1C377.3 702.5 379.9 704.9 382 705.6C384 706.4 385.4 706.6 387.2 706.9C388.9 707.2 391 706.4 392.4 707.4C393.9 708.3 394.8 710.6 395.9 712.6C397.1 714.7 399.4 717.6 399.4 719.6C399.4 721.6 397.4 723.7 395.9 724.8C394.5 726 392.1 725.4 390.7 726.6C389.2 727.8 388.1 729.8 387.2 731.8C386.3 733.9 385.4 736.5 385.4 738.8C385.4 741.1 386 744.1 387.2 745.8C388.4 747.6 391 748.1 392.4 749.3C393.9 750.5 394.9 751.3 395.9 752.8C396.9 754.3 398.8 757.2 398.5 758.4C398.3 759.6 395.8 759.1 394.2 760.1C392.6 761.1 390.4 762.7 388.9 764.5C387.5 766.2 386.9 768.7 385.4 770.6C384 772.5 382.2 774.5 380.2 775.8C378.2 777.2 375.6 777.7 373.2 778.5C370.9 779.2 368.6 779.8 366.2 780.2C363.9 780.6 359.3 781.1 359.3 781.1L359.3 758Z" fill="#DEB887"/><path d="M387.2 724.8C388.9 723.2 393.3 722.2 395.9 722.2C398.5 722.2 401.5 723.2 402.9 724.8C404.4 726.5 404.8 729.8 404.7 731.8C404.5 733.9 403.1 735.3 402 737.1C401 738.8 399.4 740.3 398.5 742.3C397.7 744.3 396.8 746.7 396.8 749.3C396.8 751.9 399 756.1 398.5 758C398.1 759.9 395.8 760.4 394.2 760.6C392.6 760.9 390.4 761.1 388.9 759.8C387.5 758.5 386.2 755.7 385.4 752.8C384.7 749.9 384.6 745.8 384.6 742.3C384.6 738.8 385 734.7 385.4 731.8C385.9 728.9 385.4 726.5 387.2 724.8Z" fill="#DEB887"/><path d="M380.2 730.1C380.7 729 382.5 727.6 383.7 727.5C384.9 727.3 386.6 728.2 387.2 729.2C387.8 730.2 387.8 732.5 387.2 733.6C386.6 734.7 384.8 735.6 383.7 735.7C382.6 735.7 381.1 734.9 380.6 733.9C380 733 379.7 731.2 380.2 730.1Z" fill="#F5E6BE"/><path d="M390.7 712.6C391.5 711.8 394 711 395.9 710.9C397.8 710.7 400.6 711 402 711.8C403.5 712.5 404.8 714.1 404.7 715.2C404.5 716.4 402.8 718.2 401.2 718.7C399.6 719.3 396.7 719.2 395.1 718.7C393.4 718.3 391.8 717.1 391 716.1C390.3 715.1 389.9 713.5 390.7 712.6Z" fill="#F5E6BE"/><path d="M433.5 665.5C433.9 663.7 434.8 661.7 436.1 660.2C437.4 658.8 439.3 657.9 441.3 656.7C443.4 655.6 448.3 653.3 448.3 653.3L481.5 653.3C481.5 653.3 479.5 656.7 478 658.5C476.5 660.2 474.2 661.8 472.8 663.7C471.3 665.6 470.1 667.8 469.3 669.8C468.4 671.9 468.1 674.4 467.5 676C466.9 677.6 466.9 679.3 465.8 679.4C464.6 679.6 462.3 677.8 460.5 676.8C458.8 675.8 457.3 674.1 455.3 673.3C453.3 672.6 450.6 672.2 448.3 672.5C446 672.8 443.4 674.8 441.3 675.1C439.3 675.4 437.4 674.9 436.1 674.2C434.8 673.5 433.9 672.2 433.5 670.7C433 669.3 433 667.2 433.5 665.5Z" fill="#94BE30"/><path d="M451.8 653.3C451.8 653.3 452.4 656.7 453.6 658.5C454.7 660.2 457 663 458.8 663.7C460.5 664.5 462.6 663.7 464 662.9C465.5 662 466.5 660.1 467.5 658.5C468.5 656.9 470.1 653.3 470.1 653.3L451.8 653.3Z" fill="#BCEE68"/><path d="M459.7 699.5C460.2 697.6 462.1 697.2 464 696C465.9 694.9 468.7 693.7 471 692.5C473.3 691.4 476 690.1 478 689.1C480 688 481.1 687.5 483.2 686.4C485.4 685.4 491.1 682.9 491.1 682.9L491.1 728.3C491.1 728.3 470.1 729.5 465.8 728.3C461.4 727.2 465.5 723.7 464.9 721.4C464.3 719 463 716.7 462.3 714.4C461.6 712 461 709.9 460.5 707.4C460.1 704.9 459.1 701.4 459.7 699.5Z" fill="#94BE30"/><path d="M443.4 707.4C443.9 706.1 445.2 704.8 446.6 704.2C448 703.7 450.2 703.4 451.8 703.9C453.4 704.4 455.4 706.1 456.2 707.4C457 708.7 457.3 710.5 456.7 711.8C456.1 713 454.2 714.3 452.7 714.7C451.1 715.2 448.9 714.9 447.4 714.4C446 713.9 444.6 712.9 443.9 711.8C443.3 710.6 443 708.6 443.4 707.4Z" fill="#94BE30"/><path d="M430.5 692.5C430.7 692 432 691.6 432.6 692C433.2 692.5 433.4 694.3 434 695.2C434.6 696 436.1 696.3 436.4 696.9C436.7 697.6 436.4 698.8 435.7 699C435.1 699.2 433.4 698.9 432.6 698.3C431.8 697.7 431.5 696.5 431.2 695.5C430.8 694.6 430.3 693.1 430.5 692.5Z" fill="#94BE30"/><path d="M375 686.4C375.3 684.1 376.3 682.4 377.6 681.2C378.9 680 381.2 679.1 382.8 679.1C384.4 679.1 386.2 679.8 387.2 681.2C388.2 682.6 388.9 685.1 388.9 687.3C388.9 689.5 388.2 692.3 387.2 694.3C386.2 696.3 384.3 698.6 382.8 699.5C381.4 700.5 379.7 700.8 378.5 700.1C377.2 699.3 375.9 697.4 375.3 695.2C374.7 692.9 374.6 688.8 375 686.4Z" fill="#94BE30"/><path d="M366.2 656.7C366.5 656.1 367.6 655.9 368 656.4C368.3 656.9 368.6 659.2 368.3 659.9C368.1 660.5 366.9 660.8 366.6 660.2C366.2 659.7 366 657.4 366.2 656.7Z" fill="#94BE30"/><path d="M404.7 689.9C405.2 689.4 407.1 689.2 407.8 689.6C408.5 689.9 409.2 691.4 409 692C408.8 692.7 407.5 693.3 406.8 693.4C406 693.5 405 693.1 404.7 692.5C404.3 692 404.1 690.4 404.7 689.9Z" fill="#FFE400"/><path d="M406.1 726.6C406.4 725.8 407.9 724.8 409 724.5C410.1 724.2 411.7 724.3 412.5 724.8C413.3 725.4 414 727.2 413.7 728C413.4 728.8 411.9 729.5 410.8 729.7C409.6 729.9 407.5 729.7 406.8 729.2C406 728.7 405.7 727.4 406.1 726.6Z" fill="#FFE400"/><path d="M396.8 742C397.1 741 399.1 739.4 400.3 738.5C401.5 737.5 403.1 736.3 403.8 736.2C404.5 736.1 405 737.1 404.7 737.9C404.3 738.8 402.5 740.4 401.5 741.4C400.5 742.5 399.3 744.3 398.5 744.4C397.8 744.5 396.5 743 396.8 742Z" fill="#FFE400"/></g><path d="M361.3 656.5V781.6" stroke="#fff" stroke-opacity="0.45" stroke-width="0.6" fill="none"/><g transform="translate(361 654.5)" fill="none" stroke="#000" stroke-width="1.25" stroke-linejoin="round" stroke-linecap="round"><path d="M-105.3 -72.5L-104 -73.1L-103.8 -74.7L-102.7 -75.5L-101.8 -76.2L-101 -77L-99.7 -76.9L-98.6 -76.6L-98 -75.6L-96.5 -75.7L-95.2 -75.1L-93.7 -74.7L-92.2 -74.8L-91.1 -75.4L-89.9 -75.4L-88.7 -75.5L-87.5 -75.7L-86.4 -75.1L-85.2 -75.1L-84.3 -74.1L-83 -73.8L-81.7 -73.4L-80.4 -73.3L-79.5 -72.2L-78.2 -72L-77.1 -71L-75.6 -71.3L-74.6 -71L-73.4 -71.5L-72.5 -70.7L-71.1 -70.5L-69.8 -70.6L-68.6 -71.3L-67.5 -71.5L-66.3 -71.7L-65.1 -71.3L-63.7 -71.9L-62.2 -71.7L-60.8 -72L-59.5 -72.1L-58.5 -72.9L-57.3 -73L-56.4 -74.1L-55.3 -75L-53.9 -75.4L-52.6 -75.8L-51.4 -76.1L-50.4 -76.8L-49.4 -77.6L-48.8 -78.7L-47.8 -79.5L-47.3 -80.7L-47.4 -82.1L-47.5 -83.5L-46.8 -84.7L-46.3 -85.8L-46.1 -87L-45.1 -87.7L-44.6 -88.7L-44.7 -89.8L-44.2 -90.8L-44.6 -91.9L-45.1 -92.9L-43.9 -93.1L-42.8 -93.4L-41.9 -92.3L-41.6 -90.8L-41.8 -89.5L-41.5 -88.1L-42.4 -87L-43.4 -85.8L-43.4 -84.3L-43.8 -83L-44.1 -81.5L-43.1 -80.4L-42.6 -81.5L-41.4 -81.7L-40.9 -83L-40.4 -84.2L-40.3 -85.6L-40.3 -87.1L-40.3 -88.6L-39.5 -90L-39.6 -91.2L-39.3 -92.4L-38.6 -93.4L-37.8 -94.3L-38.1 -95.7L-37.2 -96.4L-36.3 -97.3L-36.1 -98.6L-35.4 -99.6L-34.7 -100.6L-34 -101.6L-33.4 -102.7L-32.5 -103.8L-31.6 -104.9L-30.9 -106.2L-29.9 -107.3L-29.2 -108.7L-28.1 -109.7L-27 -110.4L-26.5 -111.8L-25.3 -112.5L-24.3 -113L-23.5 -113.6L-22.9 -114.6L-21.8 -115.3L-22.6 -114.4L-22.7 -113.2L-23.3 -112.1L-24.5 -111.5L-25 -110.4L-26.3 -109.9L-26.6 -108.5L-27.4 -107.6L-28 -106.4L-29.1 -105.5L-29.9 -104.4L-31 -103.7L-30.9 -102.1L-32 -101.3L-32.1 -99.8L-33.3 -99L-34.1 -97.8L-34.8 -96.7L-35.5 -95.6L-35.8 -94.3L-36.3 -92.9L-37.2 -91.7L-36.2 -90.4L-34.6 -90.3L-33.7 -90.9L-32.5 -90.6L-31.6 -91.2L-30 -91.2L-28.8 -90.1L-27.6 -90L-26.9 -89.4L-26.4 -88.4L-25.9 -89.4L-24.7 -89.5L-23.9 -90.1L-22.7 -90.4L-21.5 -90.8L-20.8 -89.5L-21 -88L-22.1 -87.6L-22.3 -86.3L-23.2 -85.6L-23.4 -84.4L-24 -83.5L-25 -82.8L-25.6 -81.8L-26.1 -80.7L-25.8 -79.5L-24.8 -78.4L-24.6 -76.9L-23.1 -76.7L-22.2 -75.5L-20.8 -75.1L-19.4 -75.5L-18.4 -75.2L-18.1 -73.8L-16.9 -73.7L-16.6 -72.6L-16.5 -71.3L-16.1 -70.2L-16.5 -69.1L-17.7 -68.5L-18 -67.3L-19.4 -66.8L-20.8 -66.4L-19.9 -65.7L-19.8 -64.3L-18.7 -63.8L-17.5 -63.5L-17.1 -62.2L-16.1 -61.8L-15.8 -60.6L-16.8 -59.7L-16.9 -58.5L-17.8 -57.6L-19.1 -57.1L-19.7 -55.9L-20.6 -54.8L-22.1 -54.8L-23.2 -54.2L-24.3 -53.5L-25.8 -53.5L-26.7 -52.4L-28.1 -52.5L-29.1 -51.8L-30.2 -51.2L-31.2 -50.4L-32.4 -50L-33.7 -49.8L-34.8 -49.1L-36 -48.9L-37.2 -48.6L-38.3 -47.9L-39.4 -47.5L-40.7 -47.5L-42.1 -47.1L-43.1 -46.1L-44.1 -45L-44.7 -43.7L-44.9 -42.6L-46.1 -42.1L-45.9 -40.9L-46.2 -39.9L-47.2 -39.3L-47.7 -38.4L-48.2 -37.5L-49.6 -37.7L-50.1 -36.7L-51.2 -36.5L-51.6 -35.3L-52.6 -34.9L-53.7 -34.3L-54.7 -33.5L-55.4 -32.3L-56 -31.3L-56.8 -30.4L-57.8 -29.7L-58.6 -29L-59.8 -28.7L-60.2 -27.6L-60.8 -26.2L-62 -25.3L-62.7 -24.1L-63 -22.7L-63.8 -21.5L-64.3 -20.1L-64.5 -18.9L-64.9 -17.8L-65.1 -16.6L-66.2 -15.7L-66 -14.1L-66.9 -13.1L-68 -12L-68.3 -10.5L-67.6 -9.5L-67.7 -8.3L-66.9 -7.4L-65.7 -6.4L-64.3 -6.3L-63.1 -7.1L-61.6 -7L-60.1 -7.2L-59 -8.2L-58 -7L-56.4 -7L-55.2 -7.9L-53.8 -8.4L-52.2 -8.3L-51.2 -7L-51.3 -5.9L-52.8 -5.6L-52.9 -4.4L-53.7 -3.4L-55.2 -4.1L-56.1 -3.2L-57.1 -3L-58 -3.9L-59 -3.9L-60.1 -2.8L-61.6 -2.6L-62.5 -1.8L-63.8 -2L-64.8 -1.4L-66 -1.3L-66.8 -2L-67.8 -2.6L-69 -2.2L-69.5 -0.9L-70.6 -0.9L-71.6 -0.8L-72.5 -0L-73.3 -1.1L-74.8 -0.4L-75.6 -1.4L-76.8 -0.4L-78.2 -0L-79.3 -0.1L-80.3 0.3L-81.2 0.8L-82.5 0.3L-82.9 -1L-84.1 -1.7L-84.7 -2.8L-85.9 -3.5L-87.3 -4L-88.5 -4.7L-89.2 -6L-90.2 -7L-91.7 -6.6L-92.6 -7.7L-93.9 -7.7L-95.2 -7L-96.6 -7.3L-97.8 -6.7L-99.2 -7L-100.1 -6L-100.9 -4.8L-102.4 -4.3L-103.2 -3.2L-103 -2L-104 -1.1L-103.9 -0M-90.5 -78.6L-89 -78.4L-87.5 -78.8L-86.1 -78.1L-85 -77.7L-84 -77L-82.9 -76.5L-83.9 -76.5L-84.3 -75.6L-85.6 -75.9L-86.8 -76.1L-87.8 -76.9L-88.4 -77.9L-89.3 -78.4ZM-80 -73.7L-78.6 -73.2L-77 -73.5L-75.6 -73L-74.1 -73.1L-72.6 -72.6L-71.2 -72L-70.3 -71.1L-70.4 -69.9L-71.7 -69.5L-72.7 -70.4L-73.9 -70.6L-75 -70.8L-76 -71.3L-77.2 -71.4L-78.2 -72L-79.6 -72.4ZM-101.8 -76.5L-100.4 -76.9L-99.2 -77.7L-98.1 -77.1L-96.9 -76.9L-97.8 -76.2L-98.7 -75.5L-99.7 -75.9L-100.7 -76.4ZM-125.4 -18.4L-123.9 -18.4L-122.8 -19.1L-121.9 -20.1L-120.7 -20.1L-119.7 -20.8L-118.7 -21.3L-117.5 -21.3L-116.5 -21.6L-115.3 -21.1L-114.4 -21.9L-114.1 -21L-114 -20.1L-115.3 -19.4L-116.6 -18.9L-115.4 -18.5L-114.1 -18.4L-113.2 -17.5L-113.5 -16.3L-112.6 -15.4L-113.4 -14.3L-114.8 -14.6L-115.8 -14L-117.3 -14.2L-118.6 -13.1L-120.1 -13.1L-121.3 -13.3L-122.5 -13L-123.6 -13.1L-124.7 -13.8L-125.4 -14.9L-124.2 -15.8L-122.8 -16.1L-123.9 -16.2L-124.5 -17.1L-124.6 -18ZM-102.7 -22.7L-101.4 -22.1L-100.1 -22.2L-99.5 -21.2L-98 -21.7L-97.4 -20.6L-98.3 -19.6L-99.5 -20.3L-100.9 -20.6L-102 -21.5ZM-91.9 -33.2L-91 -34L-90.5 -34.9L-89.9 -33.6L-89.2 -32.3L-88.8 -31.4L-89.5 -30.2L-88.7 -29.4L-89.2 -28.3L-90.5 -28.3L-90.6 -29.6L-91.3 -30.6L-91.1 -32ZM-82.2 -36.7L-81.8 -37.9L-81.2 -39L-80.9 -40.2L-79.9 -39.7L-79.1 -40.5L-78.5 -39.6L-78.7 -38.5L-78.2 -37.6L-77.6 -36.5L-76.5 -35.8L-76.6 -34.6L-77.3 -33.6L-77.4 -32.3L-77.9 -31.4L-78.8 -30.6L-78.5 -29.3L-78.2 -28L-79.2 -27.7L-80 -27.1L-80.1 -28.2L-80.8 -29.2L-80.7 -30.4L-81.2 -31.5L-81.4 -32.8L-82.1 -34L-81.8 -35.4ZM-66.5 -39.3L-65.9 -40.4L-64.8 -41.1L-64.3 -39.8L-63 -39.3L-62.4 -40.6L-61.6 -41.9L-61.2 -40.9L-60.2 -40.2L-60.4 -39L-60.6 -37.9L-60.8 -36.7L-61 -35.6L-61.5 -34.7L-62.5 -34.1L-63.5 -35L-64.8 -34.9L-65.4 -35.8L-66 -36.7L-66.2 -38ZM-15.9 -81.2L-14.7 -81.6L-13.6 -82.1L-12.4 -81.4L-11 -81.4L-11.7 -80.4L-12.7 -80L-13.8 -79.7L-14.8 -80.2ZM2.1 -74.6L0.8 -75.4L-0.7 -75.4L-2 -76.1L-3.4 -76.8L-4.9 -76.9L-5.8 -77.7L-6.9 -77.9L-8.3 -77.2L-9.3 -78.1L-10.1 -77.1L-11.5 -76.7L-12.2 -75.5L-12.1 -74.2L-10.7 -73.6L-10.7 -72.3L-9.4 -72.2L-8.5 -71.6L-7.4 -71.2L-6.6 -70.2L-5.4 -69.6L-4.5 -68.3L-3.1 -67.8L-2.1 -67.1L-1 -66.6L0.3 -66.4L1.1 -65.4L2.1 -64.6M2.1 -59L0.5 -59.2L-0.7 -58.4L-1.9 -57.7L-0.9 -56.8L0 -55.9M-1.7 -83L-0.7 -83.6L0.6 -83.9L1.7 -84.6L2.6 -85.6L3.8 -86.5L5.2 -86.5L6.5 -86.8L7.5 -87.8L8.7 -88.2L9.9 -88.8L10.9 -89.7L12.2 -90L13.3 -90.7L14.5 -91.3L15.7 -91.7L16.7 -90.9L17.5 -90L18.8 -90.3L19.9 -89.8L21 -89.1L22.1 -89.3L23.1 -90.2L24.4 -90L25.1 -90.9L26.4 -90.9L27.1 -91.7L27.4 -92.7L28 -93.6L28.8 -94.3L29.1 -95.4L30.3 -95.8L30.6 -96.9L30.7 -98.1L31.9 -98.6L32.3 -99.6L33.6 -100.4L33.7 -102.1L34.9 -103.1L35.7 -104L36.9 -104.5L37.5 -105.7L38.8 -106.4L39.8 -107.6L41 -108.3L41.8 -109.6L43.3 -110.1L44.5 -110.9L45.4 -111.6L46.6 -111.8L47.5 -112.7L48.2 -113.6L49.2 -114.2L49.2 -112.8L48.8 -111.5L48.9 -110L48.2 -109.1L48.4 -107.8L48 -106.7L47.5 -105.7L47 -104.6L46.1 -103.7L46.6 -102.2L45.8 -101.3L44.5 -100.5L44.1 -99.1L43.7 -97.8L42.9 -96.8L41.8 -96.2L41 -95.2L40 -94.1L39 -93L37.5 -92.6L36.2 -92L35.3 -90.7L34.1 -90L32.9 -89.4L31.7 -88.8L30.6 -88.2L29.2 -88.1L28.1 -87.3L27.1 -86.5L26.5 -85.4L25.3 -85.4L24.4 -84.7L23.8 -83.6L23.1 -82.4L24.2 -82.1L25.3 -81.7L26.5 -82.1L27 -83.2L27.9 -83.8L29.2 -84.3L30.6 -84.7L30.7 -83.5L31.8 -82.8L32.3 -81.7L33.5 -81.6L34.6 -81.4L35.8 -81.2L37.2 -81.8L38.3 -82.8L39.3 -83.8L40.4 -84.5L40.9 -85.7L41.9 -86.5L43.1 -86.7L43.9 -85.7L45.1 -85.6L45.7 -84.7L46.2 -83.6L47.1 -83L47.8 -82.1L49.2 -82.2L49.8 -81.2L50.8 -80.9L51.8 -80.5L52.4 -79.5L53.4 -78.5L54.9 -78.8L55.9 -77.7L57.3 -77.6L58.1 -76.3L59.4 -76L60.8 -76.1L62.2 -76.9L63.7 -76.5L65.2 -76.5L66.7 -76.7L68.1 -77.2L69.6 -77.4L70.9 -78.1L72.5 -77.7L74 -77.8L75.4 -78.4L76.8 -78.6L77.4 -79.6L78.4 -80.4L78.2 -81.7L78 -82.8L77.5 -83.7L76.5 -84.2L75.1 -84.5L74.2 -85.6L73.4 -86.8L73 -88.2L71.9 -88.8L70.7 -89.4L69.5 -89.4L69 -90.5L69.9 -91.3L69.3 -92.5L69.8 -93.4L70.3 -94.8L71 -95.9L71.9 -96.9L72.4 -98.3L73.9 -99L74.2 -100.4L74.9 -101L75.4 -101.7L75.2 -100.7L75.1 -99.7L74.7 -98.7L74.8 -97.3L74 -96.3L73.3 -95.2L72.3 -94.2L71.8 -93L71.6 -91.7L72.1 -90.5L73.3 -90L74 -91.1L74.8 -92L76 -92.6L76.3 -93.8L77.5 -94.3L78.2 -95.2L79 -96.2L80 -96.9M-1.7 -65L-0.6 -64.4L0.4 -63.8L1.5 -63.1L2.6 -62.5L3.8 -62.2L4.8 -61.2L6.1 -61.1L7.6 -61.7L9.1 -61.5L10.3 -62L10.8 -63.2L11.7 -62.6L12.6 -62L12.5 -60.6L11.4 -59.7L12.7 -59.4L14 -58.7L15.1 -58.3L16.3 -58.1L17.5 -57.7L18.5 -57L19.7 -56.7L20.6 -55.9L21.6 -54.7L22 -53.3L22.6 -52.3L23.8 -52.2L24.4 -51.4L24.8 -50.3L25.3 -49.3L26.2 -48.6L26.4 -47.5L26.8 -46.5L27.1 -45.4L27 -43.9L27.9 -42.8L29.3 -42.3L30.6 -41.6L31.8 -41.7L32.2 -43.2L33.5 -43.3L35 -42.9L36.3 -42.3L37 -41.4L38.3 -41.3L38.8 -40.2L39.4 -39.1L41 -39.2L41.6 -38.1L42.2 -37.3L43.3 -36.9L43.7 -35.8L43.7 -34.3L44.7 -33.2L43.8 -32.2L43 -31.1L42.1 -30.2L42 -29L41.6 -28L41.9 -26.7L42.4 -25.5L43.1 -24.5L43.9 -23.5L44.5 -22.5L44.7 -21.3L44.9 -20.3L46.2 -20L46.5 -18.9L46.9 -17.7L48.3 -17.5L48.9 -16.4L49.8 -15.6L49.8 -14.3L48.7 -14L47.9 -15.1L46.8 -14.9L46 -15.9L44.7 -15.8L43.7 -16.4L42.4 -16.3L41.2 -15.7L40.5 -14.5L39.3 -13.6L38.4 -12.9L38.3 -11.9L38.1 -10.9L37.9 -9.8L37.4 -8.9L36.3 -8.4L35.3 -8.2L34.7 -6.9L33.5 -7L32.5 -6.8L32.1 -5.6L31.1 -5.3L30.6 -4.3L29.5 -3.9L28.8 -3.2L28.1 -2L27.1 -1.1L26.6 0.1L26.2 1.4M22.4 -39.3L23.2 -40.3L24.4 -40.5L24.9 -39.1L26.2 -38.4L26.7 -37.3L26.3 -36L27.1 -34.9L28.3 -34.4L28.5 -32.9L29.7 -32.3L30.9 -32.4L31.4 -33.6L32.3 -34.1L31.4 -35.1L31.6 -36.4L31.4 -37.6L32.3 -38.8L32.8 -40.2L31.8 -40.3L31.1 -41.1L30.6 -39.9L30.6 -38.5L29.7 -37.6L28.8 -37.1L27.9 -36.7L27.1 -35.7L26.9 -34.3L26.2 -33.2L25.3 -34.3L24.1 -34.9L23.2 -35.9L23.6 -37.3L22.3 -38ZM101.3 -36.3L102.6 -36L103.7 -36.2L104.8 -37L106.2 -36.4L107.7 -36.8L109.1 -36.7L110.4 -36.3L111.4 -35.6L112.2 -34.5L113.5 -34.1L114.7 -33.2L115.5 -31.9L117 -31.5L118 -30.7L118.2 -29.4L118.7 -28.3L118.2 -29.4L117.1 -29.9L116.1 -30.6L115 -31.5L113.5 -31.9L112.6 -33.2L111.4 -33.2L110.3 -33.8L109.5 -35L108.3 -34.9L107.1 -35.6L105.6 -35.1L104.4 -35.6L103.5 -36.4L102.2 -35.5ZM25.8 -108.3L26.1 -107.4L26.5 -106.5L26.2 -105.5L27.1 -104.8M-0.9 -58L0.1 -57.8L0.9 -57.3L0.3 -56.3M-103.9 -0.4L-104.8 0.9L-104.8 2.5L-104.9 4L-104.8 5.3L-105.6 6.3L-106.2 7.3L-106.7 8.4L-106.9 9.5L-108 10.2L-107.9 11.6L-108.8 12.4L-109.9 13L-110.4 14.3L-111.4 15L-112.4 15.9L-113.8 15.7L-114.9 16.2L-115.8 17.3L-117.3 17.3L-118.4 18L-119.7 18.8L-120.5 20L-121.4 21.1L-120.6 21.9L-119.5 22.3L-119.3 23.6L-118 23.7L-116.6 23.4L-115.4 24.1L-114 23.8L-112.9 22.8L-111.4 22.9L-110.1 22.7L-108.8 22.2L-107.4 22.2L-106.3 22.5L-105.5 23.4L-104.4 23.7L-103.6 22.9L-102.6 22.5L-101.5 22.5L-100.3 22.6L-99.7 21.4L-98.7 21.1L-97.5 21L-96.5 20.6L-95.7 19.7L-94.5 19.3L-93.5 18.5L-92.2 18.5L-91.2 17.6L-89.7 18.3L-88.7 17.4L-87.9 16.7L-86.7 16.9L-85.7 16.6L-85.1 17.3L-84.3 18L-84.1 19.5L-84.9 20.9L-85.2 22.3L-85.2 23.6L-86 24.5L-86.4 25.6L-86.8 26.7L-87.1 27.8L-87.3 29L-88 30L-88.5 31.1L-88.8 32.4L-89.3 33.6L-90.3 34.6L-90.4 35.8L-91.7 36.7L-91.7 38L-90.6 38.6L-89.8 39.5L-88.5 39.6L-87.2 39.4L-86.4 40.9L-85 40.7L-85.4 41.8L-86.1 42.9L-86.1 44.2L-87 45.3L-87.9 46.3L-88.5 47.6L-89.2 48.8L-90.6 49.3L-91.3 50.4L-91.8 51.7L-92.7 52.5L-93.8 53.2L-93.8 54.7L-94.8 55.6L-95.5 56.7L-95.9 58.1L-96 59.5L-96.6 60.7L-97.4 62L-96.6 63.5L-97.4 64.8L-98.1 65.7L-98.3 66.9L-99.2 67.7L-100.4 67L-101.8 66.5L-102.8 65.7L-104 65.3L-105.3 65.1L-106.8 65.2L-108 64.5L-109.1 63.7M-99.7 69L-100.8 69.3L-102 69.3L-102.7 70.3L-104 70.6L-105 69.6L-106.2 69.5M-105.6 18.7L-104.6 19.1L-103.6 19L-103.2 20.2L-104.2 19.7L-105.3 20.1ZM-82.2 5.7L-81.2 4.7L-80 4L-78.9 5L-77.4 5.4L-76.5 4.2L-75.6 3.1L-74.6 3.9L-73.1 3.1L-72.1 4L-70.7 4.1L-69.8 3L-68.6 2.6L-67.4 2.9L-66.1 3L-65.1 4L-64.2 3.4L-63 3.7L-62 3.1L-61.8 4.4L-60.7 5.3L-60.8 6.6L-60.9 7.8L-60.9 9.1L-61.6 10.1L-61 11.2L-60.7 12.3L-60.8 13.6L-61.2 14.9L-62.5 15.6L-62.5 17.1L-62.9 18.4L-62.3 19.5L-61.6 20.6L-61.3 22L-61.1 23.5L-60.8 24.9L-61.7 25.9L-62.4 27L-62.5 28.4L-63.7 29.4L-64.4 30.7L-65.1 31.9L-65.7 33.1L-67 33.6L-67.8 34.6L-68.3 33.4L-69.5 32.8L-68.6 31.8L-68.8 30.2L-67.8 29.3L-67.9 27.9L-68.6 26.7L-69.4 27.4L-70.1 28.2L-71.2 28.4L-72.1 29.5L-72 30.7L-72.1 31.9L-73.2 32.6L-73.5 34L-74.7 34.6L-75.3 33.4L-76.5 32.8L-75.6 31.8L-75.4 30.6L-75.6 29.3L-75.9 28.3L-76.4 27.3L-77.4 26.7L-78.3 27.3L-78.6 28.4L-79.1 29.3L-78.7 30.5L-78.9 31.7L-78.2 32.8L-79.4 33.4L-80 34.6L-79.9 33.2L-81 32.3L-81.2 31.1L-80.4 29.7L-80.7 28.2L-80.5 26.7L-80.4 25.3L-81.8 24.5L-81.7 23.2L-80.6 22.3L-80.2 21L-80 19.7L-80.7 18.7L-80.4 17.2L-81.2 16.2L-80.8 15.1L-80.1 14.2L-79.1 13.6L-78.6 12.7L-78.2 11.7L-77.4 11L-78.2 10.4L-78.8 9.4L-80 9.2L-80.5 7.9L-81.3 6.8ZM-59 4.9L-58.2 3.9L-57 3.4L-56.4 2.2L-55.1 2.3L-54 1.9L-52.9 1.4L-52.4 2.4L-51.4 2.9L-50.3 3.1L-49.9 4.6L-49.2 5.9L-49.4 7.5L-50 8.5L-50.7 9.5L-50.5 10.8L-51.2 11.9L-52.1 12.6L-53.2 13.3L-53.8 14.5L-54.9 13.8L-56.3 14.5L-57.3 13.6L-57.7 12.5L-58.7 11.6L-59.1 10.5L-59 9.2L-58.6 7.8L-59.1 6.3ZM-66.9 15.3L-65.5 15L-64.3 14.5L-63.6 15.8L-63 17.1L-64 18.1L-65.1 18.8L-66.3 18.7L-67.2 18L-67.2 16.6ZM-30.6 70L-29.5 69.4L-29.2 68.3L-28.2 68.8L-27.1 69L-26.7 68.1L-25.8 67.6L-24.6 67.8L-23.9 69L-22.7 68.7L-21.5 69.1L-20.6 70L-19.4 70.3L-18.4 71.3L-17.5 72.4L-18.1 73.8L-18.3 75.2L-19.5 76L-20.1 77.3L-21.1 78.3L-22.5 78.4L-24 78.3L-25.3 78.7L-26.6 79L-27.6 78L-28.1 77L-29.2 76.6L-29 75.6L-28.1 74.9L-29.3 74.6L-30.2 73.8L-30.2 72.5L-31.3 71.7L-31.1 70.8ZM45.1 -0.4L46.1 0.4L46.3 1.9L47.5 2.6L48.2 3.6L48.7 4.8L49.9 5.4L50.4 6.4L50.6 7.5L51 8.5L52.4 8.6L53.4 7.5L54.5 8.5L55.5 9.6L54.4 10.6L54.5 12L55.7 12.8L56.2 14.1L54.8 14.4L53.8 15.5L52.9 16.3L51.7 16.2L50.6 16.6L50 17.8L48.5 18L49.9 17.9L51 18.7L52.3 18.9L53.3 17.9L54.5 17.6L55.8 18.1L57.2 17.5L58.5 18L59.8 18.1L61.1 18L62.2 18.8L63.3 19.1L64.4 19.7L65.7 19.4L66.6 19.8L67.6 20.1L68.5 20.8L68.7 22.3L69.8 23.2L68.5 23.4L67.8 24.4L66.8 23.8L65.5 24.1L64.6 23.2L63.5 22.8L62.3 22.8L61.1 22.5L59.7 22.3L58.7 23.2L59.7 24.1L60.4 25.3L60.9 26.3L61.6 27L60.1 27L58.7 27.4L57.8 28L56.8 28.3L55.9 28.8L54.7 29.7L53.8 30.9L52.5 31.6L52 33L52.9 33.3L53.8 33.7L54.8 33L55.9 32.6L56.1 33.9L57.3 34.4L57.3 36L56.2 37.2L55.4 38L55.1 39.2L54.8 40.3L54.2 41.3L53.8 42.3L53.3 43.3L52.4 44.1L51.8 45L51.7 46.3L50.6 46.7L49.8 47.6L49.2 46.7L47.8 46.7L47.5 45.6L46.7 46.1L45.8 46.3L46.8 46.8L47.1 48L47.7 49.2L48.6 49.8L49.8 50.1L51.1 50.8L51.9 52.2L51.3 53.4L51 54.6L50.3 55.5L50.3 56.8L49.2 57.4L48.8 58.4L47.8 59.1L47.5 60.2L47.8 61.7L48.5 63L47.7 64L46.5 64.4L45.7 63.5L44.4 63.5L43.7 62.7L42.6 62.3L41.5 62.1L40.5 61.6L39.8 60.6L38.7 60.6L37.7 60.4L38.8 60.3L39.7 59.7L40.5 59L41.6 58.9L42.6 59.7L43.7 59.2L44.7 59.4L45.8 59.3L46.8 59L46.9 57.6L47.5 56.4L46.6 55.8L46.4 54.7L45.8 53.9L44.9 53.1L43.9 52.7L42.8 52.5L41.3 52.6L39.8 52.7L38.4 52L37 52.1L35.5 51.6L34.1 52.2L32.5 52.4L31.2 51.4L29.7 51.5L28.6 52.1L27.4 52.1L26.2 52L25.7 53.2L24.6 53.7L23.6 54.3L22.8 55.4L21.4 55.9L21 57.3L19.7 58.1L19.9 59.8L18.9 60.7L18.6 62L17.4 62.9L17.5 64.2L17.6 65.5L17.2 66.6L16.8 67.7L16.5 69.2L16.6 70.8L15.7 72.1L15.7 73.6L15.3 75L14.8 76.5L14.6 77.7L13.5 78.6L13.6 80L13.1 81.1L12.4 82.2L11.4 82.9L10.2 83.5L9.9 84.8L9.1 85.7L8.3 86.5L8.1 87.6L7.9 88.7L7.3 89.8L7.7 91L7.3 92.2L8.2 93.2L8 94.6L8.7 95.7L9.5 96.5L10.1 97.5L10.8 98.3L11.8 99.3L13.1 100L14.1 99.6L14.4 98.4L15.4 97.9L15.9 97.1L17.2 96.8L17.5 95.7L18.1 97L18.9 98.3L19.4 99.4L19.2 100.7L19.6 101.8L20.4 102.7L20.4 104L21.3 104.9L22.8 105.3L23.6 106.7L25.1 106.3L26.2 105.3L26.8 104.4L27.2 103.4L27.9 102.7L28.8 101.6L28.2 100.3L28.8 99.2L28.2 98.1L27.7 97L27.9 95.7L27.7 94.2L27.7 92.7L27.1 91.3L27 89.8L26.4 88.4L26.2 86.9L26.5 85.5L25.5 84.1L25.8 82.6L25.8 81.1L26.5 79.7L26.5 78.2L27.5 77.3L27.4 76.1L27.8 75L27.9 73.8L28.8 72.8L29 71.5L29.7 70.3L30.9 70.1L31.4 69L31.9 70.3L32.8 71.2L33 72.4L33 73.6L32.8 74.7L32.1 76L32.3 77.4L31.8 78.7L32.4 79.8L31.8 81.2L32.5 82.2L33.1 83.2L33.9 84.2L34.6 85.2L35.3 86L35.9 86.8L37 86.9L37.9 86.2L39.1 86.2L40.2 86.1L40.9 84.9L42.2 84.6L43.3 84L44.1 83.4L45.2 83.2L45.8 82.2L46.7 81.6L47.3 80.8L48 80L48.5 79L49.2 78.2L48.5 79.1L48.1 80.4L47.1 81.2L45.9 81.8L45.1 82.8L44.5 84L43.4 84.2L43 85.5L41.9 85.7L40.6 86.3L39.5 87.3L38.3 87.9L37.5 89L37.1 90.2L36.7 91.3L37.8 91.6L38.8 91L39.7 92L41 92.2L41 93.5L41.6 94.8L40.3 94.8L39.3 95.7L38.2 95.1L37 94.8L36.1 95.8L36.7 97.3L35.8 98.3L35.8 99.5L36.1 100.7L36.7 101.8L37.2 103.2L38.1 104.4L37.1 105.5L35.8 106.1L34.4 106.4L33.2 105.6L31.9 105.1L30.6 104.9L29.4 105.7L28.8 107L28.1 107.8L27.3 108.5L26.2 108.8L25.1 109.8L23.6 110.2L22.2 110.4L21 109.6L20.6 108.6L20.3 107.6L19.2 107L19.3 105.8L18.4 104.7L18.3 103.5L18.1 102.1L17.5 100.9L17.2 102.1L16.1 102.7L15.3 103.9L15.4 105.3L16.2 106.5L16.6 107.9L18 108.6L18.3 110.2L17.7 111.1L17.5 112.3L16.7 113.3L15.4 113.7L14.4 114.5L13.1 114.9L12.7 116L11.6 116.4L10.8 117.1L9.7 118.1L8.7 119.2L7.4 120L6.6 121.3L6.3 122.5L4.8 122.6L4.4 123.6L3.9 125.1L2.6 125.9L2 127L0.9 127.6L-0.1 128.4L-0.9 129.4M37 16.6L37.4 15.6L38.1 14.8L39.1 15.2L39.8 15.9L40 17.1L40.8 18.1L40.7 19.4L40.7 20.8L41.9 21.8L41.9 23.2L42.1 24.6L42.7 25.7L43.7 26.7L44.3 27.7L45.5 28.2L45.8 29.5L46.4 30.4L47.7 30.2L48.2 31.2L49.6 31.6L51 31.9L51.6 32.6L52 33.3L51.1 34.4L49.8 34.4L48.5 33.7L47.1 33.3L46.5 32.4L45.5 31.8L44.5 31.2L43.7 30.4L43.1 29.4L42.4 28.4L42 27.2L41 26.3L40.7 24.9L40.7 23.5L40.4 22.2L39.3 21.1L39.2 20L39 19L38.1 18.3L37.4 17.6ZM6.1 31.9L7.6 31.6L8.4 30.2L8.9 29.2L10 29L10.8 28.4L11.8 27.6L13.1 27.6L13.8 28.4L14.3 29.3L13.7 30.6L13.6 31.9L14.3 33L15.4 33.7L15.2 35L14.8 36.3L13.8 37.3L12.6 38L12 39.2L10.8 39.8L10.1 38.5L9.6 37.2L8.8 36.5L8.4 35.4L7.5 35.3L7 34.6L6.8 33.1ZM9.6 31.1L10.2 31.9L10.8 32.8L10.6 34L10.1 35.1M20.6 19.7L20.9 18.6L21.8 18L22.6 18.6L23.6 18.8L23.3 19.9L22.4 20.6L21.3 20.4ZM22.7 13.6L23.6 13L24.4 12.4L24.9 13.4L25.8 14.1L24.5 14.6L24.1 15.9L23.7 14.6ZM45.8 77.3L47 76.9L47.5 75.6L48.6 76.3L49.8 75.9L49.9 77.2L50.6 78.2L49.7 79.2L49.2 80.5L48.1 81.2L46.8 80.8L46.1 79.8L45.5 78.7ZM48 70.3L49.5 70.4L50.6 69.5L51.3 70.6L52.4 71.2L52 72.3L52 73.5L51 74.4L49.8 74.7L49.2 73.7L48.5 72.7L48.6 71.4ZM47.1 41.5L48.2 41.9L48.9 41L49.6 41.8L49.9 42.8L49.7 43.9L48.5 44.2L47.5 44.2L46.8 43.5L46.8 42.5ZM27.2 -3L28.5 -3.3L29.5 -4.1L30.3 -5.1L31.3 -6L32.1 -7.3L33.4 -7.7L34.5 -8.7L35.9 -8.6L37 -7.5L37.3 -6L36.2 -5.4L35.6 -4.2L34.7 -3.4L33.3 -3.2L32.4 -2.4L31.7 -1.3L30.6 -1.5L29.6 -0.9L28.6 -0.8L28.2 -2.1ZM20.2 19.3L20.2 18L20.6 16.8L21.6 15.8L22.2 14.7L22.7 13.5L23.3 12.3L24.3 11.8L25.4 12L25.6 13.5L25.1 15L24.9 16.6L23.7 17.6L22.8 18.4L22.6 19.6L22.4 20.7M48.8 -16.5L47.6 -16.4L46.6 -15.8L46 -14.7L44.9 -15.2L44.1 -16.2L42.9 -16.5L42.1 -15.8L41 -15.6L40.4 -14.7L39.5 -13.7L39.9 -12.2L39 -11.2L39 -10L38.2 -9.3L37.3 -8.6L37.8 -7.7L38.6 -7L39 -6L40.3 -5.9L40.5 -4.5L41.6 -4.3L42.1 -3.1L43.2 -2.5L43.9 -1.6L45 -0.9L44.6 0.7L45.7 1.5L46.2 2.5L47.3 3.2L47.4 4.5L48.3 5.2L48.7 6.3L49.5 7.1L49.8 8.3L50.9 8.8L51.6 9.7L52 10.7L53.1 11.2L53.3 12.3L52.5 13.5L51.3 14.1L49.9 14.3L49.2 15.5L50.2 15.6L51.3 15.4L52.1 16.2L53.3 15.9L54.3 14.9L55.6 15L56.8 15.6L57.4 16.7L58.2 17.6L59 18.2L59.9 18.9L60.9 19.3L61.9 20L63.2 20.2L64.3 20.7M-12.6 99.3L-12.2 98.3L-11.1 98.3L-9.8 98.6L-10.5 99.3L-10.7 100.2L-9.7 100.1L-9.4 101.1L-8.7 100.2L-8.1 99.3L-7 98.8L-5.9 98.6L-5 99.7L-5.6 100.5L-5.9 101.5L-5.1 102L-4.1 101.9L-3.5 102.7L-3.5 103.7L-4.2 104.2L-4.6 105L-5.4 105.4L-5.9 106.1L-5.2 106.6L-4.6 107.2L-3.5 107.8L-3.3 108.9L-3.3 110.2L-2.4 111.1L-2.1 112.2L-1.5 113.3L-0.4 114.1L-0.4 115.5L0.4 116.2L0.7 117.2L1.2 118.3L2.4 118.3L3.2 119.2L3.3 120.3L3 121.2L2.4 122L2.3 123L2.9 123.8L2.9 124.6L3.7 125.1L3.4 126.4L3.5 127.7L2.3 127.5L1.3 128.5L0.1 128.5L-1.1 128.1L-2.3 127.3L-3.6 127.3L-5.1 128.1L-6.3 127.3L-7.8 127.8L-9.2 127.6L-10.7 127.3L-11.6 126.4L-10.3 126.2L-9.8 125.1L-9.1 124.3L-8.1 124.2L-7.2 123.7L-6.8 122.9L-7.2 122L-8.2 122L-8.9 121.4L-9.8 121.1L-8.8 120.9L-8.5 119.8L-9.2 119.2L-9.4 118.3L-9.1 117.5L-8.2 117.2L-7.9 116.1L-6.8 115.9L-6 115.2L-5.9 114.2L-6.8 113.5L-6.8 112.4L-7.1 111.5L-8.1 111.5L-9.4 112.2L-9.6 111.3L-10.2 110.7L-10.4 109.7L-9.8 108.9L-9.9 107.9L-10.7 107.2L-10.7 106.1L-10 105.4L-10.5 104.5L-11.1 103.7L-11.4 102.7L-10.7 101.9L-11.1 101.2L-12 101.1L-11.8 100ZM-21.6 118.5L-20.6 118.2L-20.3 117.2L-20.7 116L-19.8 115L-19 114.4L-19 113.3L-18.5 112.4L-18.1 111.5L-16.9 111L-16.4 109.8L-15.3 109.4L-14.2 108.9L-13.3 109.3L-12.4 109.4L-11.9 110.1L-11.1 110.7L-11.3 111.8L-10.7 112.8L-10.4 114L-11.1 115L-11 116.3L-12 117.2L-12.9 118L-13.7 119L-14.7 119.6L-15.9 119.8L-17 120.3L-18.1 120.4L-19.1 121.2L-20.3 120.7L-20.8 120L-21.6 119.8ZM-48.4 -30.9L-47.5 -31.8L-46.2 -31.5L-45.3 -30.5L-44 -30.3L-43.5 -29.1L-42.5 -28.4L-41.8 -27.2L-41.2 -25.9L-41.1 -24.6L-41.9 -23.5L-42.9 -22.9L-43.7 -22L-44.5 -21.1L-45.6 -21L-46.4 -21.5L-47.2 -22.2L-48.1 -23.3L-48.1 -24.7L-47.7 -25.9L-48.4 -26.8L-48.7 -27.8L-48.8 -28.9L-49 -29.9ZM-61.1 -26.6L-59.8 -26.7L-58.6 -27.4L-57.5 -26.6L-56.1 -26.6L-55.5 -25.3L-54.3 -24.7L-53.5 -25.5L-52.4 -25.3L-51.4 -24.5L-50.5 -23.5L-49.7 -22.3L-49.3 -21L-49.9 -19.8L-49.9 -18.5L-50.6 -17.5L-51.8 -17.3L-52.8 -16.4L-53.7 -15.4L-55 -15.7L-56.1 -14.8L-57.5 -14.5L-58.6 -13.5L-60 -13.2L-61.1 -14.2L-62.4 -14.7L-63 -16L-63 -17.4L-62.1 -18.5L-62.1 -19.8L-62.6 -21L-62 -22.2L-61.7 -23.5L-61.5 -24.5L-61.4 -25.5ZM-44 -17.9L-43 -18.6L-41.9 -19.1L-40.6 -19.3L-39.4 -19.7L-38.3 -20.2L-37.5 -21L-36.3 -21.2L-35.7 -22.2L-35.3 -21.1L-34.4 -20.4L-35.1 -19.2L-35 -17.9L-34.5 -16.6L-33.2 -16L-33.9 -14.9L-33.8 -13.5L-34.9 -13.1L-35.7 -12.3L-36.9 -12.4L-37.5 -13.5L-38.5 -13.4L-39.4 -12.9L-40.1 -13.9L-41.2 -14.2L-42.2 -14.7L-43.1 -15.4L-43.1 -16.8ZM-43.1 -12.3L-42 -13L-40.6 -12.9L-40 -11.8L-38.8 -11.7L-37.5 -11.4L-36.3 -11L-35.1 -10.5L-33.8 -10.4L-32.6 -9.7L-31.9 -8.6L-32 -7.3L-32.5 -6.1L-33.4 -5.3L-34.4 -4.8L-35.5 -5.3L-36.3 -6.1L-37 -5.3L-38.1 -5.5L-39.1 -6L-40 -6.7L-40.6 -7.8L-41.9 -7.9L-42.5 -9L-43.5 -9.8L-42.7 -11ZM-45 -3.6L-43.6 -3.9L-42.5 -4.8L-41.4 -3.8L-40 -3.6L-38.6 -3.3L-37.5 -4.2L-36.4 -3.3L-35 -3L-33.9 -3.6L-32.5 -3.6L-31.2 -3.3L-30.1 -2.4L-28.8 -1.8L-27.6 -1.1L-26.4 -1L-25.7 -0.2L-25.1 0.7L-24.6 1.9L-23.8 2.8L-22.6 3.2L-21.8 3.9L-21.7 5.1L-20.8 5.7L-20.5 7.1L-19.5 8.2L-20.3 9.3L-20.1 10.7L-20.9 10L-22 10.1L-22.9 9.4L-23.9 8.8L-25 9.6L-26.3 9.4L-27 8.5L-28.2 8.2L-29.5 8.1L-30.7 7.6L-32 7.7L-33.2 8.2L-34.2 7.7L-35 7L-36.3 6.6L-37.5 6.3L-38.5 5.2L-40 5.1L-41.4 4.9L-42.5 3.8L-43.1 3L-43.6 2.1L-44.3 1.4L-44.9 0.1L-45.6 -1.1L-44.7 -2.2ZM-57.4 1.4L-56.2 0.6L-54.9 0.1L-54 0.9L-52.9 0.8L-51.8 0.7L-50.8 1.9L-49.3 2L-48.4 2.8L-48.1 3.9L-48.1 5.1L-48 6.4L-49 7.5L-48.7 8.8L-48.8 10L-49.7 10.7L-50.5 11.3L-51.7 12L-52.4 13.2L-53.1 12.2L-54.3 12.5L-55.2 12L-55.6 10.9L-56.1 10.1L-56.3 8.9L-56.7 7.9L-57.4 7L-57.3 5.9L-57.5 4.8L-58 3.8L-58 2.5ZM-66.7 -11L-65.6 -12L-64.2 -12.3L-62.8 -12.6L-61.7 -11.7L-60.6 -10.8L-59.2 -10.4L-58 -9.8L-57.4 -8.6L-57.4 -7.2L-58 -6.1L-59.3 -6L-59.9 -4.8L-61.1 -5.3L-62.3 -5.5L-63.5 -6.2L-64.8 -6.7L-65.4 -7.8L-66.3 -8.6L-66.4 -9.8ZM-56.1 -11.7L-54.8 -11.9L-53.7 -12.5L-52.3 -12.3L-51.2 -11.7L-49.8 -11.1L-49.3 -9.8L-48.2 -8.8L-48.1 -7.3L-47.9 -5.9L-48.9 -4.8L-50 -4.2L-51.2 -3.8L-52.5 -3.9L-53.4 -4.8L-54.6 -5.4L-55.1 -6.7L-55.8 -7.9L-56.4 -9.2L-55.7 -10.4ZM-68.6 -4.8L-67.3 -4.9L-66.1 -5.5L-64.7 -5.1L-63.6 -4.2L-62.9 -3L-61.7 -2.4L-61 -1.2L-61.1 0.1L-61.4 1.4L-62.6 2L-63.6 2.5L-64.8 2.6L-66 2.1L-67.1 1.4L-67.6 -0L-68.6 -1.1L-68.6 -2.4L-68.3 -3.6ZM-48.1 -17.3L-47.3 -18.1L-46.2 -17.9L-46.1 -16.6L-45 -16L-45.1 -15L-45.6 -14.2L-46.6 -14.4L-47.4 -13.8L-48.3 -14.8L-47.4 -16.2ZM-47.4 -2.4L-46.5 -1.3L-46.2 0.1L-46.9 1.1L-47 2.1L-46.8 3.2L-46.8 4.3L-46.1 5.2L-46.2 6.3L-46.1 7.6L-47.2 8.2L-48.2 7.1L-48.4 5.7L-47.8 4.5L-48.6 3.2L-48.1 2L-48.1 0.9L-48.4 -0.1L-48.7 -1.1L-47.9 -1.6ZM-37.8 13.3L-37 12.2L-35.6 11.7L-34.9 10.8L-34.1 10.2L-32.9 10.1L-32.4 11.1L-31.3 11.1L-30.1 11.6L-29.1 12.2L-27.7 12.2L-26.3 11.7L-25 11.8L-23.6 11.7L-22.1 11.9L-20.9 12.8L-19.7 12.7L-18.8 13.1L-18.2 14.1L-17 15.1L-15.4 15.2L-14.3 15.2L-13.9 16.7L-12.7 16.6L-11.5 17.3L-10.5 18.2L-9.9 19.5L-8.9 20.4L-8.7 21.6L-9.4 22.6L-8.8 23.5L-7.8 23.7L-6.7 24.3L-6.2 25.3L-6.3 26.5L-6.7 27.5L-7.5 28.6L-8.3 29.7L-8.7 31.1L-10 31.9L-10.2 33.1L-11.1 34.1L-12.2 34.9L-12.7 36.3L-13 37.7L-13.8 39L-14.2 40.4L-14.9 41.7L-15.7 42.9L-16 44.4L-16.5 45.7L-17.6 46.6L-18.1 47.9L-19.2 48.8L-19.8 50.1L-20.9 51L-21.6 51.9L-22.5 52.6L-23.2 53.6L-24.2 54.3L-24.8 54.7L-25.2 55.3L-24.4 55.9L-23.6 56.4L-24.5 56.6L-24.7 57.5L-26 58.2L-27.4 57.8L-28.8 57.7L-30.2 58.1L-31.6 57.8L-32.9 58.4L-34.2 59L-35.6 58.8L-36.8 59.9L-38.3 59.7L-39.7 60.1L-41.1 60.3L-42.5 60.5L-43.8 59.7L-45.2 59.3L-46.5 58.8L-47.7 59L-48.7 59.7L-49.9 60.8L-51.4 60.8L-52.3 61.8L-53.6 61.9L-54.6 62.3L-55.6 62.6L-56.2 63.6L-57.1 64.3L-58.2 64.7L-59 65.5L-59.6 66.5L-60.7 66.8L-61.4 67.8L-62.5 67.9L-63.4 68.2L-64.2 67.5L-64.4 66.3L-65.5 65.9L-66.3 65L-67.3 64.1L-67.6 62.9L-67.3 61.8L-66.7 60.8L-66.1 59.8L-65.9 58.6L-65.6 57.5L-64.7 56.7L-64 55.6L-64 54.3L-63 53.4L-63.4 51.8L-62.4 51L-61.3 50.4L-61.2 49.2L-60.7 48.3L-60.3 47.1L-59.6 46.2L-58.5 45.5L-57.5 45.1L-57.3 43.8L-56.4 43.3L-55.6 42.1L-54.2 41.7L-53.2 40.9L-52 40.6L-50.8 40.2L-50.4 39L-50.9 38.2L-51.4 37.3L-50.6 36.7L-50.4 35.7L-49.4 34.9L-48.2 35.2L-47.7 34.3L-47.1 33.5L-46.4 32.5L-45.4 31.9L-45 30.9L-43.8 30.6L-43.3 29.7L-42.7 28.8L-42.2 27.9L-41.1 27.5L-39.8 26.8L-39.4 25.3L-38.9 24.4L-38.7 23.3L-37.8 22.6L-38.2 21.1L-37.3 19.9L-37.3 18.5L-37.8 17.2L-38.1 16.1L-38.3 15L-38.7 14Z"/><g fill="#000" stroke="none"><circle cx="-11.5" cy="-118.6" r="0.85"/><circle cx="-7" cy="-119.9" r="0.85"/><circle cx="-3.9" cy="-120.2" r="0.85"/><circle cx="14.5" cy="-116.1" r="0.85"/><circle cx="-114.6" cy="18.1" r="0.85"/><circle cx="-85" cy="11.8" r="0.85"/><circle cx="-8.3" cy="57.1" r="0.85"/><circle cx="22" cy="15.7" r="0.85"/><circle cx="31.8" cy="96.3" r="0.85"/><circle cx="-10.6" cy="86.3" r="0.85"/><circle cx="-2.3" cy="93.4" r="0.85"/><circle cx="-5.4" cy="96.7" r="0.85"/></g></g></g><circle cx="361.0" cy="654.5" r="127.15" fill="none" stroke="#111" stroke-width="0.9"/>
<text x="360.4" y="40.3" font-size="24.4" xml:space="preserve" text-anchor="middle" class="b">DJF</text>
<text x="231.4" y="63.2" font-size="14" xml:space="preserve" text-anchor="middle" class="b">f2000c5_ne30_subtree</text>
<text x="490.3" y="63.2" font-size="14" xml:space="preserve" text-anchor="middle" class="b">f2000c5_ne30_master</text>
<text x="103" y="102.9" font-size="12.6" xml:space="preserve">Mid-level cloud</text>
<text x="359" y="100.2" font-size="12.6" xml:space="preserve" text-anchor="end">percent</text>
<text x="362.6" y="102.9" font-size="12.6" xml:space="preserve">Mid-level cloud</text>
<text x="618" y="100.2" font-size="12.6" xml:space="preserve" text-anchor="end">percent</text>
<text x="231.5" y="399.9" font-size="10.2" xml:space="preserve" text-anchor="middle">MEAN=  49.00  Min=  29.26  Max=  72.78</text>
<text x="490.3" y="399.9" font-size="10.2" xml:space="preserve" text-anchor="middle">MEAN=  47.82  Min=  29.99  Max=  73.88</text>
<text x="360.5" y="472.5" font-size="14" xml:space="preserve" text-anchor="middle" class="b">f2000c5_ne30_subtree - f2000c5_ne30_master</text>
<text x="232.9" y="512.5" font-size="12.6" xml:space="preserve">Mid-level cloud</text>
<text x="488.6" y="509.6" font-size="12.6" xml:space="preserve" text-anchor="end">percent</text>
<text x="564.2" y="552.8" font-size="10.2" xml:space="preserve" text-anchor="middle">MIN = -12.99 MAX =  10.75</text>
<rect x="108.2" y="408.5" width="15.6" height="12.9" fill="#9370DB"/><rect x="123.6" y="408.5" width="15.6" height="12.9" fill="#0000CD"/><rect x="139" y="408.5" width="15.6" height="12.9" fill="#4169E1"/><rect x="154.4" y="408.5" width="15.6" height="12.9" fill="#7B9AF0"/><rect x="169.8" y="408.5" width="15.6" height="12.9" fill="#B0E0E6"/><rect x="185.2" y="408.5" width="15.6" height="12.9" fill="#20B2AA"/><rect x="200.6" y="408.5" width="15.6" height="12.9" fill="#BCEE68"/><rect x="216" y="408.5" width="15.6" height="12.9" fill="#94BE30"/><rect x="231.4" y="408.5" width="15.6" height="12.9" fill="#F5E6BE"/><rect x="246.9" y="408.5" width="15.6" height="12.9" fill="#DEB887"/><rect x="262.3" y="408.5" width="15.6" height="12.9" fill="#FFE400"/><rect x="277.7" y="408.5" width="15.6" height="12.9" fill="#FFA500"/><rect x="293.1" y="408.5" width="15.6" height="12.9" fill="#FF4500"/><rect x="308.5" y="408.5" width="15.6" height="12.9" fill="#B22222"/><rect x="323.9" y="408.5" width="15.6" height="12.9" fill="#FFB6C1"/><rect x="339.3" y="408.5" width="15.4" height="12.9" fill="#FF1493"/><path d="M123.6 408.5V421.4M139 408.5V421.4M154.4 408.5V421.4M169.8 408.5V421.4M185.2 408.5V421.4M200.6 408.5V421.4M216 408.5V421.4M231.4 408.5V421.4M246.9 408.5V421.4M262.3 408.5V421.4M277.7 408.5V421.4M293.1 408.5V421.4M308.5 408.5V421.4M323.9 408.5V421.4M339.3 408.5V421.4" stroke="#000" stroke-width="0.8" fill="none"/><rect x="108.2" y="408.5" width="246.5" height="12.9" fill="none" stroke="#000" stroke-width="0.9"/><text x="123.6" y="434.9" font-size="10.2" xml:space="preserve" text-anchor="middle">10</text><text x="154.4" y="434.9" font-size="10.2" xml:space="preserve" text-anchor="middle">30</text><text x="185.2" y="434.9" font-size="10.2" xml:space="preserve" text-anchor="middle">45</text><text x="216" y="434.9" font-size="10.2" xml:space="preserve" text-anchor="middle">55</text><text x="246.9" y="434.9" font-size="10.2" xml:space="preserve" text-anchor="middle">65</text><text x="277.7" y="434.9" font-size="10.2" xml:space="preserve" text-anchor="middle">75</text><text x="308.5" y="434.9" font-size="10.2" xml:space="preserve" text-anchor="middle">85</text><text x="339.3" y="434.9" font-size="10.2" xml:space="preserve" text-anchor="middle">95</text>
<rect x="367.3" y="408.5" width="15.6" height="12.9" fill="#9370DB"/><rect x="382.7" y="408.5" width="15.6" height="12.9" fill="#0000CD"/><rect x="398.1" y="408.5" width="15.6" height="12.9" fill="#4169E1"/><rect x="413.5" y="408.5" width="15.6" height="12.9" fill="#7B9AF0"/><rect x="428.9" y="408.5" width="15.6" height="12.9" fill="#B0E0E6"/><rect x="444.3" y="408.5" width="15.6" height="12.9" fill="#20B2AA"/><rect x="459.7" y="408.5" width="15.6" height="12.9" fill="#BCEE68"/><rect x="475.1" y="408.5" width="15.6" height="12.9" fill="#94BE30"/><rect x="490.5" y="408.5" width="15.6" height="12.9" fill="#F5E6BE"/><rect x="506" y="408.5" width="15.6" height="12.9" fill="#DEB887"/><rect x="521.4" y="408.5" width="15.6" height="12.9" fill="#FFE400"/><rect x="536.8" y="408.5" width="15.6" height="12.9" fill="#FFA500"/><rect x="552.2" y="408.5" width="15.6" height="12.9" fill="#FF4500"/><rect x="567.6" y="408.5" width="15.6" height="12.9" fill="#B22222"/><rect x="583" y="408.5" width="15.6" height="12.9" fill="#FFB6C1"/><rect x="598.4" y="408.5" width="15.4" height="12.9" fill="#FF1493"/><path d="M382.7 408.5V421.4M398.1 408.5V421.4M413.5 408.5V421.4M428.9 408.5V421.4M444.3 408.5V421.4M459.7 408.5V421.4M475.1 408.5V421.4M490.5 408.5V421.4M506 408.5V421.4M521.4 408.5V421.4M536.8 408.5V421.4M552.2 408.5V421.4M567.6 408.5V421.4M583 408.5V421.4M598.4 408.5V421.4" stroke="#000" stroke-width="0.8" fill="none"/><rect x="367.3" y="408.5" width="246.5" height="12.9" fill="none" stroke="#000" stroke-width="0.9"/><text x="382.7" y="434.9" font-size="10.2" xml:space="preserve" text-anchor="middle">10</text><text x="413.5" y="434.9" font-size="10.2" xml:space="preserve" text-anchor="middle">30</text><text x="444.3" y="434.9" font-size="10.2" xml:space="preserve" text-anchor="middle">45</text><text x="475.1" y="434.9" font-size="10.2" xml:space="preserve" text-anchor="middle">55</text><text x="506" y="434.9" font-size="10.2" xml:space="preserve" text-anchor="middle">65</text><text x="536.8" y="434.9" font-size="10.2" xml:space="preserve" text-anchor="middle">75</text><text x="567.6" y="434.9" font-size="10.2" xml:space="preserve" text-anchor="middle">85</text><text x="598.4" y="434.9" font-size="10.2" xml:space="preserve" text-anchor="middle">95</text>
<rect x="544.3" y="575" width="22.4" height="13" fill="#FF1493"/><rect x="544.3" y="587.8" width="22.4" height="13" fill="#FFB6C1"/><rect x="544.3" y="600.6" width="22.4" height="13" fill="#B22222"/><rect x="544.3" y="613.4" width="22.4" height="13" fill="#FF4500"/><rect x="544.3" y="626.1" width="22.4" height="13" fill="#FFA500"/><rect x="544.3" y="638.9" width="22.4" height="13" fill="#FFE400"/><rect x="544.3" y="651.7" width="22.4" height="13" fill="#DEB887"/><rect x="544.3" y="664.5" width="22.4" height="13" fill="#F5E6BE"/><rect x="544.3" y="677.3" width="22.4" height="13" fill="#94BE30"/><rect x="544.3" y="690.1" width="22.4" height="13" fill="#BCEE68"/><rect x="544.3" y="702.9" width="22.4" height="13" fill="#20B2AA"/><rect x="544.3" y="715.7" width="22.4" height="13" fill="#B0E0E6"/><rect x="544.3" y="728.5" width="22.4" height="13" fill="#7B9AF0"/><rect x="544.3" y="741.2" width="22.4" height="13" fill="#4169E1"/><rect x="544.3" y="754" width="22.4" height="13" fill="#0000CD"/><rect x="544.3" y="766.8" width="22.4" height="12.8" fill="#9370DB"/><path d="M544.3 587.8H566.7M544.3 600.6H566.7M544.3 613.4H566.7M544.3 626.1H566.7M544.3 638.9H566.7M544.3 651.7H566.7M544.3 664.5H566.7M544.3 677.3H566.7M544.3 690.1H566.7M544.3 702.9H566.7M544.3 715.7H566.7M544.3 728.5H566.7M544.3 741.2H566.7M544.3 754H566.7M544.3 766.8H566.7" stroke="#000" stroke-width="0.8" fill="none"/><rect x="544.3" y="575" width="22.4" height="204.6" fill="none" stroke="#000" stroke-width="0.9"/><text x="577.4" y="591.4" font-size="10.2" xml:space="preserve" text-anchor="middle">50</text><text x="577.4" y="604.2" font-size="10.2" xml:space="preserve" text-anchor="middle">40</text><text x="577.4" y="617" font-size="10.2" xml:space="preserve" text-anchor="middle">30</text><text x="577.4" y="629.8" font-size="10.2" xml:space="preserve" text-anchor="middle">20</text><text x="577.4" y="642.5" font-size="10.2" xml:space="preserve" text-anchor="middle">15</text><text x="577.4" y="655.3" font-size="10.2" xml:space="preserve" text-anchor="middle">10</text><text x="577.4" y="668.1" font-size="10.2" xml:space="preserve" text-anchor="middle">5</text><text x="577.4" y="680.9" font-size="10.2" xml:space="preserve" text-anchor="middle">0</text><text x="577.4" y="693.7" font-size="10.2" xml:space="preserve" text-anchor="middle">-5</text><text x="577.4" y="706.5" font-size="10.2" xml:space="preserve" text-anchor="middle">-10</text><text x="577.4" y="719.3" font-size="10.2" xml:space="preserve" text-anchor="middle">-15</text><text x="577.4" y="732.1" font-size="10.2" xml:space="preserve" text-anchor="middle">-20</text><text x="577.4" y="744.8" font-size="10.2" xml:space="preserve" text-anchor="middle">-30</text><text x="577.4" y="757.6" font-size="10.2" xml:space="preserve" text-anchor="middle">-40</text><text x="577.4" y="770.4" font-size="10.2" xml:space="preserve" text-anchor="middle">-50</text>
</svg></body></html>
